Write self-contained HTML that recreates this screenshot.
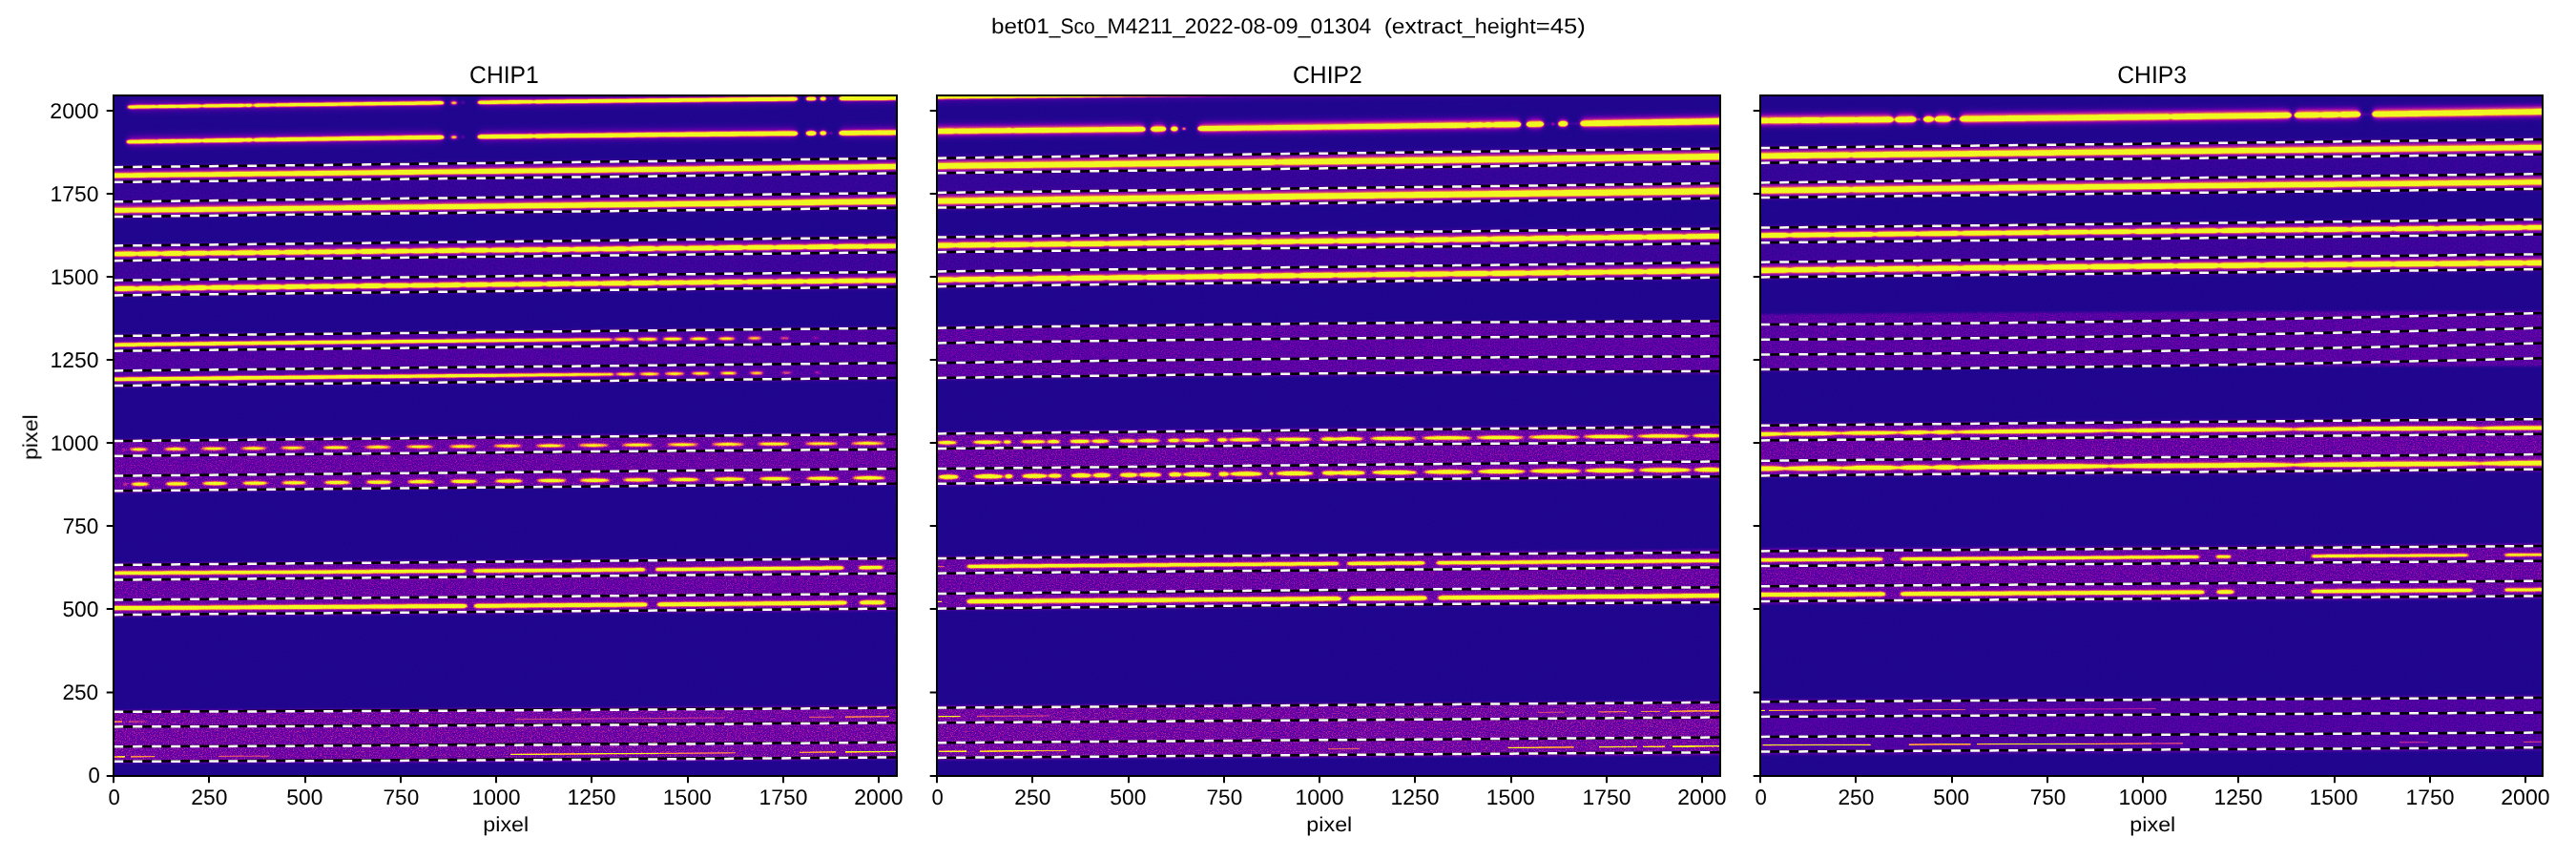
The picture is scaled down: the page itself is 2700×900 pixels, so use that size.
<!DOCTYPE html>
<html lang="en"><head><meta charset="utf-8"><title>bet01_Sco_M4211_2022-08-09_01304</title>
<style>html,body{margin:0;padding:0;background:#fff;}body{width:2700px;height:900px;overflow:hidden;}svg{display:block;}text{font-family:"Liberation Sans",sans-serif;fill:#000;text-rendering:geometricPrecision;}</style></head><body>
<svg width="2700" height="900" viewBox="0 0 2700 900">
<rect width="2700" height="900" fill="#fff"/>
<g id="panel1">
<clipPath id="cp1"><rect x="119" y="100" width="821" height="713"/></clipPath>
<filter id="bbp1" x="109" y="90" width="841" height="733" filterUnits="userSpaceOnUse" color-interpolation-filters="sRGB"><feGaussianBlur stdDeviation="0.9"/></filter>
<filter id="bhp1" x="109" y="90" width="841" height="733" filterUnits="userSpaceOnUse" color-interpolation-filters="sRGB"><feGaussianBlur stdDeviation="2.1"/></filter>
<filter id="bwp1" x="109" y="90" width="841" height="733" filterUnits="userSpaceOnUse" color-interpolation-filters="sRGB"><feGaussianBlur stdDeviation="3"/></filter>
<filter id="bfp1" x="109" y="90" width="841" height="733" filterUnits="userSpaceOnUse" color-interpolation-filters="sRGB"><feGaussianBlur stdDeviation="0.45"/></filter>
<filter id="bcp1" x="109" y="90" width="841" height="733" filterUnits="userSpaceOnUse" color-interpolation-filters="sRGB"><feGaussianBlur stdDeviation="0.8"/></filter>
<filter id="nzp1" x="109" y="90" width="841" height="733" filterUnits="userSpaceOnUse" color-interpolation-filters="sRGB"><feTurbulence type="fractalNoise" baseFrequency="0.8" numOctaves="2" seed="4" result="t"/><feColorMatrix in="t" type="matrix" values="2.2 0 0 0 -0.6  2.2 0 0 0 -0.6  2.2 0 0 0 -0.6  0 0 0 0 1" result="n"/><feComposite in="SourceGraphic" in2="n" operator="arithmetic" k1="1.0" k2="0.5" k3="-0.11" k4="0.055"/></filter>
<filter id="cmp1" x="109" y="90" width="841" height="733" filterUnits="userSpaceOnUse" color-interpolation-filters="sRGB"><feTurbulence type="fractalNoise" baseFrequency="0.9" numOctaves="1" seed="14" result="t"/><feColorMatrix in="t" type="matrix" values="1 0 0 0 0  1 0 0 0 0  1 0 0 0 0  0 0 0 0 1" result="n"/><feComposite in="SourceGraphic" in2="n" operator="arithmetic" k1="0" k2="1" k3="0.05" k4="-0.025" result="m"/><feComponentTransfer in="m"><feFuncR type="table" tableValues="0.0504 0.0504 0.0504 0.0504 0.0504 0.0504 0.0635 0.0635 0.0754 0.0754 0.0862 0.0862 0.0964 0.106 0.1151 0.1239 0.1324 0.1406 0.1486 0.1564 0.1641 0.1716 0.1862 0.1934 0.2074 0.2144 0.228 0.2347 0.248 0.2612 0.2742 0.2871 0.2999 0.3125 0.3252 0.3377 0.3502 0.3626 0.381 0.3933 0.4116 0.4237 0.4417 0.4537 0.4715 0.4891 0.5065 0.5236 0.5406 0.5572 0.5736 0.5897 0.6055 0.6209 0.641 0.6556 0.6745 0.6883 0.7062 0.7192 0.736 0.7523 0.7681 0.7834 0.7982 0.8126 0.8266 0.8402 0.8533 0.8661 0.8814 0.8932 0.9074 0.9181 0.9308 0.9403 0.9513 0.9613 0.9702 0.9779 0.9842 0.9891 0.9925 0.9943 0.9944 0.9925 0.9876 0.9812 0.9705 0.9593 0.9442 0.94 0.94 0.94 0.94 0.94 0.94 0.94 0.94 0.94 0.94 0.94 0.94 0.94 0.94 0.94 0.94 0.94 0.94 0.94 0.94 0.94 0.94 0.94 0.94 0.94 0.94 0.94 0.94 0.94 0.94 0.94 0.94 0.94 0.94 0.94 0.94 0.94 0.94"/><feFuncG type="table" tableValues="0.0298 0.0298 0.0298 0.0298 0.0298 0.0298 0.0284 0.0284 0.0272 0.0272 0.0261 0.0261 0.0252 0.0243 0.0236 0.0229 0.0223 0.0217 0.0212 0.0207 0.0202 0.0197 0.0188 0.0184 0.0174 0.017 0.016 0.0155 0.0144 0.0133 0.0121 0.0109 0.0096 0.0082 0.0069 0.0056 0.0044 0.0032 0.0018 0.0011 0.0006 0.0006 0.0015 0.0028 0.0057 0.0101 0.0163 0.0245 0.035 0.0473 0.06 0.0729 0.0859 0.0989 0.1165 0.1297 0.1474 0.1607 0.1784 0.1917 0.2094 0.2271 0.2448 0.2625 0.2802 0.2979 0.3157 0.3336 0.3516 0.3697 0.3925 0.411 0.4345 0.4536 0.4779 0.4976 0.5228 0.5486 0.575 0.6021 0.6297 0.658 0.687 0.7167 0.747 0.778 0.816 0.8483 0.8879 0.9214 0.9619 0.9752 0.9752 0.9752 0.9752 0.9752 0.9752 0.9752 0.9752 0.9752 0.9752 0.9752 0.9752 0.9752 0.9752 0.9752 0.9752 0.9752 0.9752 0.9752 0.9752 0.9752 0.9752 0.9752 0.9752 0.9752 0.9752 0.9752 0.9752 0.9752 0.9752 0.9752 0.9752 0.9752 0.9752 0.9752 0.9752 0.9752 0.9752"/><feFuncB type="table" tableValues="0.528 0.528 0.528 0.528 0.528 0.528 0.5331 0.5331 0.538 0.538 0.5427 0.5427 0.5471 0.5514 0.5555 0.5594 0.5632 0.567 0.5706 0.5741 0.5775 0.5808 0.5872 0.5903 0.5963 0.5992 0.6049 0.6076 0.6129 0.6179 0.6227 0.6273 0.6316 0.6357 0.6395 0.643 0.6463 0.6492 0.6531 0.6552 0.6577 0.659 0.6601 0.6603 0.6599 0.6585 0.6562 0.6529 0.6486 0.6434 0.6373 0.6304 0.6227 0.6143 0.6021 0.5923 0.5787 0.5681 0.5537 0.5427 0.5279 0.5131 0.4985 0.4839 0.4695 0.4553 0.4413 0.4275 0.4137 0.4001 0.3832 0.3698 0.353 0.3395 0.3227 0.3092 0.2923 0.2753 0.2583 0.2414 0.2246 0.2081 0.1922 0.1772 0.1638 0.1529 0.1444 0.1423 0.1459 0.1516 0.1469 0.1313 0.1313 0.1313 0.1313 0.1313 0.1313 0.1313 0.1313 0.1313 0.1313 0.1313 0.1313 0.1313 0.1313 0.1313 0.1313 0.1313 0.1313 0.1313 0.1313 0.1313 0.1313 0.1313 0.1313 0.1313 0.1313 0.1313 0.1313 0.1313 0.1313 0.1313 0.1313 0.1313 0.1313 0.1313 0.1313 0.1313 0.1313"/><feFuncA type="linear" slope="0" intercept="1"/></feComponentTransfer></filter>
<g clip-path="url(#cp1)">
<g filter="url(#cmp1)">
<g filter="url(#nzp1)">
<rect x="109" y="90" width="841" height="733" fill="#1f1f1f"/>
<g filter="url(#bbp1)">
<polygon points="113,173.37 217.12,172.16 321.25,170.95 425.38,169.73 529.5,168.5 633.62,167.27 737.75,166.03 841.88,164.78 946,163.53 946,219.94 841.88,221.03 737.75,222.14 633.62,223.26 529.5,224.4 425.38,225.55 321.25,226.71 217.12,227.88 113,229.07" fill="#303030"/>
<polygon points="113,255.47 217.12,254.26 321.25,253.08 425.38,251.93 529.5,250.8 633.62,249.7 737.75,248.62 841.88,247.57 946,246.54 946,302.53 841.88,303.67 737.75,304.79 633.62,305.9 529.5,307 425.38,308.08 321.25,309.16 217.12,310.21 113,311.26" fill="#363636"/>
<polygon points="113,350.06 217.12,349.03 321.25,347.99 425.38,346.95 529.5,345.9 633.62,344.84 737.75,343.78 841.88,342.71 946,341.64 946,398.66 841.88,399.42 737.75,400.25 633.62,401.14 529.5,402.1 425.38,403.12 321.25,404.21 217.12,405.36 113,406.57" fill="#414141"/>
<polygon points="113,460.37 217.12,459.2 321.25,458.09 425.38,457.06 529.5,456.1 633.62,455.21 737.75,454.39 841.88,453.64 946,452.96 946,508.37 841.88,508.98 737.75,509.73 633.62,510.6 529.5,511.6 425.38,512.73 321.25,513.99 217.12,515.38 113,516.89" fill="#4f4f4f"/>
<polygon points="113,589.95 217.12,589.1 321.25,588.24 425.38,587.37 529.5,586.5 633.62,585.62 737.75,584.74 841.88,583.85 946,582.95 946,639.96 841.88,640.67 737.75,641.42 633.62,642.19 529.5,643 425.38,643.84 321.25,644.71 217.12,645.62 113,646.55" fill="#4f4f4f"/>
<polygon points="113,744.03 217.12,743.55 321.25,743.04 425.38,742.49 529.5,741.9 633.62,741.27 737.75,740.61 841.88,739.9 946,739.16 946,795.24 841.88,796.27 737.75,797.15 633.62,797.9 529.5,798.5 425.38,798.96 321.25,799.28 217.12,799.46 113,799.5" fill="#555555"/>
</g>
</g>
<g filter="url(#bwp1)" fill="none" stroke-linecap="butt" style="mix-blend-mode:lighten">
<path d="M136 111.26Q299.5 108.99 463 107" stroke="#434343" stroke-width="12.4"/>
<path d="M503 106.51Q668.25 104.54 833.5 102.86" stroke="#434343" stroke-width="12.4"/>
<path d="M882 102.37Q912 102.07 942 101.78" stroke="#434343" stroke-width="12.4"/>
<path d="M135 147.84Q299 145.15 463 143.03" stroke="#464646" stroke-width="13.1"/>
<path d="M503 142.53Q668.25 140.47 833.5 138.99" stroke="#464646" stroke-width="13.1"/>
<path d="M882 138.57Q912 138.32 942 138.08" stroke="#464646" stroke-width="13.1"/>
<path d="M116 183.13Q529.5 178.55 943 173.77" stroke="#484848" stroke-width="13.9"/>
<path d="M116 219.68Q529.5 215.4 943 210.11" stroke="#494949" stroke-width="14.2"/>
<path d="M116 265.43Q529.5 261.2 943 256.97" stroke="#484848" stroke-width="13.7"/>
<path d="M116 301.84Q529.5 297 943 292.97" stroke="#484848" stroke-width="13.7"/>
<path d="M113 360.58Q376 357.2 639 354.89" stroke="#424242" stroke-width="11.9"/>
<path d="M113 396.67Q377 393.77 641 391.36" stroke="#424242" stroke-width="11.9"/>
<path d="M113 599.63Q299.5 598.73 486 597.41" stroke="#434343" stroke-width="12.2"/>
<path d="M498.5 597.32Q586.25 596.7 674 595.98" stroke="#434343" stroke-width="12.2"/>
<path d="M689.5 595.85Q785.75 595.06 882 594.16" stroke="#434343" stroke-width="12.2"/>
<path d="M902.5 593.96Q912.75 593.86 923 593.76" stroke="#434343" stroke-width="12.2"/>
<path d="M113 636.33Q300 635.45 487 634.11" stroke="#454545" stroke-width="12.8"/>
<path d="M499.5 634.02Q587.75 633.38 676 632.64" stroke="#454545" stroke-width="12.8"/>
<path d="M691.5 632.51Q788.25 631.69 885 630.75" stroke="#454545" stroke-width="12.8"/>
<path d="M903.5 630.56Q914.25 630.46 925 630.35" stroke="#454545" stroke-width="12.8"/>
</g>
<g filter="url(#bhp1)" fill="none" stroke-linecap="butt">
<path d="M134 111.59Q299.5 109.29 465 107.27" stroke="#5a5a5a" stroke-width="5.6"/>
<path d="M501 106.84Q668.25 104.84 835.5 103.13" stroke="#5a5a5a" stroke-width="5.6"/>
<path d="M845.4 103.03Q850.2 102.99 855 102.94" stroke="#5a5a5a" stroke-width="5.6"/>
<path d="M860 102.89Q862.7 102.86 865.4 102.83" stroke="#5a5a5a" stroke-width="5.6"/>
<path d="M880 102.69Q912 102.37 944 102.06" stroke="#5a5a5a" stroke-width="5.6"/>
<ellipse cx="475.8" cy="107.14" rx="4" ry="2.7" fill="#636363" stroke="none"/>
<path d="M133 148.17Q299 145.44 465 143.31" stroke="#666666" stroke-width="6.92"/>
<path d="M501 142.85Q668.25 140.76 835.5 139.27" stroke="#666666" stroke-width="6.92"/>
<path d="M845.4 139.19Q850.2 139.14 855 139.1" stroke="#666666" stroke-width="6.92"/>
<path d="M860 139.06Q862.7 139.03 865.4 139.01" stroke="#666666" stroke-width="6.92"/>
<path d="M880 138.89Q912 138.62 944 138.37" stroke="#666666" stroke-width="6.92"/>
<ellipse cx="475.8" cy="143.17" rx="4" ry="3.05" fill="#636363" stroke="none"/>
<path d="M114 183.46Q529.5 178.85 945 174.04" stroke="#797979" stroke-width="8.41"/>
<path d="M114 220Q529.5 215.71 945 210.39" stroke="#7e7e7e" stroke-width="8.98"/>
<path d="M114 265.75Q529.5 261.5 945 257.25" stroke="#747474" stroke-width="8.04"/>
<path d="M114 302.16Q529.5 297.3 945 293.25" stroke="#747474" stroke-width="8.04"/>
<path d="M111 360.9Q376 357.5 641 355.18" stroke="#4f4f4f" stroke-width="4.67"/>
<ellipse cx="653.7" cy="355.06" rx="11.5" ry="2.45" fill="#636363" stroke="none"/>
<ellipse cx="678.8" cy="354.85" rx="11.5" ry="2.45" fill="#636363" stroke="none"/>
<ellipse cx="705" cy="354.63" rx="11" ry="2.45" fill="#636363" stroke="none"/>
<ellipse cx="732.3" cy="354.41" rx="10.5" ry="2.45" fill="#636363" stroke="none"/>
<ellipse cx="761.6" cy="354.17" rx="9.5" ry="2.45" fill="#636363" stroke="none"/>
<ellipse cx="791" cy="353.95" rx="8" ry="2.45" fill="#636363" stroke="none"/>
<path d="M111 396.99Q377 394.06 643 391.64" stroke="#4f4f4f" stroke-width="4.67"/>
<ellipse cx="655.7" cy="391.53" rx="11.5" ry="2.45" fill="#636363" stroke="none"/>
<ellipse cx="680.8" cy="391.3" rx="11.5" ry="2.45" fill="#636363" stroke="none"/>
<ellipse cx="707" cy="391.07" rx="11" ry="2.45" fill="#636363" stroke="none"/>
<ellipse cx="734.3" cy="390.83" rx="10.5" ry="2.45" fill="#636363" stroke="none"/>
<ellipse cx="763.6" cy="390.57" rx="9.5" ry="2.45" fill="#636363" stroke="none"/>
<ellipse cx="793" cy="390.32" rx="8" ry="2.45" fill="#636363" stroke="none"/>
<ellipse cx="145.5" cy="470.33" rx="10" ry="2.1" fill="#636363" stroke="none"/>
<ellipse cx="184" cy="469.95" rx="12.5" ry="2.1" fill="#636363" stroke="none"/>
<ellipse cx="224" cy="469.56" rx="14" ry="2.1" fill="#636363" stroke="none"/>
<ellipse cx="266" cy="469.16" rx="14" ry="2.1" fill="#636363" stroke="none"/>
<ellipse cx="307" cy="468.77" rx="13.5" ry="2.1" fill="#636363" stroke="none"/>
<ellipse cx="352" cy="468.36" rx="14.5" ry="2.1" fill="#636363" stroke="none"/>
<ellipse cx="396" cy="467.96" rx="14.5" ry="2.1" fill="#636363" stroke="none"/>
<ellipse cx="440" cy="467.57" rx="15" ry="2.1" fill="#636363" stroke="none"/>
<ellipse cx="485" cy="467.18" rx="15" ry="2.1" fill="#636363" stroke="none"/>
<ellipse cx="532" cy="466.78" rx="15.5" ry="2.1" fill="#636363" stroke="none"/>
<ellipse cx="577" cy="466.41" rx="16" ry="2.1" fill="#636363" stroke="none"/>
<ellipse cx="622" cy="466.04" rx="16.5" ry="2.1" fill="#636363" stroke="none"/>
<ellipse cx="668" cy="465.68" rx="17" ry="2.1" fill="#636363" stroke="none"/>
<ellipse cx="715.5" cy="465.31" rx="17" ry="2.1" fill="#636363" stroke="none"/>
<ellipse cx="763" cy="464.95" rx="17.5" ry="2.1" fill="#636363" stroke="none"/>
<ellipse cx="811" cy="464.6" rx="17.5" ry="2.1" fill="#636363" stroke="none"/>
<ellipse cx="861" cy="464.24" rx="18" ry="2.1" fill="#636363" stroke="none"/>
<ellipse cx="909.5" cy="463.91" rx="18" ry="2.1" fill="#636363" stroke="none"/>
<ellipse cx="958" cy="463.58" rx="18" ry="2.1" fill="#636363" stroke="none"/>
<ellipse cx="146.8" cy="506.67" rx="10" ry="2.4" fill="#636363" stroke="none"/>
<ellipse cx="185.3" cy="506.36" rx="12.5" ry="2.4" fill="#636363" stroke="none"/>
<ellipse cx="225.3" cy="506.03" rx="14" ry="2.4" fill="#636363" stroke="none"/>
<ellipse cx="267.3" cy="505.68" rx="14" ry="2.4" fill="#636363" stroke="none"/>
<ellipse cx="308.3" cy="505.34" rx="13.5" ry="2.4" fill="#636363" stroke="none"/>
<ellipse cx="353.3" cy="504.97" rx="14.5" ry="2.4" fill="#636363" stroke="none"/>
<ellipse cx="397.3" cy="504.61" rx="14.5" ry="2.4" fill="#636363" stroke="none"/>
<ellipse cx="441.3" cy="504.24" rx="15" ry="2.4" fill="#636363" stroke="none"/>
<ellipse cx="486.3" cy="503.86" rx="15" ry="2.4" fill="#636363" stroke="none"/>
<ellipse cx="533.3" cy="503.47" rx="15.5" ry="2.4" fill="#636363" stroke="none"/>
<ellipse cx="578.3" cy="503.09" rx="16" ry="2.4" fill="#636363" stroke="none"/>
<ellipse cx="623.3" cy="502.71" rx="16.5" ry="2.4" fill="#636363" stroke="none"/>
<ellipse cx="669.3" cy="502.32" rx="17" ry="2.4" fill="#636363" stroke="none"/>
<ellipse cx="716.8" cy="501.92" rx="17" ry="2.4" fill="#636363" stroke="none"/>
<ellipse cx="764.3" cy="501.51" rx="17.5" ry="2.4" fill="#636363" stroke="none"/>
<ellipse cx="812.3" cy="501.1" rx="17.5" ry="2.4" fill="#636363" stroke="none"/>
<ellipse cx="862.3" cy="500.67" rx="18" ry="2.4" fill="#636363" stroke="none"/>
<ellipse cx="910.8" cy="500.25" rx="18" ry="2.4" fill="#636363" stroke="none"/>
<ellipse cx="959.3" cy="499.83" rx="18" ry="2.4" fill="#636363" stroke="none"/>
<path d="M111 599.94Q299.5 599.03 488 597.7" stroke="#545454" stroke-width="5.23"/>
<path d="M496.5 597.64Q586.25 597 676 596.27" stroke="#545454" stroke-width="5.23"/>
<path d="M687.5 596.17Q785.75 595.36 884 594.44" stroke="#545454" stroke-width="5.23"/>
<path d="M900.5 594.28Q912.75 594.16 925 594.05" stroke="#545454" stroke-width="5.23"/>
<path d="M111 636.64Q300 635.75 489 634.4" stroke="#5e5e5e" stroke-width="6.35"/>
<path d="M497.5 634.33Q587.75 633.68 678 632.92" stroke="#5e5e5e" stroke-width="6.35"/>
<path d="M689.5 632.83Q788.25 631.99 887 631.03" stroke="#5e5e5e" stroke-width="6.35"/>
<path d="M901.5 630.88Q914.25 630.76 927 630.63" stroke="#5e5e5e" stroke-width="6.35"/>
</g>
<g filter="url(#bcp1)" fill="none">
<polygon points="133,112.1 133.75,111.3 134.5,111.03 135.25,110.85 136,110.75 136.75,110.7 139,110.66 145,110.58 151,110.49 156.5,110.42 157,110.41 158,110.4 159.5,110.38 161,110.36 162.5,110.48 163,110.58 164,110.7 165.5,110.44 167,110.28 168.5,110.25 169,110.24 170,110.23 171.5,110.21 175,110.16 178.5,110.11 180,110.09 181,110.07 181.5,110.07 183,110.05 184.5,110.15 186,110.35 187,110.21 187.5,110.11 189,109.97 190.5,109.94 192,109.92 193,109.91 193.5,109.9 199,109.82 204,109.75 205,109.74 205.5,109.73 207,109.71 208.5,109.71 210,110 211,110.31 211.5,110.36 213,109.95 214.5,109.63 216,109.59 217,109.57 217.5,109.57 219,109.54 223,109.49 229,109.41 235,109.32 241,109.24 247,109.16 249.1,109.13 250.6,109.11 252.1,109.09 253,109.08 253.6,109.08 255.1,109.23 256.6,109.51 257.8,109.27 258.1,109.19 259,109.03 259.3,109.01 259.6,109 260.8,108.97 261.1,108.97 262.3,108.98 262.6,109.01 263.8,109.41 264.1,109.56 265,109.79 265.3,109.79 266.8,109.37 268.3,108.9 269.8,108.85 271,108.83 271.3,108.83 272.8,108.81 275.5,108.77 277,108.75 278.5,108.73 280,108.71 281.5,108.8 283,109.01 284.5,108.76 286,108.76 287.5,109 289,108.71 290.5,108.57 292,108.55 293.5,108.53 295,108.51 301,108.42 307,108.34 313,108.26 319,108.18 325,108.1 331,108.02 337,107.94 343,107.86 349,107.78 355,107.7 361,107.62 367,107.54 373,107.46 379,107.38 385,107.31 391,107.23 397,107.15 403,107.07 409,106.99 415,106.91 421,106.83 427,106.76 433,106.68 439,106.6 445,106.52 451,106.45 457,106.37 462.25,106.31 463,106.34 463.75,106.43 464.5,106.6 465.25,106.89 466,107.76 466,107.76 465.25,108.65 464.5,108.95 463.75,109.14 463,109.25 462.25,109.31 457,109.37 451,109.44 445,109.51 439,109.58 433,109.65 427,109.72 421,109.79 415,109.86 409,109.93 403,110.01 397,110.08 391,110.15 385,110.22 379,110.29 373,110.37 367,110.44 361,110.51 355,110.58 349,110.66 343,110.73 337,110.81 331,110.88 325,110.95 319,111.03 313,111.1 307,111.18 301,111.25 295,111.33 293.5,111.35 292,111.37 290.5,111.38 289,111.28 287.5,111.03 286,111.31 284.5,111.35 283,111.14 281.5,111.39 280,111.52 278.5,111.54 277,111.56 275.5,111.58 272.8,111.61 271.3,111.63 271,111.63 269.8,111.65 268.3,111.63 266.8,111.21 265.3,110.82 265,110.84 264.1,111.09 263.8,111.24 262.6,111.67 262.3,111.71 261.1,111.76 260.8,111.76 259.6,111.77 259.3,111.76 259,111.75 258.1,111.62 257.8,111.54 256.6,111.34 255.1,111.66 253.6,111.85 253,111.86 252.1,111.88 250.6,111.9 249.1,111.92 247,111.94 241,112.02 235,112.1 229,112.18 223,112.25 219,112.31 217.5,112.33 217,112.33 216,112.35 214.5,112.34 213,112.06 211.5,111.7 211,111.75 210,112.1 208.5,112.42 207,112.46 205.5,112.48 205,112.49 204,112.5 199,112.57 193.5,112.64 193,112.65 192,112.66 190.5,112.68 189,112.7 187.5,112.6 187,112.51 186,112.4 184.5,112.64 183,112.78 181.5,112.8 181,112.81 180,112.82 178.5,112.84 175,112.89 171.5,112.94 170,112.96 169,112.97 168.5,112.98 167,112.99 165.5,112.87 164,112.65 163,112.8 162.5,112.91 161,113.07 159.5,113.1 158,113.12 157,113.13 156.5,113.14 151,113.21 145,113.3 139,113.38 136.75,113.41 136,113.38 135.25,113.29 134.5,113.14 133.75,112.88 133,112.1" fill="#fff" stroke="none"/>
<polygon points="500,107.35 500.75,106.45 501.5,106.14 502.25,105.95 503,105.83 503.75,105.78 506,105.75 512,105.67 518,105.59 524,105.52 530,105.44 536,105.37 542,105.29 548,105.22 551.9,105.17 553.4,105.15 554,105.14 554.9,105.13 556.4,105.13 557.9,105.35 559.4,105.76 560,105.66 560.9,105.31 562.4,105.05 563.9,105.02 565.4,105 566,104.99 566.9,104.98 572,104.92 578,104.85 584,104.77 590,104.7 596,104.62 602,104.55 608,104.48 614,104.4 620,104.33 626,104.26 632,104.19 638,104.11 644,104.04 650,103.97 656,103.9 662,103.82 668,103.75 674,103.68 680,103.61 686,103.54 692,103.47 698,103.39 704,103.32 710,103.25 716,103.18 722,103.11 728,103.04 734,102.97 740,102.9 746,102.83 752,102.76 758,102.69 764,102.62 770,102.55 776,102.48 782,102.41 788,102.34 794,102.28 800,102.21 806,102.14 812,102.07 818,102 824,101.93 830,101.87 832.75,101.84 833.5,101.89 834.25,102 835,102.21 835.75,102.57 836,102.74 836.5,103.62 836.5,103.62 836,104.52 835.75,104.7 835,105.07 834.25,105.29 833.5,105.42 832.75,105.49 830,105.51 824,105.57 818,105.62 812,105.68 806,105.74 800,105.79 794,105.85 788,105.9 782,105.96 776,106.02 770,106.07 764,106.13 758,106.19 752,106.25 746,106.3 740,106.36 734,106.42 728,106.48 722,106.54 716,106.6 710,106.66 704,106.72 698,106.78 692,106.84 686,106.9 680,106.96 674,107.02 668,107.08 662,107.14 656,107.2 650,107.26 644,107.32 638,107.39 632,107.45 626,107.51 620,107.57 614,107.64 608,107.7 602,107.76 596,107.83 590,107.89 584,107.96 578,108.02 572,108.09 566.9,108.14 566,108.15 565.4,108.16 563.9,108.17 562.4,108.18 560.9,107.95 560,107.63 559.4,107.54 557.9,107.98 556.4,108.24 554.9,108.27 554,108.28 553.4,108.29 551.9,108.3 548,108.35 542,108.41 536,108.48 530,108.55 524,108.61 518,108.68 512,108.75 506,108.81 503.75,108.84 503,108.8 502.25,108.7 501.5,108.53 500.75,108.23 500,107.35" fill="#fff" stroke="none"/>
<polygon points="844.4,103.54 845.15,102.46 845.9,102.09 846.65,101.86 847.4,101.73 848.15,101.67 850.4,101.64 852.25,101.62 853,101.67 853.75,101.79 854.5,102 855.25,102.36 856,103.43 856,103.43 855.25,104.51 854.5,104.89 853.75,105.11 853,105.25 852.25,105.31 850.4,105.33 848.15,105.35 847.4,105.3 846.65,105.18 845.9,104.97 845.15,104.61 844.4,103.54" fill="#fff" stroke="none"/>
<polygon points="859,103.4 859.75,102.27 860.5,101.89 861.25,101.66 862,101.54 863.4,101.53 864.15,101.63 864.9,101.84 865,101.88 865.65,102.21 866.4,103.32 866.4,103.32 865.65,104.45 865,104.8 864.9,104.84 864.15,105.06 863.4,105.18 862,105.19 861.25,105.08 860.5,104.88 859.75,104.51 859,103.4" fill="#fff" stroke="none"/>
<polygon points="879,103.2 879.75,102.09 880.5,101.71 881.25,101.48 882,101.34 882.75,101.28 885,101.25 891,101.19 897,101.12 903,101.05 909,100.99 915,100.92 921,100.86 927,100.79 933,100.73 939,100.66 945,100.6 945,104.51 939,104.56 933,104.61 927,104.66 921,104.71 915,104.76 909,104.81 903,104.87 897,104.92 891,104.97 885,105.02 882.75,105.04 882,104.99 881.25,104.87 880.5,104.65 879.75,104.29 879,103.2" fill="#fff" stroke="none"/>
<ellipse cx="475.8" cy="107.64" rx="3.5" ry="1.01" fill="#ffffff" stroke="none"/>
<ellipse cx="485.2" cy="107.53" rx="1.75" ry="0.68" fill="#ababab" stroke="none"/>
<ellipse cx="871" cy="103.28" rx="1.75" ry="0.75" fill="#c6c6c6" stroke="none"/>
<polygon points="132,148.69 132.75,147.79 133.5,147.48 134.25,147.29 135,147.17 135.75,147.11 138,147.07 144,146.97 150,146.87 156,146.77 156.5,146.76 158,146.73 159.5,146.71 161,146.69 162,146.73 162.5,146.81 164,147.03 165.5,146.76 167,146.59 168,146.57 168.5,146.56 170,146.53 171.5,146.51 174,146.47 178.5,146.39 180,146.37 181.5,146.34 183,146.32 184.5,146.42 186,146.62 187.5,146.37 189,146.22 190.5,146.19 192,146.17 193.5,146.14 198,146.07 204,145.97 205.5,145.95 207,145.92 208.5,145.92 210,146.21 211.5,146.62 213,146.16 214.5,145.83 216,145.78 217.5,145.75 219,145.73 222,145.68 228,145.58 234,145.49 240,145.39 246,145.3 249.1,145.25 250.6,145.22 252,145.2 252.1,145.2 253.6,145.18 255.1,145.34 256.6,145.63 257.8,145.37 258,145.32 258.1,145.29 259.3,145.11 259.6,145.09 260.8,145.06 261.1,145.06 262.3,145.07 262.6,145.1 263.8,145.51 264,145.62 264.1,145.68 265.3,146.04 266.8,145.46 268.3,144.98 269.8,144.92 270,144.92 271.3,144.9 272.8,144.87 275.5,144.83 276,144.82 277,144.81 278.5,144.78 280,144.77 281.5,144.85 282,144.94 283,145.06 284.5,144.81 286,144.8 287.5,145.04 288,144.99 289,144.75 290.5,144.6 292,144.58 293.5,144.55 294,144.54 295,144.53 300,144.45 306,144.36 312,144.27 318,144.18 324,144.09 330,144 336,143.91 342,143.82 348,143.73 354,143.64 360,143.55 366,143.46 372,143.37 378,143.29 384,143.2 390,143.11 396,143.03 402,142.94 408,142.85 414,142.77 420,142.68 426,142.6 432,142.51 438,142.43 444,142.35 450,142.26 456,142.18 462,142.1 462.25,142.1 463,142.14 463.75,142.25 464.5,142.45 465.25,142.78 466,143.79 466,143.79 465.25,144.83 464.5,145.18 463.75,145.4 463,145.53 462.25,145.59 462,145.59 456,145.67 450,145.74 444,145.81 438,145.89 432,145.96 426,146.04 420,146.11 414,146.19 408,146.26 402,146.34 396,146.42 390,146.49 384,146.57 378,146.65 372,146.73 366,146.81 360,146.89 354,146.97 348,147.05 342,147.13 336,147.21 330,147.29 324,147.37 318,147.45 312,147.53 306,147.62 300,147.7 295,147.77 294,147.78 293.5,147.79 292,147.81 290.5,147.83 289,147.73 288,147.52 287.5,147.48 286,147.77 284.5,147.8 283,147.59 282,147.74 281.5,147.85 280,147.98 278.5,148 277,148.02 276,148.04 275.5,148.05 272.8,148.08 271.3,148.1 270,148.12 269.8,148.13 268.3,148.11 266.8,147.67 265.3,147.14 264.1,147.54 264,147.6 263.8,147.72 262.6,148.16 262.3,148.2 261.1,148.25 260.8,148.25 259.6,148.26 259.3,148.26 258.1,148.11 258,148.09 257.8,148.03 256.6,147.82 255.1,148.15 253.6,148.35 252.1,148.38 252,148.38 250.6,148.4 249.1,148.42 246,148.47 240,148.56 234,148.64 228,148.73 222,148.82 219,148.86 217.5,148.89 216,148.91 214.5,148.91 213,148.62 211.5,148.21 210,148.67 208.5,149 207,149.04 205.5,149.07 204,149.09 198,149.18 193.5,149.25 192,149.27 190.5,149.29 189,149.31 187.5,149.21 186,149.01 184.5,149.25 183,149.4 181.5,149.43 180,149.45 178.5,149.47 174,149.54 171.5,149.58 170,149.61 168.5,149.63 168,149.64 167,149.64 165.5,149.53 164,149.3 162.5,149.57 162,149.66 161,149.74 159.5,149.77 158,149.79 156.5,149.81 156,149.82 150,149.91 144,150.01 138,150.1 135.75,150.14 135,150.1 134.25,150.01 133.5,149.84 132.75,149.56 132,148.69" fill="#fff" stroke="none"/>
<polygon points="500,143.36 500.75,142.32 501.5,141.96 502.25,141.73 503,141.6 503.75,141.54 506,141.5 512,141.43 518,141.35 524,141.27 530,141.19 536,141.11 542,141.03 548,140.96 551.9,140.91 553.4,140.89 554,140.88 554.9,140.87 556.4,140.86 557.9,141.09 559.4,141.51 560,141.4 560.9,141.05 562.4,140.79 563.9,140.75 565.4,140.73 566,140.73 566.9,140.72 572,140.65 578,140.58 584,140.5 590,140.43 596,140.35 602,140.28 608,140.2 614,140.13 620,140.06 626,139.99 632,139.91 638,139.84 644,139.77 650,139.7 656,139.63 662,139.56 668,139.49 674,139.42 680,139.35 686,139.28 692,139.21 698,139.14 704,139.08 710,139.01 716,138.94 722,138.87 728,138.81 734,138.74 740,138.68 746,138.61 752,138.55 758,138.48 764,138.42 770,138.35 776,138.29 782,138.23 788,138.16 794,138.1 800,138.04 806,137.98 812,137.92 818,137.86 824,137.8 830,137.74 832.75,137.71 833.5,137.77 834.25,137.9 835,138.14 835.75,138.55 836,138.76 836.5,139.76 836.5,139.76 836,140.78 835.75,140.99 835,141.41 834.25,141.66 833.5,141.82 832.75,141.88 830,141.91 824,141.96 818,142.01 812,142.05 806,142.1 800,142.15 794,142.2 788,142.25 782,142.3 776,142.35 770,142.41 764,142.46 758,142.51 752,142.56 746,142.62 740,142.67 734,142.72 728,142.78 722,142.83 716,142.89 710,142.94 704,143 698,143.06 692,143.11 686,143.17 680,143.23 674,143.28 668,143.34 662,143.4 656,143.46 650,143.52 644,143.58 638,143.64 632,143.7 626,143.76 620,143.83 614,143.89 608,143.95 602,144.01 596,144.08 590,144.14 584,144.2 578,144.27 572,144.33 566.9,144.39 566,144.4 565.4,144.4 563.9,144.42 562.4,144.42 560.9,144.2 560,143.87 559.4,143.77 557.9,144.23 556.4,144.49 554.9,144.52 554,144.53 553.4,144.54 551.9,144.55 548,144.6 542,144.66 536,144.73 530,144.8 524,144.87 518,144.94 512,145 506,145.07 503.75,145.1 503,145.05 502.25,144.94 501.5,144.74 500.75,144.39 500,143.36" fill="#fff" stroke="none"/>
<polygon points="844.4,139.69 845.15,138.46 845.9,138.04 846.65,137.78 847.4,137.63 848.15,137.56 850.4,137.53 852.25,137.52 853,137.57 853.75,137.71 854.5,137.96 855.25,138.37 856,139.59 856,139.59 855.25,140.83 854.5,141.25 853.75,141.51 853,141.66 852.25,141.73 850.4,141.75 848.15,141.76 847.4,141.71 846.65,141.57 845.9,141.32 845.15,140.91 844.4,139.69" fill="#fff" stroke="none"/>
<polygon points="859,139.57 859.75,138.28 860.5,137.85 861.25,137.6 862,137.46 863.4,137.44 864.15,137.57 864.9,137.81 865,137.85 865.65,138.23 866.4,139.5 866.4,139.5 865.65,140.79 865,141.18 864.9,141.22 864.15,141.47 863.4,141.61 862,141.62 861.25,141.5 860.5,141.26 859.75,140.84 859,139.57" fill="#fff" stroke="none"/>
<polygon points="879,139.4 879.75,138.14 880.5,137.71 881.25,137.45 882,137.3 882.75,137.23 885,137.2 891,137.14 897,137.09 903,137.03 909,136.98 915,136.92 921,136.87 927,136.81 933,136.76 939,136.7 945,136.65 945,141.07 939,141.11 933,141.15 927,141.19 921,141.23 915,141.28 909,141.32 903,141.36 897,141.4 891,141.45 885,141.49 882.75,141.5 882,141.44 881.25,141.3 880.5,141.05 879.75,140.64 879,139.4" fill="#fff" stroke="none"/>
<ellipse cx="475.8" cy="143.67" rx="3.5" ry="1.01" fill="#ffffff" stroke="none"/>
<ellipse cx="485.2" cy="143.55" rx="1.75" ry="0.68" fill="#ababab" stroke="none"/>
<ellipse cx="871" cy="139.46" rx="1.75" ry="0.75" fill="#c6c6c6" stroke="none"/>
<polygon points="113,182.16 119,182.09 125,182.02 131,181.95 137,181.88 143,181.81 149,181.74 155,181.67 161,181.6 167,181.53 173,181.46 179,181.39 185,181.32 191,181.25 197,181.18 203,181.11 209,181.04 215,180.97 221,180.9 227,180.83 233,180.76 239,180.69 245,180.62 251,180.55 257,180.48 263,180.41 269,180.34 275,180.27 281,180.2 287,180.13 293,180.06 299,179.99 305,179.92 311,179.85 317,179.78 323,179.71 329,179.64 335,179.57 341,179.5 347,179.43 353,179.36 359,179.29 365,179.22 371,179.15 377,179.08 383,179.01 389,178.94 395,178.87 401,178.8 407,178.73 413,178.66 419,178.59 425,178.52 431,178.45 437,178.38 443,178.31 449,178.24 455,178.17 461,178.09 467,178.02 473,177.95 479,177.88 485,177.81 491,177.74 497,177.67 503,177.6 509,177.53 515,177.46 521,177.39 527,177.32 533,177.25 539,177.17 545,177.1 551,177.03 557,176.96 563,176.89 569,176.82 575,176.75 581,176.68 587,176.61 593,176.54 599,176.46 605,176.39 611,176.32 617,176.25 623,176.18 629,176.11 635,176.04 641,175.97 647,175.89 653,175.82 659,175.75 665,175.68 671,175.61 677,175.54 683,175.47 689,175.39 695,175.32 701,175.25 707,175.18 713,175.11 719,175.04 725,174.97 731,174.89 737,174.82 743,174.75 749,174.68 755,174.61 761,174.54 767,174.46 773,174.39 779,174.32 785,174.25 791,174.18 797,174.11 803,174.03 809,173.96 815,173.89 821,173.82 827,173.75 833,173.67 839,173.6 845,173.53 851,173.46 857,173.39 863,173.31 869,173.24 875,173.17 881,173.1 887,173.03 893,172.95 899,172.88 905,172.81 911,172.74 917,172.66 923,172.59 929,172.52 935,172.45 941,172.37 946,172.31 946,176.75 941,176.8 935,176.87 929,176.94 923,177 917,177.07 911,177.13 905,177.2 899,177.27 893,177.33 887,177.4 881,177.47 875,177.53 869,177.6 863,177.66 857,177.73 851,177.8 845,177.86 839,177.93 833,178 827,178.06 821,178.13 815,178.19 809,178.26 803,178.33 797,178.39 791,178.46 785,178.52 779,178.59 773,178.66 767,178.72 761,178.79 755,178.85 749,178.92 743,178.99 737,179.05 731,179.12 725,179.18 719,179.25 713,179.31 707,179.38 701,179.45 695,179.51 689,179.58 683,179.64 677,179.71 671,179.77 665,179.84 659,179.9 653,179.97 647,180.04 641,180.1 635,180.17 629,180.23 623,180.3 617,180.36 611,180.43 605,180.49 599,180.56 593,180.62 587,180.69 581,180.75 575,180.82 569,180.88 563,180.95 557,181.01 551,181.08 545,181.15 539,181.21 533,181.28 527,181.34 521,181.41 515,181.47 509,181.54 503,181.6 497,181.67 491,181.73 485,181.79 479,181.86 473,181.92 467,181.99 461,182.05 455,182.12 449,182.18 443,182.25 437,182.31 431,182.38 425,182.44 419,182.51 413,182.57 407,182.64 401,182.7 395,182.77 389,182.83 383,182.89 377,182.96 371,183.02 365,183.09 359,183.15 353,183.22 347,183.28 341,183.35 335,183.41 329,183.47 323,183.54 317,183.6 311,183.67 305,183.73 299,183.8 293,183.86 287,183.92 281,183.99 275,184.05 269,184.12 263,184.18 257,184.25 251,184.31 245,184.37 239,184.44 233,184.5 227,184.57 221,184.63 215,184.69 209,184.76 203,184.82 197,184.88 191,184.95 185,185.01 179,185.08 173,185.14 167,185.2 161,185.27 155,185.33 149,185.4 143,185.46 137,185.52 131,185.59 125,185.65 119,185.71 113,185.78" fill="#fff" stroke="none"/>
<polygon points="113,218.67 119,218.6 125,218.54 131,218.47 137,218.41 143,218.34 149,218.28 155,218.21 161,218.14 167,218.08 173,218.01 179,217.95 185,217.88 191,217.81 197,217.74 203,217.68 209,217.61 215,217.54 221,217.48 227,217.41 233,217.34 239,217.27 245,217.21 251,217.14 257,217.07 263,217 269,216.93 275,216.86 281,216.8 287,216.73 293,216.66 299,216.59 305,216.52 311,216.45 317,216.38 323,216.31 329,216.24 335,216.17 341,216.1 347,216.03 353,215.96 359,215.89 365,215.82 371,215.75 377,215.68 383,215.61 389,215.54 395,215.47 401,215.4 407,215.33 413,215.26 419,215.19 425,215.12 431,215.04 437,214.97 443,214.9 449,214.83 455,214.76 461,214.69 467,214.61 473,214.54 479,214.47 485,214.4 491,214.32 497,214.25 503,214.18 509,214.11 515,214.03 521,213.96 527,213.89 533,213.81 539,213.74 545,213.66 551,213.59 557,213.52 563,213.44 569,213.37 575,213.29 581,213.22 587,213.15 593,213.07 599,213 605,212.92 611,212.85 617,212.77 623,212.7 629,212.62 635,212.55 641,212.47 647,212.39 653,212.32 659,212.24 665,212.17 671,212.09 677,212.01 683,211.94 689,211.86 695,211.78 701,211.71 707,211.63 713,211.55 719,211.48 725,211.4 731,211.32 737,211.24 743,211.17 749,211.09 755,211.01 761,210.93 767,210.86 773,210.78 779,210.7 785,210.62 791,210.54 797,210.46 803,210.38 809,210.31 815,210.23 821,210.15 827,210.07 833,209.99 839,209.91 845,209.83 851,209.75 857,209.67 863,209.59 869,209.51 875,209.43 881,209.35 887,209.27 893,209.19 899,209.11 905,209.03 911,208.95 917,208.87 923,208.79 929,208.7 935,208.62 941,208.54 946,208.47 946,213.27 941,213.33 935,213.4 929,213.48 923,213.55 917,213.62 911,213.69 905,213.76 899,213.83 893,213.91 887,213.98 881,214.05 875,214.12 869,214.19 863,214.26 857,214.33 851,214.4 845,214.47 839,214.54 833,214.61 827,214.68 821,214.75 815,214.82 809,214.89 803,214.96 797,215.03 791,215.1 785,215.17 779,215.24 773,215.31 767,215.38 761,215.45 755,215.52 749,215.59 743,215.66 737,215.73 731,215.79 725,215.86 719,215.93 713,216 707,216.07 701,216.14 695,216.2 689,216.27 683,216.34 677,216.41 671,216.48 665,216.54 659,216.61 653,216.68 647,216.75 641,216.81 635,216.88 629,216.95 623,217.01 617,217.08 611,217.15 605,217.21 599,217.28 593,217.35 587,217.41 581,217.48 575,217.55 569,217.61 563,217.68 557,217.74 551,217.81 545,217.88 539,217.94 533,218.01 527,218.07 521,218.14 515,218.2 509,218.27 503,218.33 497,218.4 491,218.46 485,218.53 479,218.59 473,218.66 467,218.72 461,218.79 455,218.85 449,218.91 443,218.98 437,219.04 431,219.11 425,219.17 419,219.23 413,219.3 407,219.36 401,219.42 395,219.49 389,219.55 383,219.61 377,219.68 371,219.74 365,219.8 359,219.86 353,219.93 347,219.99 341,220.05 335,220.11 329,220.18 323,220.24 317,220.3 311,220.36 305,220.43 299,220.49 293,220.55 287,220.61 281,220.67 275,220.73 269,220.79 263,220.86 257,220.92 251,220.98 245,221.04 239,221.1 233,221.16 227,221.22 221,221.28 215,221.34 209,221.4 203,221.46 197,221.52 191,221.58 185,221.64 179,221.7 173,221.76 167,221.82 161,221.88 155,221.94 149,222 143,222.06 137,222.12 131,222.18 125,222.24 119,222.3 113,222.35" fill="#fff" stroke="none"/>
<polygon points="113,264.29 113.01,264.29 114.51,264.31 116.01,264.47 117.51,264.82 119,265.03 119.01,265.03 120.51,264.79 122.01,264.41 123.51,264.22 125,264.17 125.01,264.17 126.51,264.15 131,264.1 135.98,264.05 137,264.04 137.48,264.04 138.98,264.06 140.48,264.22 141.98,264.57 143,264.75 143.48,264.78 144.98,264.54 146.48,264.16 147.98,263.97 149,263.93 149.48,263.92 150.98,263.9 155,263.86 160.72,263.8 161,263.8 162.22,263.79 163.72,263.81 165.22,263.97 166.72,264.31 167,264.38 168.22,264.52 169.72,264.28 171.22,263.9 172.72,263.72 173,263.7 174.22,263.67 175.72,263.65 179,263.61 185,263.55 185.72,263.54 187.22,263.53 188.72,263.55 190.22,263.71 191,263.88 191.72,264.06 193.22,264.27 194.72,264.03 196.22,263.65 197,263.53 197.72,263.46 199.22,263.41 200.72,263.39 203,263.37 209,263.31 211,263.29 212.5,263.27 214,263.3 215,263.38 215.5,263.45 217,263.8 218.5,264.01 220,263.77 221,263.5 221.5,263.39 223,263.2 224.5,263.15 226,263.13 227,263.12 233,263.06 236.55,263.02 238.05,263.01 239,263.02 239.55,263.03 241.05,263.19 242.55,263.54 244.05,263.75 245,263.64 245.55,263.51 247.05,263.13 248.55,262.94 250.05,262.89 251,262.88 251.55,262.87 257,262.82 262.39,262.76 263,262.75 263.89,262.75 265.39,262.77 266.89,262.93 268.39,263.27 269,263.4 269.89,263.48 271.39,263.24 272.89,262.86 274.39,262.68 275,262.65 275.89,262.63 277.39,262.61 281,262.57 287,262.51 288.5,262.49 290,262.48 291.5,262.5 293,262.66 294.5,263.01 296,263.22 297.5,262.97 299,262.6 300.5,262.41 302,262.36 303.5,262.34 305,262.32 311,262.26 314.9,262.22 316.4,262.21 317,262.21 317.9,262.23 319.4,262.39 320.9,262.74 322.4,262.95 323,262.9 323.9,262.7 325.4,262.33 326.9,262.14 328.4,262.09 329,262.08 329.9,262.07 335,262.02 341,261.96 341.3,261.95 342.8,261.94 344.3,261.96 345.8,262.12 347,262.39 347.3,262.47 348.8,262.68 350.3,262.43 351.8,262.06 353,261.89 353.3,261.87 354.8,261.82 356.3,261.8 359,261.77 365,261.71 367.99,261.68 369.49,261.67 370.99,261.69 371,261.69 372.49,261.85 373.99,262.19 375.49,262.4 376.99,262.16 377,262.16 378.49,261.78 379.99,261.6 381.49,261.55 382.99,261.53 383,261.53 389,261.46 394.96,261.4 395,261.4 396.46,261.39 397.96,261.41 399.46,261.57 400.96,261.92 401,261.93 402.46,262.13 403.96,261.88 405.46,261.51 406.96,261.32 407,261.32 408.46,261.27 409.96,261.25 413,261.22 419,261.16 422.22,261.13 423.72,261.11 425,261.13 425.22,261.13 426.72,261.29 428.22,261.64 429.72,261.85 431,261.66 431.22,261.61 432.72,261.23 434.22,261.04 435.72,260.99 437,260.97 437.22,260.97 443,260.91 449,260.85 449.78,260.84 451.28,260.83 452.78,260.85 454.28,261.01 455,261.16 455.78,261.35 457.28,261.57 458.78,261.32 460.28,260.95 461,260.83 461.78,260.76 463.28,260.71 464.78,260.69 467,260.67 473,260.61 477.64,260.56 479,260.55 479.14,260.55 480.64,260.57 482.14,260.72 483.64,261.07 485,261.28 485.14,261.28 486.64,261.04 488.14,260.66 489.64,260.48 491,260.43 491.14,260.42 492.64,260.4 497,260.36 503,260.3 505.8,260.27 507.3,260.26 508.8,260.28 509,260.29 510.3,260.44 511.8,260.78 513.3,260.99 514.8,260.75 515,260.7 516.3,260.37 517.8,260.19 519.3,260.14 520.8,260.12 521,260.11 527,260.05 533,259.99 534.26,259.98 535.76,259.97 537.26,259.99 538.76,260.14 539,260.19 540.26,260.49 541.76,260.7 543.26,260.46 544.76,260.08 545,260.04 546.26,259.9 547.76,259.84 549.26,259.83 551,259.81 557,259.75 563,259.68 563.03,259.68 564.53,259.67 566.03,259.69 567.53,259.85 569,260.19 569.03,260.2 570.53,260.41 572.03,260.16 573.53,259.79 575,259.6 575.03,259.6 576.53,259.55 578.03,259.53 581,259.5 587,259.44 592.11,259.39 593,259.38 593.61,259.38 595.11,259.4 596.61,259.55 598.11,259.9 599,260.07 599.61,260.11 601.11,259.87 602.61,259.49 604.11,259.3 605,259.27 605.61,259.25 607.11,259.23 611,259.19 617,259.13 621.5,259.09 623,259.07 624.5,259.1 626,259.25 627.5,259.6 629,259.81 630.5,259.57 632,259.19 633.5,259 635,258.95 636.5,258.93 641,258.89 647,258.83 651.21,258.78 652.71,258.77 653,258.77 654.21,258.79 655.71,258.95 657.21,259.29 658.71,259.5 659,259.49 660.21,259.26 661.71,258.89 663.21,258.7 664.71,258.65 665,258.64 666.21,258.63 671,258.58 677,258.52 681.24,258.48 682.74,258.46 683,258.46 684.24,258.48 685.74,258.64 687.24,258.99 688.74,259.2 689,259.19 690.24,258.96 691.74,258.58 693.24,258.39 694.74,258.34 695,258.34 696.24,258.32 701,258.27 707,258.21 711.6,258.16 713,258.15 713.1,258.15 714.6,258.17 716.1,258.33 717.6,258.68 719,258.89 719.1,258.89 720.6,258.65 722.1,258.27 723.6,258.08 725,258.03 725.1,258.03 726.6,258.01 731,257.97 737,257.9 742.29,257.85 743,257.84 743.79,257.84 745.29,257.86 746.79,258.02 748.29,258.36 749,258.51 749.79,258.57 751.29,258.33 752.79,257.95 754.29,257.77 755,257.73 755.79,257.72 757.29,257.7 761,257.66 767,257.6 773,257.54 773.3,257.53 774.8,257.52 776.3,257.54 777.8,257.7 779,257.97 779.3,258.04 780.8,258.26 782.3,258.01 783.8,257.64 785,257.47 785.3,257.45 786.8,257.4 788.3,257.38 791,257.35 797,257.29 803,257.23 804.65,257.21 806.15,257.2 807.65,257.22 809,257.35 809.15,257.38 810.65,257.72 812.15,257.93 813.65,257.69 815,257.35 815.15,257.32 816.65,257.13 818.15,257.08 819.65,257.06 821,257.04 827,256.98 833,256.92 836.34,256.89 837.84,256.88 839,256.89 839.34,256.9 840.84,257.05 842.34,257.4 843.84,257.61 845,257.46 845.34,257.37 846.84,256.99 848.34,256.81 849.84,256.75 851,256.74 851.34,256.73 857,256.68 863,256.62 868.37,256.56 869,256.55 869.87,256.55 871.37,256.57 872.87,256.73 874.37,257.07 875,257.21 875.87,257.28 877.37,257.04 878.87,256.66 880.37,256.48 881,256.45 881.87,256.43 883.37,256.41 887,256.37 893,256.31 899,256.25 900.75,256.23 902.25,256.22 903.75,256.24 905,256.35 905.25,256.39 906.75,256.74 908.25,256.95 909.75,256.71 911,256.39 911.25,256.33 912.75,256.15 914.25,256.09 915.75,256.08 917,256.06 923,256 929,255.94 933.48,255.89 934.98,255.88 935,255.88 936.48,255.9 937.98,256.06 939.48,256.41 940.98,256.62 941,256.62 942.48,256.37 943.98,256 945.48,255.81 946,255.79 946,259.69 945.48,259.68 943.98,259.52 942.48,259.17 941,258.96 940.98,258.96 939.48,259.2 937.98,259.58 936.48,259.77 935,259.82 934.98,259.82 933.48,259.84 929,259.89 923,259.95 917,260.01 915.75,260.02 914.25,260.03 912.75,260.01 911.25,259.86 911,259.81 909.75,259.51 908.25,259.3 906.75,259.54 905.25,259.92 905,259.96 903.75,260.1 902.25,260.15 900.75,260.17 899,260.19 893,260.25 887,260.31 883.37,260.35 881.87,260.36 881,260.36 880.37,260.34 878.87,260.19 877.37,259.84 875.87,259.63 875,259.72 874.37,259.87 872.87,260.25 871.37,260.43 869.87,260.49 869,260.5 868.37,260.51 863,260.56 857,260.62 851.34,260.68 851,260.68 849.84,260.69 848.34,260.67 846.84,260.51 845.34,260.17 845,260.09 843.84,259.96 842.34,260.2 840.84,260.58 839.34,260.76 839,260.78 837.84,260.81 836.34,260.83 833,260.87 827,260.93 821,260.99 819.65,261 818.15,261.02 816.65,260.99 815.15,260.84 815,260.81 813.65,260.49 812.15,260.28 810.65,260.52 809.15,260.9 809,260.93 807.65,261.09 806.15,261.14 804.65,261.16 803,261.17 797,261.24 791,261.3 788.3,261.32 786.8,261.34 785.3,261.32 785,261.3 783.8,261.16 782.3,260.81 780.8,260.6 779.3,260.84 779,260.92 777.8,261.22 776.3,261.41 774.8,261.46 773.3,261.48 773,261.48 767,261.54 761,261.6 757.29,261.64 755.79,261.65 755,261.65 754.29,261.63 752.79,261.48 751.29,261.13 749.79,260.92 749,261 748.29,261.16 746.79,261.54 745.29,261.72 743.79,261.78 743,261.79 742.29,261.8 737,261.85 731,261.91 726.6,261.96 725.1,261.97 725,261.97 723.6,261.95 722.1,261.79 720.6,261.44 719.1,261.23 719,261.24 717.6,261.47 716.1,261.85 714.6,262.04 713.1,262.09 713,262.09 711.6,262.11 707,262.16 701,262.22 696.24,262.27 695,262.28 694.74,262.28 693.24,262.26 691.74,262.1 690.24,261.75 689,261.55 688.74,261.54 687.24,261.79 685.74,262.16 684.24,262.35 683,262.4 682.74,262.4 681.24,262.42 677,262.46 671,262.52 666.21,262.57 665,262.58 664.71,262.59 663.21,262.56 661.71,262.41 660.21,262.06 659,261.86 658.71,261.85 657.21,262.09 655.71,262.47 654.21,262.66 653,262.7 652.71,262.71 651.21,262.73 647,262.77 641,262.83 636.5,262.88 635,262.89 633.5,262.87 632,262.71 630.5,262.37 629,262.16 627.5,262.4 626,262.77 624.5,262.96 623,263.01 621.5,263.03 617,263.08 611,263.14 607.11,263.18 605.61,263.19 605,263.19 604.11,263.17 602.61,263.01 601.11,262.67 599.61,262.46 599,262.5 598.11,262.7 596.61,263.07 595.11,263.26 593.61,263.31 593,263.32 592.11,263.33 587,263.38 581,263.45 578.03,263.48 576.53,263.49 575.03,263.47 575,263.47 573.53,263.31 572.03,262.96 570.53,262.75 569.03,262.99 569,263 567.53,263.37 566.03,263.56 564.53,263.61 563.03,263.63 563,263.63 557,263.69 551,263.75 549.26,263.77 547.76,263.78 546.26,263.76 545,263.64 544.76,263.61 543.26,263.26 541.76,263.05 540.26,263.29 539,263.62 538.76,263.67 537.26,263.85 535.76,263.9 534.26,263.92 533,263.94 527,264 521,264.06 520.8,264.06 519.3,264.07 517.8,264.05 516.3,263.9 515,263.6 514.8,263.55 513.3,263.34 511.8,263.58 510.3,263.96 509,264.13 508.8,264.14 507.3,264.2 505.8,264.21 503,264.24 497,264.31 492.64,264.35 491.14,264.36 491,264.36 489.64,264.34 488.14,264.18 486.64,263.84 485.14,263.63 485,263.63 483.64,263.87 482.14,264.25 480.64,264.43 479.14,264.48 479,264.49 477.64,264.5 473,264.55 467,264.61 464.78,264.63 463.28,264.65 461.78,264.63 461,264.57 460.28,264.47 458.78,264.12 457.28,263.91 455.78,264.15 455,264.36 454.28,264.53 452.78,264.72 451.28,264.77 449.78,264.79 449,264.8 443,264.86 437.22,264.92 437,264.92 435.72,264.93 434.22,264.91 432.72,264.75 431.22,264.4 431,264.35 429.72,264.19 428.22,264.44 426.72,264.81 425.22,265 425,265.01 423.72,265.05 422.22,265.07 419,265.1 413,265.16 409.96,265.2 408.46,265.21 407,265.19 406.96,265.19 405.46,265.03 403.96,264.68 402.46,264.47 401,264.7 400.96,264.71 399.46,265.09 397.96,265.28 396.46,265.33 395,265.35 394.96,265.35 389,265.41 383,265.47 382.99,265.47 381.49,265.48 379.99,265.46 378.49,265.31 377,264.96 376.99,264.96 375.49,264.75 373.99,264.99 372.49,265.37 371,265.55 370.99,265.55 369.49,265.61 367.99,265.62 365,265.66 359,265.72 356.3,265.74 354.8,265.76 353.3,265.74 353,265.72 351.8,265.58 350.3,265.23 348.8,265.02 347.3,265.26 347,265.34 345.8,265.64 344.3,265.83 342.8,265.88 341.3,265.9 341,265.9 335,265.96 329.9,266.01 329,266.02 328.4,266.03 326.9,266.01 325.4,265.85 323.9,265.5 323,265.33 322.4,265.29 320.9,265.53 319.4,265.91 317.9,266.1 317,266.14 316.4,266.15 314.9,266.17 311,266.21 305,266.27 303.5,266.28 302,266.3 300.5,266.28 299,266.12 297.5,265.77 296,265.56 294.5,265.8 293,266.18 291.5,266.37 290,266.42 288.5,266.44 287,266.45 281,266.52 277.39,266.55 275.89,266.56 275,266.56 274.39,266.54 272.89,266.39 271.39,266.04 269.89,265.83 269,265.93 268.39,266.07 266.89,266.45 265.39,266.63 263.89,266.69 263,266.7 262.39,266.71 257,266.76 251.55,266.82 251,266.82 250.05,266.83 248.55,266.81 247.05,266.65 245.55,266.3 245,266.18 244.05,266.09 242.55,266.34 241.05,266.71 239.55,266.9 239,266.93 238.05,266.95 236.55,266.97 233,267.01 227,267.07 226,267.08 224.5,267.09 223,267.07 221.5,266.91 221,266.81 220,266.57 218.5,266.36 217,266.6 215.5,266.97 215,267.06 214,267.16 212.5,267.21 211,267.23 209,267.25 203,267.31 200.72,267.34 199.22,267.35 197.72,267.33 197,267.28 196.22,267.17 194.72,266.82 193.22,266.61 191.72,266.86 191,267.05 190.22,267.23 188.72,267.42 187.22,267.47 185.72,267.49 185,267.5 179,267.56 175.72,267.59 174.22,267.6 173,267.59 172.72,267.58 171.22,267.43 169.72,267.08 168.22,266.87 167,267.04 166.72,267.11 165.22,267.49 163.72,267.67 162.22,267.73 161,267.74 160.72,267.75 155,267.8 150.98,267.85 149.48,267.86 149,267.86 147.98,267.84 146.48,267.68 144.98,267.33 143.48,267.12 143,267.15 141.98,267.36 140.48,267.74 138.98,267.93 137.48,267.98 137,267.99 135.98,268 131,268.05 126.51,268.1 125.01,268.11 125,268.11 123.51,268.09 122.01,267.93 120.51,267.58 119.01,267.37 119,267.37 117.51,267.62 116.01,267.99 114.51,268.18 113.01,268.23 113,268.23" fill="#fff" stroke="none"/>
<polygon points="113,300.7 113.01,300.7 114.51,300.72 116.01,300.87 117.51,301.22 119,301.43 119.01,301.43 120.51,301.18 122.01,300.8 123.51,300.61 125,300.56 125.01,300.56 126.51,300.54 131,300.49 135.98,300.43 137,300.42 137.48,300.42 138.98,300.43 140.48,300.59 141.98,300.93 143,301.12 143.48,301.14 144.98,300.9 146.48,300.52 147.98,300.33 149,300.29 149.48,300.28 150.98,300.25 155,300.21 160.72,300.14 161,300.14 162.22,300.13 163.72,300.15 165.22,300.3 166.72,300.65 167,300.71 168.22,300.85 169.72,300.61 171.22,300.23 172.72,300.04 173,300.03 174.22,299.99 175.72,299.97 179,299.93 185,299.86 185.72,299.85 187.22,299.84 188.72,299.86 190.22,300.01 191,300.18 191.72,300.36 193.22,300.57 194.72,300.32 196.22,299.94 197,299.82 197.72,299.75 199.22,299.7 200.72,299.68 203,299.65 209,299.58 211,299.56 212.5,299.55 214,299.57 215,299.65 215.5,299.72 217,300.07 218.5,300.27 220,300.03 221,299.76 221.5,299.65 223,299.46 224.5,299.41 226,299.39 227,299.38 233,299.31 236.55,299.27 238.05,299.26 239,299.26 239.55,299.27 241.05,299.43 242.55,299.77 244.05,299.98 245,299.87 245.55,299.74 247.05,299.36 248.55,299.17 250.05,299.12 251,299.11 251.55,299.1 257,299.04 262.39,298.98 263,298.97 263.89,298.96 265.39,298.98 266.89,299.14 268.39,299.48 269,299.61 269.89,299.69 271.39,299.45 272.89,299.07 274.39,298.88 275,298.85 275.89,298.83 277.39,298.81 281,298.76 287,298.7 288.5,298.68 290,298.67 291.5,298.69 293,298.84 294.5,299.19 296,299.39 297.5,299.15 299,298.77 300.5,298.58 302,298.53 303.5,298.51 305,298.49 311,298.43 314.9,298.38 316.4,298.37 317,298.37 317.9,298.39 319.4,298.54 320.9,298.89 322.4,299.1 323,299.05 323.9,298.85 325.4,298.48 326.9,298.29 328.4,298.23 329,298.23 329.9,298.21 335,298.16 341,298.09 341.3,298.09 342.8,298.07 344.3,298.09 345.8,298.25 347,298.52 347.3,298.59 348.8,298.8 350.3,298.56 351.8,298.18 353,298.02 353.3,297.99 354.8,297.94 356.3,297.92 359,297.89 365,297.82 367.99,297.79 369.49,297.78 370.99,297.8 371,297.8 372.49,297.95 373.99,298.3 375.49,298.51 376.99,298.26 377,298.26 378.49,297.88 379.99,297.7 381.49,297.64 382.99,297.62 383,297.62 389,297.56 394.96,297.49 395,297.49 396.46,297.48 397.96,297.5 399.46,297.65 400.96,298 401,298.01 402.46,298.21 403.96,297.96 405.46,297.59 406.96,297.4 407,297.4 408.46,297.35 409.96,297.33 413,297.29 419,297.23 422.22,297.19 423.72,297.18 425,297.19 425.22,297.2 426.72,297.35 428.22,297.7 429.72,297.91 431,297.72 431.22,297.67 432.72,297.29 434.22,297.1 435.72,297.05 437,297.03 437.22,297.03 443,296.96 449,296.9 449.78,296.89 451.28,296.88 452.78,296.9 454.28,297.05 455,297.2 455.78,297.4 457.28,297.61 458.78,297.37 460.28,296.99 461,296.87 461.78,296.8 463.28,296.75 464.78,296.73 467,296.7 473,296.64 477.64,296.59 479,296.57 479.14,296.57 480.64,296.59 482.14,296.75 483.64,297.1 485,297.3 485.14,297.3 486.64,297.06 488.14,296.68 489.64,296.5 491,296.45 491.14,296.44 492.64,296.42 497,296.38 503,296.31 505.8,296.28 507.3,296.27 508.8,296.29 509,296.3 510.3,296.45 511.8,296.79 513.3,297 514.8,296.76 515,296.7 516.3,296.38 517.8,296.19 519.3,296.14 520.8,296.12 521,296.12 527,296.05 533,295.99 534.26,295.98 535.76,295.96 537.26,295.98 538.76,296.14 539,296.19 540.26,296.49 541.76,296.7 543.26,296.45 544.76,296.08 545,296.03 546.26,295.89 547.76,295.84 549.26,295.82 551,295.8 557,295.73 563,295.67 563.03,295.67 564.53,295.66 566.03,295.68 567.53,295.83 569,296.17 569.03,296.18 570.53,296.39 572.03,296.15 573.53,295.77 575,295.58 575.03,295.58 576.53,295.53 578.03,295.51 581,295.48 587,295.42 592.11,295.36 593,295.35 593.61,295.35 595.11,295.37 596.61,295.53 598.11,295.87 599,296.05 599.61,296.08 601.11,295.84 602.61,295.46 604.11,295.27 605,295.24 605.61,295.22 607.11,295.2 611,295.16 617,295.1 621.5,295.05 623,295.04 624.5,295.06 626,295.22 627.5,295.56 629,295.77 630.5,295.53 632,295.15 633.5,294.97 635,294.91 636.5,294.89 641,294.85 647,294.78 651.21,294.74 652.71,294.73 653,294.73 654.21,294.75 655.71,294.9 657.21,295.25 658.71,295.46 659,295.45 660.21,295.22 661.71,294.84 663.21,294.66 664.71,294.6 665,294.6 666.21,294.58 671,294.53 677,294.47 681.24,294.43 682.74,294.42 683,294.42 684.24,294.44 685.74,294.59 687.24,294.94 688.74,295.15 689,295.14 690.24,294.91 691.74,294.53 693.24,294.34 694.74,294.29 695,294.29 696.24,294.27 701,294.22 707,294.16 711.6,294.12 713,294.1 713.1,294.1 714.6,294.12 716.1,294.28 717.6,294.63 719,294.84 719.1,294.84 720.6,294.6 722.1,294.22 723.6,294.03 725,293.98 725.1,293.98 726.6,293.96 731,293.92 737,293.85 742.29,293.8 743,293.79 743.79,293.79 745.29,293.81 746.79,293.97 748.29,294.31 749,294.46 749.79,294.52 751.29,294.28 752.79,293.9 754.29,293.72 755,293.69 755.79,293.67 757.29,293.65 761,293.61 767,293.55 773,293.49 773.3,293.48 774.8,293.47 776.3,293.49 777.8,293.65 779,293.92 779.3,294 780.8,294.21 782.3,293.97 783.8,293.59 785,293.43 785.3,293.4 786.8,293.35 788.3,293.33 791,293.31 797,293.25 803,293.18 804.65,293.17 806.15,293.16 807.65,293.18 809,293.31 809.15,293.33 810.65,293.68 812.15,293.89 813.65,293.65 815,293.3 815.15,293.27 816.65,293.09 818.15,293.04 819.65,293.02 821,293 827,292.94 833,292.88 836.34,292.85 837.84,292.84 839,292.85 839.34,292.86 840.84,293.02 842.34,293.36 843.84,293.57 845,293.42 845.34,293.33 846.84,292.96 848.34,292.77 849.84,292.72 851,292.7 851.34,292.7 857,292.64 863,292.58 868.37,292.53 869,292.53 869.87,292.52 871.37,292.54 872.87,292.7 874.37,293.04 875,293.18 875.87,293.26 877.37,293.02 878.87,292.64 880.37,292.45 881,292.42 881.87,292.4 883.37,292.38 887,292.35 893,292.29 899,292.23 900.75,292.21 902.25,292.2 903.75,292.22 905,292.34 905.25,292.38 906.75,292.73 908.25,292.94 909.75,292.7 911,292.37 911.25,292.32 912.75,292.13 914.25,292.08 915.75,292.06 917,292.05 923,291.99 929,291.93 933.48,291.89 934.98,291.88 935,291.88 936.48,291.9 937.98,292.06 939.48,292.41 940.98,292.62 941,292.62 942.48,292.38 943.98,292 945.48,291.81 946,291.79 946,295.69 945.48,295.68 943.98,295.52 942.48,295.18 941,294.96 940.98,294.96 939.48,295.2 937.98,295.58 936.48,295.77 935,295.82 934.98,295.82 933.48,295.84 929,295.88 923,295.94 917,296 915.75,296.01 914.25,296.02 912.75,296 911.25,295.84 911,295.79 909.75,295.5 908.25,295.28 906.75,295.52 905.25,295.9 905,295.95 903.75,296.09 902.25,296.14 900.75,296.16 899,296.17 893,296.23 887,296.29 883.37,296.33 881.87,296.34 881,296.34 880.37,296.32 878.87,296.16 877.37,295.81 875.87,295.6 875,295.7 874.37,295.84 872.87,296.22 871.37,296.41 869.87,296.46 869,296.47 868.37,296.48 863,296.53 857,296.59 851.34,296.65 851,296.65 849.84,296.66 848.34,296.64 846.84,296.48 845.34,296.13 845,296.05 843.84,295.92 842.34,296.16 840.84,296.54 839.34,296.73 839,296.74 837.84,296.78 836.34,296.8 833,296.83 827,296.89 821,296.95 819.65,296.96 818.15,296.97 816.65,296.95 815.15,296.8 815,296.77 813.65,296.45 812.15,296.24 810.65,296.48 809.15,296.86 809,296.89 807.65,297.04 806.15,297.09 804.65,297.11 803,297.13 797,297.19 791,297.25 788.3,297.28 786.8,297.29 785.3,297.27 785,297.25 783.8,297.11 782.3,296.77 780.8,296.55 779.3,296.8 779,296.88 777.8,297.17 776.3,297.36 774.8,297.41 773.3,297.43 773,297.43 767,297.49 761,297.55 757.29,297.59 755.79,297.6 755,297.6 754.29,297.58 752.79,297.43 751.29,297.08 749.79,296.87 749,296.95 748.29,297.11 746.79,297.49 745.29,297.67 743.79,297.73 743,297.74 742.29,297.75 737,297.8 731,297.86 726.6,297.91 725.1,297.92 725,297.92 723.6,297.9 722.1,297.74 720.6,297.39 719.1,297.18 719,297.19 717.6,297.43 716.1,297.8 714.6,297.99 713.1,298.04 713,298.04 711.6,298.06 707,298.11 701,298.17 696.24,298.22 695,298.23 694.74,298.23 693.24,298.21 691.74,298.05 690.24,297.71 689,297.5 688.74,297.5 687.24,297.74 685.74,298.12 684.24,298.3 683,298.35 682.74,298.35 681.24,298.37 677,298.42 671,298.48 666.21,298.53 665,298.54 664.71,298.54 663.21,298.52 661.71,298.36 660.21,298.02 659,297.81 658.71,297.81 657.21,298.05 655.71,298.43 654.21,298.61 653,298.66 652.71,298.67 651.21,298.69 647,298.73 641,298.79 636.5,298.84 635,298.85 633.5,298.83 632,298.67 630.5,298.33 629,298.12 627.5,298.36 626,298.74 624.5,298.93 623,298.98 621.5,299 617,299.04 611,299.11 607.11,299.15 605.61,299.16 605,299.16 604.11,299.14 602.61,298.98 601.11,298.64 599.61,298.43 599,298.48 598.11,298.67 596.61,299.05 595.11,299.23 593.61,299.29 593,299.3 592.11,299.31 587,299.36 581,299.42 578.03,299.45 576.53,299.47 575.03,299.45 575,299.45 573.53,299.29 572.03,298.95 570.53,298.74 569.03,298.98 569,298.98 567.53,299.35 566.03,299.54 564.53,299.59 563.03,299.61 563,299.61 557,299.68 551,299.74 549.26,299.76 547.76,299.77 546.26,299.75 545,299.64 544.76,299.6 543.26,299.25 541.76,299.04 540.26,299.28 539,299.61 538.76,299.66 537.26,299.85 535.76,299.9 534.26,299.92 533,299.94 527,300 521,300.06 520.8,300.07 519.3,300.08 517.8,300.06 516.3,299.9 515,299.61 514.8,299.56 513.3,299.35 511.8,299.59 510.3,299.97 509,300.14 508.8,300.15 507.3,300.21 505.8,300.23 503,300.26 497,300.32 492.64,300.37 491.14,300.38 491,300.38 489.64,300.36 488.14,300.21 486.64,299.86 485.14,299.65 485,299.66 483.64,299.89 482.14,300.27 480.64,300.46 479.14,300.51 479,300.51 477.64,300.53 473,300.58 467,300.65 464.78,300.67 463.28,300.68 461.78,300.66 461,300.61 460.28,300.51 458.78,300.16 457.28,299.95 455.78,300.2 455,300.41 454.28,300.57 452.78,300.76 451.28,300.81 449.78,300.83 449,300.84 443,300.91 437.22,300.97 437,300.97 435.72,300.98 434.22,300.96 432.72,300.81 431.22,300.46 431,300.41 429.72,300.25 428.22,300.5 426.72,300.88 425.22,301.06 425,301.08 423.72,301.12 422.22,301.14 419,301.17 413,301.24 409.96,301.27 408.46,301.28 407,301.27 406.96,301.26 405.46,301.11 403.96,300.76 402.46,300.55 401,300.79 400.96,300.8 399.46,301.17 397.96,301.36 396.46,301.42 395,301.44 394.96,301.44 389,301.5 383,301.57 382.99,301.57 381.49,301.58 379.99,301.56 378.49,301.41 377,301.07 376.99,301.06 375.49,300.85 373.99,301.09 372.49,301.47 371,301.66 370.99,301.66 369.49,301.71 367.99,301.73 365,301.77 359,301.83 356.3,301.86 354.8,301.88 353.3,301.86 353,301.84 351.8,301.7 350.3,301.36 348.8,301.15 347.3,301.39 347,301.47 345.8,301.77 344.3,301.96 342.8,302.01 341.3,302.03 341,302.04 335,302.1 329.9,302.16 329,302.17 328.4,302.17 326.9,302.15 325.4,302 323.9,301.65 323,301.48 322.4,301.44 320.9,301.69 319.4,302.07 317.9,302.25 317,302.29 316.4,302.31 314.9,302.33 311,302.37 305,302.44 303.5,302.46 302,302.47 300.5,302.45 299,302.29 297.5,301.95 296,301.74 294.5,301.98 293,302.36 291.5,302.55 290,302.6 288.5,302.62 287,302.64 281,302.71 277.39,302.75 275.89,302.76 275,302.76 274.39,302.74 272.89,302.59 271.39,302.25 269.89,302.04 269,302.13 268.39,302.28 266.89,302.66 265.39,302.85 263.89,302.9 263,302.91 262.39,302.92 257,302.98 251.55,303.04 251,303.05 250.05,303.06 248.55,303.04 247.05,302.88 245.55,302.54 245,302.42 244.05,302.33 242.55,302.57 241.05,302.95 239.55,303.14 239,303.17 238.05,303.19 236.55,303.21 233,303.25 227,303.32 226,303.33 224.5,303.35 223,303.33 221.5,303.18 221,303.08 220,302.83 218.5,302.62 217,302.86 215.5,303.24 215,303.33 214,303.43 212.5,303.49 211,303.51 209,303.53 203,303.6 200.72,303.62 199.22,303.64 197.72,303.62 197,303.57 196.22,303.47 194.72,303.12 193.22,302.91 191.72,303.16 191,303.35 190.22,303.53 188.72,303.72 187.22,303.78 185.72,303.8 185,303.81 179,303.88 175.72,303.91 174.22,303.93 173,303.92 172.72,303.91 171.22,303.75 169.72,303.41 168.22,303.2 167,303.37 166.72,303.44 165.22,303.82 163.72,304.01 162.22,304.07 161,304.08 160.72,304.09 155,304.15 150.98,304.2 149.48,304.21 149,304.21 147.98,304.19 146.48,304.04 144.98,303.7 143.48,303.49 143,303.52 141.98,303.73 140.48,304.11 138.98,304.3 137.48,304.35 137,304.36 135.98,304.37 131,304.43 126.51,304.48 125.01,304.5 125,304.5 123.51,304.48 122.01,304.33 120.51,303.98 119.01,303.77 119,303.77 117.51,304.02 116.01,304.4 114.51,304.59 113.01,304.64 113,304.64" fill="#fff" stroke="none"/>
<polygon points="110,359.8 116,359.72 122,359.64 128,359.56 134,359.48 140,359.4 146,359.32 152,359.25 158,359.17 164,359.09 170,359.02 176,358.94 182,358.86 188,358.79 194,358.72 200,358.64 206,358.57 212,358.5 218,358.42 224,358.35 230,358.28 236,358.21 242,358.14 248,358.07 254,358 260,357.93 266,357.86 272,357.8 278,357.73 284,357.66 290,357.6 296,357.53 302,357.47 308,357.4 314,357.34 320,357.27 326,357.21 332,357.15 338,357.09 344,357.03 350,356.96 356,356.9 362,356.84 368,356.79 374,356.73 380,356.67 386,356.61 392,356.55 398,356.5 404,356.44 410,356.38 416,356.33 422,356.27 428,356.22 434,356.17 440,356.11 446,356.06 452,356.01 458,355.96 464,355.9 470,355.85 476,355.8 482,355.75 488,355.71 494,355.66 500,355.61 506,355.56 512,355.51 518,355.47 524,355.42 530,355.38 536,355.33 542,355.29 548,355.24 554,355.2 560,355.15 566,355.11 572,355.07 578,355.03 584,354.99 590,354.95 596,354.91 602,354.87 608,354.83 614,354.79 620,354.75 626,354.71 632,354.67 637.5,354.65 638,354.66 638.25,354.67 639,354.72 639.75,354.8 640.5,354.92 641.25,355.12 642,355.67 642,355.67 641.25,356.23 640.5,356.43 639.75,356.57 639,356.67 638.25,356.73 638,356.74 637.5,356.77 632,356.83 626,356.9 620,356.97 614,357.04 608,357.11 602,357.18 596,357.25 590,357.32 584,357.39 578,357.46 572,357.53 566,357.6 560,357.67 554,357.74 548,357.81 542,357.87 536,357.94 530,358.02 524,358.09 518,358.16 512,358.23 506,358.3 500,358.37 494,358.44 488,358.51 482,358.58 476,358.65 470,358.72 464,358.79 458,358.86 452,358.93 446,359 440,359.07 434,359.14 428,359.21 422,359.28 416,359.35 410,359.43 404,359.5 398,359.57 392,359.64 386,359.71 380,359.78 374,359.85 368,359.92 362,360 356,360.07 350,360.14 344,360.21 338,360.28 332,360.35 326,360.42 320,360.5 314,360.57 308,360.64 302,360.71 296,360.78 290,360.85 284,360.93 278,361 272,361.07 266,361.14 260,361.21 254,361.29 248,361.36 242,361.43 236,361.5 230,361.58 224,361.65 218,361.72 212,361.79 206,361.86 200,361.94 194,362.01 188,362.08 182,362.16 176,362.23 170,362.3 164,362.37 158,362.45 152,362.52 146,362.59 140,362.66 134,362.74 128,362.81 122,362.88 116,362.96 110,363.03" fill="#fff" stroke="none"/>
<ellipse cx="653.7" cy="355.56" rx="11" ry="1.15" fill="#ffffff" stroke="none"/>
<ellipse cx="678.8" cy="355.35" rx="11" ry="1.1" fill="#ffffff" stroke="none"/>
<ellipse cx="705" cy="355.13" rx="10.5" ry="1.1" fill="#ffffff" stroke="none"/>
<ellipse cx="732.3" cy="354.91" rx="10" ry="1.06" fill="#ffffff" stroke="none"/>
<ellipse cx="761.6" cy="354.67" rx="9" ry="1.01" fill="#ffffff" stroke="none"/>
<ellipse cx="791" cy="354.45" rx="7.5" ry="0.87" fill="#ffffff" stroke="none"/>
<ellipse cx="822.4" cy="354.21" rx="5.5" ry="0.79" fill="#cecece" stroke="none"/>
<ellipse cx="854.9" cy="353.98" rx="3" ry="0.68" fill="#979797" stroke="none"/>
<polygon points="110,395.88 116,395.81 122,395.75 128,395.68 134,395.61 140,395.54 146,395.47 152,395.4 158,395.34 164,395.27 170,395.2 176,395.14 182,395.07 188,395.01 194,394.94 200,394.88 206,394.81 212,394.75 218,394.68 224,394.62 230,394.56 236,394.5 242,394.43 248,394.37 254,394.31 260,394.25 266,394.19 272,394.13 278,394.07 284,394.01 290,393.95 296,393.89 302,393.83 308,393.77 314,393.72 320,393.66 326,393.6 332,393.54 338,393.49 344,393.43 350,393.38 356,393.32 362,393.27 368,393.21 374,393.16 380,393.1 386,393.05 392,393 398,392.94 404,392.89 410,392.84 416,392.79 422,392.74 428,392.69 434,392.64 440,392.59 446,392.54 452,392.49 458,392.44 464,392.39 470,392.34 476,392.29 482,392.24 488,392.2 494,392.15 500,392.1 506,392.06 512,392.01 518,391.97 524,391.92 530,391.88 536,391.83 542,391.79 548,391.74 554,391.7 560,391.66 566,391.61 572,391.57 578,391.53 584,391.49 590,391.45 596,391.41 602,391.36 608,391.32 614,391.28 620,391.24 626,391.2 632,391.17 638,391.13 639.5,391.12 640.25,391.15 641,391.19 641.75,391.28 642.5,391.4 643.25,391.59 644,392.14 644,392.14 643.25,392.7 642.5,392.9 641.75,393.04 641,393.13 640.25,393.19 639.5,393.23 638,393.25 632,393.32 626,393.4 620,393.47 614,393.54 608,393.61 602,393.68 596,393.75 590,393.82 584,393.89 578,393.96 572,394.03 566,394.1 560,394.17 554,394.24 548,394.31 542,394.38 536,394.45 530,394.52 524,394.58 518,394.65 512,394.72 506,394.79 500,394.86 494,394.93 488,395 482,395.07 476,395.14 470,395.2 464,395.27 458,395.34 452,395.41 446,395.48 440,395.54 434,395.61 428,395.68 422,395.75 416,395.81 410,395.88 404,395.95 398,396.02 392,396.08 386,396.15 380,396.22 374,396.28 368,396.35 362,396.42 356,396.48 350,396.55 344,396.62 338,396.68 332,396.75 326,396.81 320,396.88 314,396.94 308,397.01 302,397.08 296,397.14 290,397.21 284,397.27 278,397.34 272,397.4 266,397.47 260,397.53 254,397.6 248,397.66 242,397.72 236,397.79 230,397.85 224,397.92 218,397.98 212,398.04 206,398.11 200,398.17 194,398.24 188,398.3 182,398.36 176,398.43 170,398.49 164,398.55 158,398.61 152,398.68 146,398.74 140,398.8 134,398.86 128,398.93 122,398.99 116,399.05 110,399.11" fill="#fff" stroke="none"/>
<ellipse cx="655.7" cy="392.03" rx="11" ry="1.15" fill="#ffffff" stroke="none"/>
<ellipse cx="680.8" cy="391.8" rx="11" ry="1.1" fill="#ffffff" stroke="none"/>
<ellipse cx="707" cy="391.57" rx="10.5" ry="1.1" fill="#ffffff" stroke="none"/>
<ellipse cx="734.3" cy="391.33" rx="10" ry="1.06" fill="#ffffff" stroke="none"/>
<ellipse cx="763.6" cy="391.07" rx="9" ry="1.01" fill="#ffffff" stroke="none"/>
<ellipse cx="793" cy="390.82" rx="7.5" ry="0.87" fill="#ffffff" stroke="none"/>
<ellipse cx="824.4" cy="390.55" rx="6" ry="0.79" fill="#d5d5d5" stroke="none"/>
<ellipse cx="856.9" cy="390.28" rx="3.5" ry="0.68" fill="#a1a1a1" stroke="none"/>
<ellipse cx="130" cy="470.99" rx="2.5" ry="0.8" fill="#a1a1a1" stroke="none"/>
<ellipse cx="145.5" cy="470.83" rx="9.5" ry="1.11" fill="#ffffff" stroke="none"/>
<ellipse cx="184" cy="470.45" rx="12" ry="1.11" fill="#ffffff" stroke="none"/>
<ellipse cx="224" cy="470.06" rx="13.5" ry="1.11" fill="#ffffff" stroke="none"/>
<ellipse cx="266" cy="469.66" rx="13.5" ry="1.11" fill="#ffffff" stroke="none"/>
<ellipse cx="307" cy="469.27" rx="13" ry="1.11" fill="#ffffff" stroke="none"/>
<ellipse cx="352" cy="468.86" rx="14" ry="1.11" fill="#ffffff" stroke="none"/>
<ellipse cx="396" cy="468.46" rx="14" ry="1.11" fill="#ffffff" stroke="none"/>
<ellipse cx="440" cy="468.07" rx="14.5" ry="1.11" fill="#ffffff" stroke="none"/>
<ellipse cx="485" cy="467.68" rx="14.5" ry="1.11" fill="#ffffff" stroke="none"/>
<ellipse cx="532" cy="467.28" rx="15" ry="1.11" fill="#ffffff" stroke="none"/>
<ellipse cx="577" cy="466.91" rx="15.5" ry="1.11" fill="#ffffff" stroke="none"/>
<ellipse cx="622" cy="466.54" rx="16" ry="1.11" fill="#ffffff" stroke="none"/>
<ellipse cx="668" cy="466.18" rx="16.5" ry="1.11" fill="#ffffff" stroke="none"/>
<ellipse cx="715.5" cy="465.81" rx="16.5" ry="1.11" fill="#ffffff" stroke="none"/>
<ellipse cx="763" cy="465.45" rx="17" ry="1.11" fill="#ffffff" stroke="none"/>
<ellipse cx="811" cy="465.1" rx="17" ry="1.11" fill="#ffffff" stroke="none"/>
<ellipse cx="861" cy="464.74" rx="17.5" ry="1.11" fill="#ffffff" stroke="none"/>
<ellipse cx="909.5" cy="464.41" rx="17.5" ry="1.11" fill="#ffffff" stroke="none"/>
<ellipse cx="958" cy="464.08" rx="17.5" ry="1.11" fill="#ffffff" stroke="none"/>
<ellipse cx="131.3" cy="507.3" rx="2.5" ry="1.03" fill="#a1a1a1" stroke="none"/>
<ellipse cx="146.8" cy="507.17" rx="9.5" ry="1.44" fill="#ffffff" stroke="none"/>
<ellipse cx="185.3" cy="506.86" rx="12" ry="1.44" fill="#ffffff" stroke="none"/>
<ellipse cx="225.3" cy="506.53" rx="13.5" ry="1.44" fill="#ffffff" stroke="none"/>
<ellipse cx="267.3" cy="506.18" rx="13.5" ry="1.44" fill="#ffffff" stroke="none"/>
<ellipse cx="308.3" cy="505.84" rx="13" ry="1.44" fill="#ffffff" stroke="none"/>
<ellipse cx="353.3" cy="505.47" rx="14" ry="1.44" fill="#ffffff" stroke="none"/>
<ellipse cx="397.3" cy="505.11" rx="14" ry="1.44" fill="#ffffff" stroke="none"/>
<ellipse cx="441.3" cy="504.74" rx="14.5" ry="1.44" fill="#ffffff" stroke="none"/>
<ellipse cx="486.3" cy="504.36" rx="14.5" ry="1.44" fill="#ffffff" stroke="none"/>
<ellipse cx="533.3" cy="503.97" rx="15" ry="1.44" fill="#ffffff" stroke="none"/>
<ellipse cx="578.3" cy="503.59" rx="15.5" ry="1.44" fill="#ffffff" stroke="none"/>
<ellipse cx="623.3" cy="503.21" rx="16" ry="1.44" fill="#ffffff" stroke="none"/>
<ellipse cx="669.3" cy="502.82" rx="16.5" ry="1.44" fill="#ffffff" stroke="none"/>
<ellipse cx="716.8" cy="502.42" rx="16.5" ry="1.44" fill="#ffffff" stroke="none"/>
<ellipse cx="764.3" cy="502.01" rx="17" ry="1.44" fill="#ffffff" stroke="none"/>
<ellipse cx="812.3" cy="501.6" rx="17" ry="1.44" fill="#ffffff" stroke="none"/>
<ellipse cx="862.3" cy="501.17" rx="17.5" ry="1.44" fill="#ffffff" stroke="none"/>
<ellipse cx="910.8" cy="500.75" rx="17.5" ry="1.44" fill="#ffffff" stroke="none"/>
<ellipse cx="959.3" cy="500.33" rx="17.5" ry="1.44" fill="#ffffff" stroke="none"/>
<polygon points="110,598.95 116,598.93 122,598.9 128,598.87 134,598.84 140,598.81 146,598.78 152,598.75 158,598.72 164,598.69 170,598.65 176,598.62 182,598.59 188,598.56 194,598.53 200,598.5 206,598.46 212,598.43 218,598.4 224,598.37 230,598.33 236,598.3 242,598.27 248,598.23 254,598.2 260,598.16 266,598.13 272,598.1 278,598.06 284,598.03 290,597.99 296,597.96 302,597.92 308,597.88 314,597.85 320,597.81 326,597.78 332,597.74 338,597.7 344,597.66 350,597.63 356,597.59 362,597.55 368,597.51 374,597.48 380,597.44 386,597.4 392,597.36 398,597.32 404,597.28 410,597.24 416,597.2 422,597.16 428,597.12 434,597.08 440,597.04 446,597 452,596.96 458,596.92 464,596.88 470,596.84 476,596.79 482,596.75 484.5,596.74 485.25,596.78 486,596.85 486.75,596.96 487.5,597.14 488,597.3 488.25,597.41 489,598.19 489,598.19 488.25,598.98 488,599.09 487.5,599.27 486.75,599.45 486,599.58 485.25,599.66 484.5,599.7 482,599.73 476,599.77 470,599.81 464,599.86 458,599.9 452,599.94 446,599.98 440,600.02 434,600.06 428,600.1 422,600.14 416,600.18 410,600.22 404,600.26 398,600.3 392,600.34 386,600.38 380,600.42 374,600.45 368,600.49 362,600.53 356,600.57 350,600.61 344,600.64 338,600.68 332,600.72 326,600.75 320,600.79 314,600.83 308,600.86 302,600.9 296,600.93 290,600.97 284,601 278,601.04 272,601.07 266,601.11 260,601.14 254,601.18 248,601.21 242,601.25 236,601.28 230,601.31 224,601.35 218,601.38 212,601.41 206,601.44 200,601.48 194,601.51 188,601.54 182,601.57 176,601.6 170,601.63 164,601.66 158,601.69 152,601.73 146,601.76 140,601.79 134,601.82 128,601.85 122,601.87 116,601.9 110,601.93" fill="#fff" stroke="none"/>
<polygon points="495.5,598.15 496.25,597.36 497,597.07 497.75,596.89 498.5,596.76 499.25,596.68 500,596.63 501.5,596.61 507.5,596.57 513.5,596.53 519.5,596.48 525.5,596.44 531.5,596.4 537.5,596.35 543.5,596.31 549.5,596.26 555.5,596.22 561.5,596.17 567.5,596.13 573.5,596.08 579.5,596.04 585.5,595.99 591.5,595.95 597.5,595.9 603.5,595.85 609.5,595.81 615.5,595.76 621.5,595.71 627.5,595.67 633.5,595.62 639.5,595.57 645.5,595.52 651.5,595.47 657.5,595.43 663.5,595.38 669.5,595.33 672.5,595.31 673.25,595.35 674,595.42 674.75,595.53 675.5,595.71 676.25,595.98 677,596.76 677,596.76 676.25,597.55 675.5,597.83 674.75,598.02 674,598.15 673.25,598.23 672.5,598.28 669.5,598.31 663.5,598.36 657.5,598.41 651.5,598.45 645.5,598.5 639.5,598.55 633.5,598.6 627.5,598.64 621.5,598.69 615.5,598.74 609.5,598.79 603.5,598.83 597.5,598.88 591.5,598.92 585.5,598.97 579.5,599.02 573.5,599.06 567.5,599.11 561.5,599.15 555.5,599.2 549.5,599.24 543.5,599.29 537.5,599.33 531.5,599.37 525.5,599.42 519.5,599.46 513.5,599.51 507.5,599.55 501.5,599.59 500,599.59 499.25,599.56 498.5,599.49 497.75,599.37 497,599.2 496.25,598.92 495.5,598.15" fill="#fff" stroke="none"/>
<polygon points="686.5,596.68 687.25,595.89 688,595.6 688.75,595.42 689.5,595.29 690.25,595.21 691,595.16 692.5,595.14 698.5,595.09 704.5,595.04 710.5,594.99 716.5,594.94 722.5,594.89 728.5,594.84 734.5,594.79 740.5,594.74 746.5,594.69 752.5,594.63 758.5,594.58 764.5,594.53 770.5,594.48 776.5,594.42 782.5,594.37 788.5,594.32 794.5,594.27 800.5,594.21 806.5,594.16 812.5,594.1 818.5,594.05 824.5,594 830.5,593.94 836.5,593.89 842.5,593.83 848.5,593.78 854.5,593.72 860.5,593.67 866.5,593.61 872.5,593.55 878.5,593.5 880.5,593.49 881.25,593.52 882,593.59 882.75,593.7 883.5,593.88 884.25,594.15 884.5,594.28 885,594.93 885,594.93 884.5,595.58 884.25,595.72 883.5,596 882.75,596.19 882,596.32 881.25,596.4 880.5,596.45 878.5,596.48 872.5,596.53 866.5,596.59 860.5,596.65 854.5,596.7 848.5,596.76 842.5,596.81 836.5,596.87 830.5,596.92 824.5,596.98 818.5,597.03 812.5,597.08 806.5,597.14 800.5,597.19 794.5,597.24 788.5,597.3 782.5,597.35 776.5,597.4 770.5,597.46 764.5,597.51 758.5,597.56 752.5,597.61 746.5,597.66 740.5,597.72 734.5,597.77 728.5,597.82 722.5,597.87 716.5,597.92 710.5,597.97 704.5,598.02 698.5,598.07 692.5,598.12 691,598.12 690.25,598.09 689.5,598.02 688.75,597.9 688,597.73 687.25,597.46 686.5,596.68" fill="#fff" stroke="none"/>
<polygon points="899.5,594.79 900.25,594 901,593.71 901.75,593.52 902.5,593.4 903.25,593.31 904,593.27 905.5,593.24 911.5,593.19 917.5,593.13 921.5,593.1 922.25,593.13 923,593.2 923.5,593.27 923.75,593.31 924.5,593.49 925.25,593.76 926,594.54 926,594.54 925.25,595.33 924.5,595.61 923.75,595.8 923.5,595.85 923,595.93 922.25,596.01 921.5,596.06 917.5,596.11 911.5,596.16 905.5,596.22 904,596.23 903.25,596.2 902.5,596.13 901.75,596.01 901,595.84 900.25,595.57 899.5,594.79" fill="#fff" stroke="none"/>
<polygon points="110,635.42 116,635.4 122,635.37 128,635.34 134,635.31 140,635.28 146,635.25 152,635.22 158,635.19 164,635.16 170,635.13 176,635.1 182,635.07 188,635.04 194,635.01 200,634.98 206,634.94 212,634.91 218,634.88 224,634.85 230,634.81 236,634.78 242,634.75 248,634.71 254,634.68 260,634.65 266,634.61 272,634.58 278,634.54 284,634.51 290,634.47 296,634.44 302,634.4 308,634.37 314,634.33 320,634.3 326,634.26 332,634.22 338,634.19 344,634.15 350,634.11 356,634.07 362,634.03 368,634 374,633.96 380,633.92 386,633.88 392,633.84 398,633.8 404,633.76 410,633.72 416,633.68 422,633.64 428,633.6 434,633.56 440,633.52 446,633.48 452,633.44 458,633.4 464,633.35 470,633.31 476,633.27 482,633.23 485.5,633.21 486.25,633.25 487,633.34 487.75,633.47 488,633.53 488.5,633.67 489.25,633.99 490,634.89 490,634.89 489.25,635.8 488.5,636.13 488,636.28 487.75,636.34 487,636.48 486.25,636.58 485.5,636.63 482,636.66 476,636.71 470,636.75 464,636.79 458,636.83 452,636.87 446,636.92 440,636.96 434,637 428,637.04 422,637.08 416,637.12 410,637.16 404,637.2 398,637.24 392,637.28 386,637.32 380,637.36 374,637.39 368,637.43 362,637.47 356,637.51 350,637.55 344,637.58 338,637.62 332,637.66 326,637.69 320,637.73 314,637.77 308,637.8 302,637.84 296,637.87 290,637.91 284,637.95 278,637.98 272,638.01 266,638.05 260,638.08 254,638.12 248,638.15 242,638.18 236,638.22 230,638.25 224,638.28 218,638.32 212,638.35 206,638.38 200,638.41 194,638.44 188,638.47 182,638.51 176,638.54 170,638.57 164,638.6 158,638.63 152,638.66 146,638.69 140,638.72 134,638.75 128,638.77 122,638.8 116,638.83 110,638.86" fill="#fff" stroke="none"/>
<polygon points="496.5,634.84 497.25,633.93 498,633.6 498.75,633.39 499.5,633.25 500.25,633.15 501,633.1 502.5,633.08 508.5,633.04 514.5,632.99 520.5,632.95 526.5,632.9 532.5,632.86 538.5,632.81 544.5,632.77 550.5,632.72 556.5,632.68 562.5,632.63 568.5,632.59 574.5,632.54 580.5,632.49 586.5,632.45 592.5,632.4 598.5,632.35 604.5,632.31 610.5,632.26 616.5,632.21 622.5,632.16 628.5,632.11 634.5,632.07 640.5,632.02 646.5,631.97 652.5,631.92 658.5,631.87 664.5,631.82 670.5,631.77 674.5,631.74 675.25,631.78 676,631.87 676.5,631.95 676.75,632 677.5,632.2 678.25,632.52 679,633.42 679,633.42 678.25,634.33 677.5,634.66 676.75,634.87 676.5,634.93 676,635.02 675.25,635.11 674.5,635.16 670.5,635.21 664.5,635.26 658.5,635.31 652.5,635.35 646.5,635.4 640.5,635.45 634.5,635.5 628.5,635.55 622.5,635.6 616.5,635.65 610.5,635.69 604.5,635.74 598.5,635.79 592.5,635.84 586.5,635.88 580.5,635.93 574.5,635.98 568.5,636.02 562.5,636.07 556.5,636.12 550.5,636.16 544.5,636.21 538.5,636.25 532.5,636.3 526.5,636.34 520.5,636.38 514.5,636.43 508.5,636.47 502.5,636.52 501,636.52 500.25,636.48 499.5,636.39 498.75,636.26 498,636.06 497.25,635.74 496.5,634.84" fill="#fff" stroke="none"/>
<polygon points="688.5,633.34 689.25,632.42 690,632.1 690.75,631.88 691.5,631.74 692.25,631.64 693,631.59 694.5,631.57 700.5,631.52 706.5,631.46 712.5,631.41 718.5,631.36 724.5,631.31 730.5,631.26 736.5,631.2 742.5,631.15 748.5,631.1 754.5,631.05 760.5,630.99 766.5,630.94 772.5,630.88 778.5,630.83 784.5,630.78 790.5,630.72 796.5,630.67 802.5,630.61 808.5,630.55 814.5,630.5 820.5,630.44 826.5,630.39 832.5,630.33 838.5,630.27 844.5,630.22 850.5,630.16 856.5,630.1 862.5,630.05 868.5,629.99 874.5,629.93 880.5,629.87 883.5,629.85 884.25,629.89 885,629.97 885.75,630.1 886.5,630.3 887.25,630.62 888,631.52 888,631.52 887.25,632.43 886.5,632.76 885.75,632.97 885,633.12 884.25,633.22 883.5,633.27 880.5,633.31 874.5,633.37 868.5,633.42 862.5,633.48 856.5,633.54 850.5,633.6 844.5,633.65 838.5,633.71 832.5,633.77 826.5,633.82 820.5,633.88 814.5,633.94 808.5,633.99 802.5,634.05 796.5,634.1 790.5,634.16 784.5,634.21 778.5,634.27 772.5,634.32 766.5,634.37 760.5,634.43 754.5,634.48 748.5,634.53 742.5,634.59 736.5,634.64 730.5,634.69 724.5,634.75 718.5,634.8 712.5,634.85 706.5,634.9 700.5,634.95 694.5,635 693,635.01 692.25,634.97 691.5,634.89 690.75,634.75 690,634.55 689.25,634.23 688.5,633.34" fill="#fff" stroke="none"/>
<polygon points="900.5,631.39 901.25,630.48 902,630.15 902.75,629.94 903.5,629.79 904.25,629.69 905,629.64 906.5,629.62 912.5,629.56 918.5,629.5 923.5,629.46 924.25,629.49 924.5,629.52 925,629.58 925.75,629.71 926.5,629.91 927.25,630.22 928,631.12 928,631.12 927.25,632.03 926.5,632.36 925.75,632.58 925,632.73 924.5,632.79 924.25,632.82 923.5,632.88 918.5,632.93 912.5,632.99 906.5,633.05 905,633.06 904.25,633.02 903.5,632.94 902.75,632.81 902,632.61 901.25,632.29 900.5,631.39" fill="#fff" stroke="none"/>
</g>
<g filter="url(#bfp1)" fill="none">
<path d="M119 756.2Q123.5 756.17 128 756.15" stroke="#b4b4b4" stroke-width="1.2" stroke-linecap="butt"/>
<path d="M135 756.1Q143.5 756.05 152 756" stroke="#8b8b8b" stroke-width="1.2" stroke-linecap="butt"/>
<path d="M540 753.53Q650 752.79 760 752.01" stroke="#7e7e7e" stroke-width="1.2" stroke-linecap="butt"/>
<path d="M848 751.38Q861 751.28 874 751.19" stroke="#8b8b8b" stroke-width="1.2" stroke-linecap="butt"/>
<path d="M886 751.1Q909 750.93 932 750.76" stroke="#b4b4b4" stroke-width="1.2" stroke-linecap="butt"/>
<path d="M119 793Q125 792.97 131 792.94" stroke="#e0e0e0" stroke-width="1.2" stroke-linecap="butt"/>
<path d="M137 792.9Q149.5 792.84 162 792.77" stroke="#b4b4b4" stroke-width="1.2" stroke-linecap="butt"/>
<path d="M229 792.39Q255.5 792.24 282 792.08" stroke="#8b8b8b" stroke-width="1.2" stroke-linecap="butt"/>
<path d="M535 790.46Q612.5 789.93 690 789.36" stroke="#cbcbcb" stroke-width="1.2" stroke-linecap="butt"/>
<path d="M690 789.36Q730.5 789.06 771 788.75" stroke="#a7a7a7" stroke-width="1.2" stroke-linecap="butt"/>
<path d="M838 788.23Q857 788.08 876 787.92" stroke="#c0c0c0" stroke-width="1.2" stroke-linecap="butt"/>
<path d="M886 787.84Q913 787.62 940 787.4" stroke="#eaeaea" stroke-width="1.2" stroke-linecap="butt"/>
</g>
</g>
<path d="M119.2 175.17Q529.5 171.07 939.8 165.77M119.2 190.83Q529.5 186.73 939.8 181.43M119.2 211.37Q529.5 206.67 939.8 202.17M119.2 227.03Q529.5 222.33 939.8 217.83M119.2 257.47Q529.5 253.07 939.8 248.67M119.2 273.13Q529.5 268.73 939.8 264.33M119.2 293.72Q529.5 289.32 939.8 284.92M119.2 309.38Q529.5 304.98 939.8 300.58M119.2 352.02Q529.5 347.85 939.8 343.77M119.2 367.68Q529.5 363.51 939.8 359.43M119.2 388.42Q529.5 384.27 939.8 380.32M119.2 404.08Q529.5 399.93 939.8 395.98M119.2 462.12Q529.5 457.77 939.8 455.02M119.2 477.78Q529.5 473.43 939.8 470.68M119.2 498.62Q529.5 494.8 939.8 491.07M119.2 514.28Q529.5 510.46 939.8 506.73M119.2 591.92Q529.5 588.57 939.8 585.02M119.2 607.58Q529.5 604.23 939.8 600.68M119.2 628.47Q529.5 625.24 939.8 621.92M119.2 644.13Q529.5 640.9 939.8 637.58M119.2 745.72Q529.5 745.22 939.8 741.52M119.2 761.38Q529.5 760.88 939.8 757.18M119.2 782.17Q529.5 781.47 939.8 777.77M119.2 797.83Q529.5 797.13 939.8 793.43" fill="none" stroke="#000" stroke-width="2.5"/>
<path d="M119.2 175.17Q529.5 171.07 939.8 165.77M119.2 190.83Q529.5 186.73 939.8 181.43M119.2 211.37Q529.5 206.67 939.8 202.17M119.2 227.03Q529.5 222.33 939.8 217.83M119.2 257.47Q529.5 253.07 939.8 248.67M119.2 273.13Q529.5 268.73 939.8 264.33M119.2 293.72Q529.5 289.32 939.8 284.92M119.2 309.38Q529.5 304.98 939.8 300.58M119.2 352.02Q529.5 347.85 939.8 343.77M119.2 367.68Q529.5 363.51 939.8 359.43M119.2 388.42Q529.5 384.27 939.8 380.32M119.2 404.08Q529.5 399.93 939.8 395.98M119.2 462.12Q529.5 457.77 939.8 455.02M119.2 477.78Q529.5 473.43 939.8 470.68M119.2 498.62Q529.5 494.8 939.8 491.07M119.2 514.28Q529.5 510.46 939.8 506.73M119.2 591.92Q529.5 588.57 939.8 585.02M119.2 607.58Q529.5 604.23 939.8 600.68M119.2 628.47Q529.5 625.24 939.8 621.92M119.2 644.13Q529.5 640.9 939.8 637.58M119.2 745.72Q529.5 745.22 939.8 741.52M119.2 761.38Q529.5 760.88 939.8 757.18M119.2 782.17Q529.5 781.47 939.8 777.77M119.2 797.83Q529.5 797.13 939.8 793.43" fill="none" stroke="#fff" stroke-width="2.5" stroke-dasharray="10 10"/>
</g>
<rect x="119" y="100" width="821" height="713" fill="none" stroke="#000" stroke-width="2"/>
<path d="M119 813v7.3M219 813v7.3M320 813v7.3M420 813v7.3M520 813v7.3M620 813v7.3M721 813v7.3M821 813v7.3M921 813v7.3M119 813h-7.3M119 725.5h-7.3M119 638h-7.3M119 551h-7.3M119 464h-7.3M119 377h-7.3M119 290h-7.3M119 203h-7.3M119 116h-7.3" stroke="#000" stroke-width="2" fill="none"/>
</g>
<g id="panel2">
<clipPath id="cp2"><rect x="982" y="100" width="821" height="713"/></clipPath>
<filter id="bbp2" x="972" y="90" width="841" height="733" filterUnits="userSpaceOnUse" color-interpolation-filters="sRGB"><feGaussianBlur stdDeviation="0.9"/></filter>
<filter id="bhp2" x="972" y="90" width="841" height="733" filterUnits="userSpaceOnUse" color-interpolation-filters="sRGB"><feGaussianBlur stdDeviation="2.1"/></filter>
<filter id="bwp2" x="972" y="90" width="841" height="733" filterUnits="userSpaceOnUse" color-interpolation-filters="sRGB"><feGaussianBlur stdDeviation="3"/></filter>
<filter id="bfp2" x="972" y="90" width="841" height="733" filterUnits="userSpaceOnUse" color-interpolation-filters="sRGB"><feGaussianBlur stdDeviation="0.45"/></filter>
<filter id="bcp2" x="972" y="90" width="841" height="733" filterUnits="userSpaceOnUse" color-interpolation-filters="sRGB"><feGaussianBlur stdDeviation="0.8"/></filter>
<filter id="nzp2" x="972" y="90" width="841" height="733" filterUnits="userSpaceOnUse" color-interpolation-filters="sRGB"><feTurbulence type="fractalNoise" baseFrequency="0.8" numOctaves="2" seed="5" result="t"/><feColorMatrix in="t" type="matrix" values="2.2 0 0 0 -0.6  2.2 0 0 0 -0.6  2.2 0 0 0 -0.6  0 0 0 0 1" result="n"/><feComposite in="SourceGraphic" in2="n" operator="arithmetic" k1="1.0" k2="0.5" k3="-0.11" k4="0.055"/></filter>
<filter id="cmp2" x="972" y="90" width="841" height="733" filterUnits="userSpaceOnUse" color-interpolation-filters="sRGB"><feTurbulence type="fractalNoise" baseFrequency="0.9" numOctaves="1" seed="15" result="t"/><feColorMatrix in="t" type="matrix" values="1 0 0 0 0  1 0 0 0 0  1 0 0 0 0  0 0 0 0 1" result="n"/><feComposite in="SourceGraphic" in2="n" operator="arithmetic" k1="0" k2="1" k3="0.05" k4="-0.025" result="m"/><feComponentTransfer in="m"><feFuncR type="table" tableValues="0.0504 0.0504 0.0504 0.0504 0.0504 0.0504 0.0635 0.0635 0.0754 0.0754 0.0862 0.0862 0.0964 0.106 0.1151 0.1239 0.1324 0.1406 0.1486 0.1564 0.1641 0.1716 0.1862 0.1934 0.2074 0.2144 0.228 0.2347 0.248 0.2612 0.2742 0.2871 0.2999 0.3125 0.3252 0.3377 0.3502 0.3626 0.381 0.3933 0.4116 0.4237 0.4417 0.4537 0.4715 0.4891 0.5065 0.5236 0.5406 0.5572 0.5736 0.5897 0.6055 0.6209 0.641 0.6556 0.6745 0.6883 0.7062 0.7192 0.736 0.7523 0.7681 0.7834 0.7982 0.8126 0.8266 0.8402 0.8533 0.8661 0.8814 0.8932 0.9074 0.9181 0.9308 0.9403 0.9513 0.9613 0.9702 0.9779 0.9842 0.9891 0.9925 0.9943 0.9944 0.9925 0.9876 0.9812 0.9705 0.9593 0.9442 0.94 0.94 0.94 0.94 0.94 0.94 0.94 0.94 0.94 0.94 0.94 0.94 0.94 0.94 0.94 0.94 0.94 0.94 0.94 0.94 0.94 0.94 0.94 0.94 0.94 0.94 0.94 0.94 0.94 0.94 0.94 0.94 0.94 0.94 0.94 0.94 0.94 0.94"/><feFuncG type="table" tableValues="0.0298 0.0298 0.0298 0.0298 0.0298 0.0298 0.0284 0.0284 0.0272 0.0272 0.0261 0.0261 0.0252 0.0243 0.0236 0.0229 0.0223 0.0217 0.0212 0.0207 0.0202 0.0197 0.0188 0.0184 0.0174 0.017 0.016 0.0155 0.0144 0.0133 0.0121 0.0109 0.0096 0.0082 0.0069 0.0056 0.0044 0.0032 0.0018 0.0011 0.0006 0.0006 0.0015 0.0028 0.0057 0.0101 0.0163 0.0245 0.035 0.0473 0.06 0.0729 0.0859 0.0989 0.1165 0.1297 0.1474 0.1607 0.1784 0.1917 0.2094 0.2271 0.2448 0.2625 0.2802 0.2979 0.3157 0.3336 0.3516 0.3697 0.3925 0.411 0.4345 0.4536 0.4779 0.4976 0.5228 0.5486 0.575 0.6021 0.6297 0.658 0.687 0.7167 0.747 0.778 0.816 0.8483 0.8879 0.9214 0.9619 0.9752 0.9752 0.9752 0.9752 0.9752 0.9752 0.9752 0.9752 0.9752 0.9752 0.9752 0.9752 0.9752 0.9752 0.9752 0.9752 0.9752 0.9752 0.9752 0.9752 0.9752 0.9752 0.9752 0.9752 0.9752 0.9752 0.9752 0.9752 0.9752 0.9752 0.9752 0.9752 0.9752 0.9752 0.9752 0.9752 0.9752 0.9752"/><feFuncB type="table" tableValues="0.528 0.528 0.528 0.528 0.528 0.528 0.5331 0.5331 0.538 0.538 0.5427 0.5427 0.5471 0.5514 0.5555 0.5594 0.5632 0.567 0.5706 0.5741 0.5775 0.5808 0.5872 0.5903 0.5963 0.5992 0.6049 0.6076 0.6129 0.6179 0.6227 0.6273 0.6316 0.6357 0.6395 0.643 0.6463 0.6492 0.6531 0.6552 0.6577 0.659 0.6601 0.6603 0.6599 0.6585 0.6562 0.6529 0.6486 0.6434 0.6373 0.6304 0.6227 0.6143 0.6021 0.5923 0.5787 0.5681 0.5537 0.5427 0.5279 0.5131 0.4985 0.4839 0.4695 0.4553 0.4413 0.4275 0.4137 0.4001 0.3832 0.3698 0.353 0.3395 0.3227 0.3092 0.2923 0.2753 0.2583 0.2414 0.2246 0.2081 0.1922 0.1772 0.1638 0.1529 0.1444 0.1423 0.1459 0.1516 0.1469 0.1313 0.1313 0.1313 0.1313 0.1313 0.1313 0.1313 0.1313 0.1313 0.1313 0.1313 0.1313 0.1313 0.1313 0.1313 0.1313 0.1313 0.1313 0.1313 0.1313 0.1313 0.1313 0.1313 0.1313 0.1313 0.1313 0.1313 0.1313 0.1313 0.1313 0.1313 0.1313 0.1313 0.1313 0.1313 0.1313 0.1313 0.1313"/><feFuncA type="linear" slope="0" intercept="1"/></feComponentTransfer></filter>
<g clip-path="url(#cp2)">
<g filter="url(#cmp2)">
<g filter="url(#nzp2)">
<rect x="972" y="90" width="841" height="733" fill="#1f1f1f"/>
<g filter="url(#bbp2)">
<polygon points="976,163.67 1080.12,162.42 1184.25,161.16 1288.38,159.89 1392.5,158.6 1496.62,157.3 1600.75,155.99 1704.88,154.66 1809,153.32 1809,209.73 1704.88,211.01 1600.75,212.29 1496.62,213.55 1392.5,214.8 1288.38,216.04 1184.25,217.26 1080.12,218.47 976,219.67" fill="#303030"/>
<polygon points="976,246.47 1080.12,245.3 1184.25,244.13 1288.38,242.97 1392.5,241.8 1496.62,240.63 1600.75,239.47 1704.88,238.3 1809,237.13 1809,292.63 1704.88,293.77 1600.75,294.93 1496.62,296.1 1392.5,297.3 1288.38,298.51 1184.25,299.75 1080.12,301 976,302.27" fill="#363636"/>
<polygon points="976,341.78 1080.12,340.48 1184.25,339.29 1288.38,338.24 1392.5,337.3 1496.62,336.49 1600.75,335.79 1704.88,335.22 1809,334.78 1809,391.48 1704.88,391.94 1600.75,392.52 1496.62,393.2 1392.5,394 1288.38,394.9 1184.25,395.92 1080.12,397.04 976,398.27" fill="#494949"/>
<polygon points="976,452.46 1080.12,451.45 1184.25,450.47 1288.38,449.52 1392.5,448.6 1496.62,447.72 1600.75,446.86 1704.88,446.04 1809,445.26 1809,501.44 1704.88,502.41 1600.75,503.37 1496.62,504.34 1392.5,505.3 1288.38,506.26 1184.25,507.23 1080.12,508.19 976,509.16" fill="#505050"/>
<polygon points="976,583.06 1080.12,582.08 1184.25,581.12 1288.38,580.15 1392.5,579.2 1496.62,578.25 1600.75,577.31 1704.88,576.38 1809,575.45 1809,632.55 1704.88,633.4 1600.75,634.26 1496.62,635.13 1392.5,636 1288.38,636.88 1184.25,637.76 1080.12,638.65 976,639.55" fill="#505050"/>
<polygon points="976,739.23 1080.12,738.63 1184.25,738.01 1288.38,737.36 1392.5,736.7 1496.62,736.02 1600.75,735.32 1704.88,734.6 1809,733.86 1809,791.16 1704.88,791.78 1600.75,792.41 1496.62,793.05 1392.5,793.7 1288.38,794.37 1184.25,795.04 1080.12,795.74 976,796.44" fill="#555555"/>
</g>
</g>
<g filter="url(#bwp2)" fill="none" stroke-linecap="butt" style="mix-blend-mode:lighten">
<path d="M979 101.53Q1392.5 97.26 1806 91.16" stroke="#404040" stroke-width="11.5"/>
<path d="M978 136.74Q1088 135.77 1198 134.58" stroke="#4a4a4a" stroke-width="14.3"/>
<path d="M1208.7 134.47Q1214.1 134.41 1219.5 134.35" stroke="#4a4a4a" stroke-width="14.3"/>
<path d="M1258 133.92Q1424.75 132.02 1591.5 129.59" stroke="#4a4a4a" stroke-width="14.3"/>
<path d="M1602.5 129.43Q1608.95 129.34 1615.4 129.24" stroke="#4a4a4a" stroke-width="14.3"/>
<path d="M1659 128.59Q1733 127.46 1807 126.23" stroke="#4a4a4a" stroke-width="14.3"/>
<path d="M979 173.23Q1392.5 168.55 1806 163.26" stroke="#4c4c4c" stroke-width="15"/>
<path d="M979 209.94Q1392.5 204.55 1806 199.36" stroke="#4c4c4c" stroke-width="15"/>
<path d="M979 256.43Q1392.5 252.1 1806 246.56" stroke="#494949" stroke-width="14.1"/>
<path d="M979 292.44Q1392.5 287.5 1806 282.97" stroke="#494949" stroke-width="14.1"/>
<path d="M1016 592.65Q1208.5 591.21 1401 589.73" stroke="#434343" stroke-width="12.2"/>
<path d="M1414.5 589.63Q1452.75 589.34 1491 589.04" stroke="#434343" stroke-width="12.2"/>
<path d="M1508 588.91Q1657.5 587.75 1807 586.57" stroke="#434343" stroke-width="12.2"/>
<path d="M1016 629.35Q1209.5 627.91 1403 626.42" stroke="#454545" stroke-width="13"/>
<path d="M1416.5 626.32Q1454.75 626.02 1493 625.73" stroke="#454545" stroke-width="13"/>
<path d="M1510 625.59Q1658.5 624.44 1807 623.27" stroke="#454545" stroke-width="13"/>
</g>
<g filter="url(#bhp2)" fill="none" stroke-linecap="butt">
<path d="M977 101.85Q1392.5 97.56 1808 91.43" stroke="#4a4a4a" stroke-width="3.92"/>
<path d="M976 137.05Q1088 136.08 1200 134.86" stroke="#858585" stroke-width="9.16"/>
<path d="M1206.7 134.79Q1214.1 134.71 1221.5 134.63" stroke="#858585" stroke-width="9.16"/>
<path d="M1227.7 134.56Q1230.85 134.52 1234 134.49" stroke="#858585" stroke-width="9.16"/>
<path d="M1256 134.24Q1424.75 132.32 1593.5 129.86" stroke="#858585" stroke-width="9.16"/>
<path d="M1600.5 129.76Q1608.95 129.64 1617.4 129.51" stroke="#858585" stroke-width="9.16"/>
<path d="M1634 129.26Q1638.25 129.2 1642.5 129.14" stroke="#858585" stroke-width="9.16"/>
<path d="M1657 128.92Q1733 127.76 1809 126.5" stroke="#858585" stroke-width="9.16"/>
<path d="M977 173.56Q1392.5 168.85 1808 163.54" stroke="#898989" stroke-width="10.3"/>
<path d="M977 210.27Q1392.5 204.85 1808 199.64" stroke="#898989" stroke-width="10.3"/>
<path d="M977 256.75Q1392.5 252.41 1808 246.83" stroke="#7c7c7c" stroke-width="8.79"/>
<path d="M977 292.76Q1392.5 287.8 1808 283.25" stroke="#7c7c7c" stroke-width="8.79"/>
<ellipse cx="992.75" cy="463.2" rx="11.19" ry="2.4" fill="#636363" stroke="none"/>
<ellipse cx="1034.88" cy="462.8" rx="16.22" ry="2.4" fill="#636363" stroke="none"/>
<ellipse cx="1055.84" cy="462.6" rx="4.69" ry="2.4" fill="#636363" stroke="none"/>
<ellipse cx="1083.09" cy="462.35" rx="14.12" ry="2.4" fill="#636363" stroke="none"/>
<ellipse cx="1104.26" cy="462.15" rx="7.63" ry="2.4" fill="#636363" stroke="none"/>
<ellipse cx="1131.82" cy="461.89" rx="11.5" ry="2.4" fill="#636363" stroke="none"/>
<ellipse cx="1153.3" cy="461.69" rx="10.35" ry="2.4" fill="#636363" stroke="none"/>
<ellipse cx="1181.6" cy="461.43" rx="9.93" ry="2.4" fill="#636363" stroke="none"/>
<ellipse cx="1203.92" cy="461.22" rx="12.76" ry="2.4" fill="#636363" stroke="none"/>
<ellipse cx="1230.33" cy="460.98" rx="7.31" ry="2.4" fill="#636363" stroke="none"/>
<ellipse cx="1253.18" cy="460.77" rx="15.91" ry="2.4" fill="#636363" stroke="none"/>
<ellipse cx="1281.16" cy="460.51" rx="5.74" ry="2.4" fill="#636363" stroke="none"/>
<ellipse cx="1304.53" cy="460.3" rx="18" ry="2.4" fill="#636363" stroke="none"/>
<ellipse cx="1355.57" cy="459.83" rx="20.41" ry="2.4" fill="#636363" stroke="none"/>
<ellipse cx="1392.77" cy="459.5" rx="9.41" ry="2.4" fill="#636363" stroke="none"/>
<ellipse cx="1414.01" cy="459.31" rx="16.22" ry="2.4" fill="#636363" stroke="none"/>
<ellipse cx="1460.12" cy="458.89" rx="24.6" ry="2.4" fill="#636363" stroke="none"/>
<ellipse cx="1516.71" cy="458.39" rx="26.7" ry="2.4" fill="#636363" stroke="none"/>
<ellipse cx="1572.26" cy="457.9" rx="25.65" ry="2.4" fill="#636363" stroke="none"/>
<ellipse cx="1628.85" cy="457.4" rx="27.75" ry="2.4" fill="#636363" stroke="none"/>
<ellipse cx="1685.96" cy="456.91" rx="27.22" ry="2.4" fill="#636363" stroke="none"/>
<ellipse cx="1743.6" cy="456.41" rx="28.27" ry="2.4" fill="#636363" stroke="none"/>
<ellipse cx="1789.72" cy="456.01" rx="16.74" ry="2.4" fill="#636363" stroke="none"/>
<ellipse cx="994.25" cy="499.16" rx="11.19" ry="2.75" fill="#636363" stroke="none"/>
<ellipse cx="1036.38" cy="498.7" rx="16.22" ry="2.75" fill="#636363" stroke="none"/>
<ellipse cx="1057.34" cy="498.48" rx="4.69" ry="2.75" fill="#636363" stroke="none"/>
<ellipse cx="1084.59" cy="498.18" rx="14.12" ry="2.75" fill="#636363" stroke="none"/>
<ellipse cx="1105.76" cy="497.96" rx="7.63" ry="2.75" fill="#636363" stroke="none"/>
<ellipse cx="1133.32" cy="497.67" rx="11.5" ry="2.75" fill="#636363" stroke="none"/>
<ellipse cx="1154.8" cy="497.45" rx="10.35" ry="2.75" fill="#636363" stroke="none"/>
<ellipse cx="1183.1" cy="497.15" rx="9.93" ry="2.75" fill="#636363" stroke="none"/>
<ellipse cx="1205.42" cy="496.93" rx="12.76" ry="2.75" fill="#636363" stroke="none"/>
<ellipse cx="1231.83" cy="496.66" rx="7.31" ry="2.75" fill="#636363" stroke="none"/>
<ellipse cx="1254.68" cy="496.43" rx="15.91" ry="2.75" fill="#636363" stroke="none"/>
<ellipse cx="1282.66" cy="496.16" rx="5.74" ry="2.75" fill="#636363" stroke="none"/>
<ellipse cx="1306.03" cy="495.93" rx="18" ry="2.75" fill="#636363" stroke="none"/>
<ellipse cx="1357.07" cy="495.43" rx="20.41" ry="2.75" fill="#636363" stroke="none"/>
<ellipse cx="1394.27" cy="495.08" rx="9.41" ry="2.75" fill="#636363" stroke="none"/>
<ellipse cx="1415.51" cy="494.89" rx="16.22" ry="2.75" fill="#636363" stroke="none"/>
<ellipse cx="1461.62" cy="494.46" rx="24.6" ry="2.75" fill="#636363" stroke="none"/>
<ellipse cx="1518.21" cy="493.95" rx="26.7" ry="2.75" fill="#636363" stroke="none"/>
<ellipse cx="1573.76" cy="493.47" rx="25.65" ry="2.75" fill="#636363" stroke="none"/>
<ellipse cx="1630.35" cy="492.99" rx="27.75" ry="2.75" fill="#636363" stroke="none"/>
<ellipse cx="1687.46" cy="492.51" rx="27.22" ry="2.75" fill="#636363" stroke="none"/>
<ellipse cx="1745.1" cy="492.05" rx="28.27" ry="2.75" fill="#636363" stroke="none"/>
<ellipse cx="1791.22" cy="491.69" rx="16.74" ry="2.75" fill="#636363" stroke="none"/>
<path d="M1014 592.96Q1208.5 591.51 1403 590.02" stroke="#545454" stroke-width="5.23"/>
<path d="M1412.5 589.95Q1452.75 589.64 1493 589.33" stroke="#545454" stroke-width="5.23"/>
<path d="M1506 589.23Q1657.5 588.05 1809 586.85" stroke="#545454" stroke-width="5.23"/>
<path d="M1014 629.66Q1209.5 628.21 1405 626.7" stroke="#616161" stroke-width="6.73"/>
<path d="M1414.5 626.63Q1454.75 626.32 1495 626.01" stroke="#616161" stroke-width="6.73"/>
<path d="M1508 625.91Q1658.5 624.74 1809 623.55" stroke="#616161" stroke-width="6.73"/>
</g>
<g filter="url(#bcp2)" fill="none">
<polygon points="976,101.16 982,101.1 988,101.04 994,100.98 1000,100.91 1006,100.85 1012,100.79 1018,100.72 1024,100.66 1030,100.6 1036,100.53 1042,100.47 1048,100.41 1054,100.34 1060,100.28 1066,100.21 1072,100.15 1078,100.08 1084,100.02 1090,99.95 1096,99.89 1102,99.82 1108,99.75 1114,99.69 1120,99.62 1126,99.55 1132,99.49 1138,99.42 1144,99.35 1150,99.29 1156,99.22 1162,99.15 1168,99.08 1174,99.01 1180,98.95 1186,98.88 1192,98.81 1198,98.74 1204,98.67 1210,98.6 1216,98.53 1222,98.46 1228,98.39 1234,98.32 1240,98.25 1246,98.18 1252,98.11 1258,98.04 1264,97.97 1270,97.9 1276,97.83 1282,97.75 1288,97.68 1294,97.61 1300,97.54 1306,97.47 1312,97.39 1318,97.32 1324,97.25 1330,97.17 1336,97.1 1342,97.03 1348,96.95 1354,96.88 1360,96.81 1366,96.73 1372,96.66 1378,96.58 1384,96.51 1390,96.43 1396,96.36 1402,96.28 1408,96.21 1414,96.13 1420,96.05 1426,95.98 1432,95.9 1438,95.82 1444,95.75 1450,95.67 1456,95.59 1462,95.52 1468,95.44 1474,95.36 1480,95.28 1486,95.2 1492,95.13 1498,95.05 1504,94.97 1510,94.89 1516,94.81 1522,94.73 1528,94.65 1534,94.57 1540,94.49 1546,94.41 1552,94.33 1558,94.25 1564,94.17 1570,94.09 1576,94.01 1582,93.93 1588,93.85 1594,93.76 1600,93.68 1606,93.6 1612,93.52 1618,93.44 1624,93.35 1630,93.27 1636,93.19 1642,93.1 1648,93.02 1654,92.94 1660,92.85 1666,92.77 1672,92.69 1678,92.6 1684,92.52 1690,92.43 1696,92.35 1702,92.26 1708,92.18 1714,92.09 1720,92.01 1726,91.92 1732,91.83 1738,91.75 1744,91.66 1750,91.57 1756,91.49 1762,91.4 1768,91.31 1774,91.23 1780,91.14 1786,91.05 1792,90.96 1798,90.87 1804,90.79 1809,90.71 1809,93.11 1804,93.18 1798,93.27 1792,93.36 1786,93.45 1780,93.54 1774,93.62 1768,93.71 1762,93.8 1756,93.89 1750,93.97 1744,94.06 1738,94.15 1732,94.23 1726,94.32 1720,94.4 1714,94.49 1708,94.58 1702,94.66 1696,94.75 1690,94.83 1684,94.92 1678,95 1672,95.08 1666,95.17 1660,95.25 1654,95.34 1648,95.42 1642,95.5 1636,95.59 1630,95.67 1624,95.75 1618,95.83 1612,95.92 1606,96 1600,96.08 1594,96.16 1588,96.24 1582,96.33 1576,96.41 1570,96.49 1564,96.57 1558,96.65 1552,96.73 1546,96.81 1540,96.89 1534,96.97 1528,97.05 1522,97.13 1516,97.21 1510,97.29 1504,97.37 1498,97.45 1492,97.52 1486,97.6 1480,97.68 1474,97.76 1468,97.84 1462,97.91 1456,97.99 1450,98.07 1444,98.15 1438,98.22 1432,98.3 1426,98.38 1420,98.45 1414,98.53 1408,98.6 1402,98.68 1396,98.76 1390,98.83 1384,98.91 1378,98.98 1372,99.06 1366,99.13 1360,99.2 1354,99.28 1348,99.35 1342,99.43 1336,99.5 1330,99.57 1324,99.65 1318,99.72 1312,99.79 1306,99.86 1300,99.94 1294,100.01 1288,100.08 1282,100.15 1276,100.22 1270,100.3 1264,100.37 1258,100.44 1252,100.51 1246,100.58 1240,100.65 1234,100.72 1228,100.79 1222,100.86 1216,100.93 1210,101 1204,101.07 1198,101.14 1192,101.21 1186,101.28 1180,101.34 1174,101.41 1168,101.48 1162,101.55 1156,101.62 1150,101.68 1144,101.75 1138,101.82 1132,101.89 1126,101.95 1120,102.02 1114,102.09 1108,102.15 1102,102.22 1096,102.28 1090,102.35 1084,102.42 1078,102.48 1072,102.55 1066,102.61 1060,102.68 1054,102.74 1048,102.8 1042,102.87 1036,102.93 1030,103 1024,103.06 1018,103.12 1012,103.19 1006,103.25 1000,103.31 994,103.37 988,103.44 982,103.5 976,103.56" fill="#fff" stroke="none"/>
<polygon points="975,135.51 981,135.47 987,135.42 993,135.37 994.5,135.36 996,135.35 997.5,135.34 999,135.34 1000.5,135.5 1002,135.8 1003.5,135.48 1005,135.29 1006.5,135.27 1008,135.26 1009.5,135.24 1011,135.23 1017,135.18 1023,135.14 1029,135.09 1035,135.04 1041,134.99 1047,134.93 1053,134.88 1054,134.88 1055.5,134.86 1057,134.85 1058.5,134.85 1059,134.87 1060,135.04 1061.5,135.41 1063,135.02 1064.5,134.79 1065,134.78 1066,134.77 1067.5,134.76 1069,134.74 1071,134.73 1077,134.67 1083,134.62 1089,134.56 1095,134.51 1101,134.45 1107,134.4 1113,134.34 1119,134.29 1125,134.23 1131,134.17 1137,134.11 1143,134.05 1149,133.99 1155,133.93 1161,133.87 1167,133.81 1173,133.75 1179,133.69 1185,133.63 1191,133.56 1197,133.5 1198,133.51 1198.75,133.61 1199.5,133.81 1200.25,134.19 1201,135.35 1201,135.35 1200.25,136.53 1199.5,136.92 1198.75,137.15 1198,137.26 1197,137.29 1191,137.36 1185,137.42 1179,137.49 1173,137.55 1167,137.62 1161,137.68 1155,137.75 1149,137.81 1143,137.88 1137,137.94 1131,138.01 1125,138.07 1119,138.13 1113,138.2 1107,138.26 1101,138.32 1095,138.39 1089,138.45 1083,138.51 1077,138.57 1071,138.64 1069,138.66 1067.5,138.67 1066,138.69 1065,138.7 1064.5,138.69 1063,138.5 1061.5,138.14 1060,138.53 1059,138.72 1058.5,138.76 1057,138.78 1055.5,138.8 1054,138.81 1053,138.82 1047,138.88 1041,138.95 1035,139.01 1029,139.07 1023,139.13 1017,139.19 1011,139.25 1009.5,139.27 1008,139.28 1006.5,139.3 1005,139.3 1003.5,139.14 1002,138.84 1000.5,139.17 999,139.36 997.5,139.39 996,139.4 994.5,139.42 993,139.43 987,139.49 981,139.55 975,139.61" fill="#fff" stroke="none"/>
<polygon points="1205.7,135.3 1206.45,134.12 1207.2,133.73 1207.95,133.51 1208.7,133.39 1211.7,133.34 1217.7,133.28 1219.5,133.28 1220.25,133.37 1221,133.58 1221.75,133.95 1222.5,135.12 1222.5,135.12 1221.75,136.29 1221,136.68 1220.25,136.91 1219.5,137.02 1217.7,137.06 1211.7,137.13 1208.7,137.14 1207.95,137.04 1207.2,136.84 1206.45,136.46 1205.7,135.3" fill="#fff" stroke="none"/>
<polygon points="1226.7,135.07 1227.45,133.89 1228.2,133.5 1228.95,133.28 1229.7,133.17 1232,133.14 1232.7,133.23 1232.75,133.24 1233.5,133.44 1234.25,133.82 1235,134.98 1235,134.98 1234.25,136.16 1233.5,136.55 1232.75,136.77 1232.7,136.78 1232,136.88 1229.7,136.91 1228.95,136.81 1228.2,136.6 1227.45,136.23 1226.7,135.07" fill="#fff" stroke="none"/>
<polygon points="1255,134.75 1255.75,133.57 1256.5,133.18 1257.25,132.96 1258,132.85 1261,132.79 1267,132.72 1273,132.65 1279,132.58 1285,132.51 1291,132.44 1297,132.37 1303,132.3 1309,132.22 1315,132.15 1321,132.08 1327,132 1333,131.93 1339,131.85 1345,131.78 1351,131.7 1357,131.62 1363,131.55 1369,131.47 1375,131.39 1381,131.31 1387,131.23 1393,131.15 1399,131.07 1405,130.99 1411,130.91 1417,130.83 1423,130.75 1429,130.66 1435,130.58 1441,130.5 1447,130.41 1453,130.33 1459,130.24 1465,130.16 1471,130.07 1477,129.98 1483,129.9 1489,129.81 1495,129.72 1501,129.63 1507,129.54 1513,129.45 1519,129.36 1525,129.27 1531,129.18 1531.2,129.18 1532.7,129.15 1534.2,129.13 1535.7,129.15 1537,129.51 1537.2,129.62 1538.7,130.35 1540.2,129.58 1541.7,129.05 1543,129 1543.2,128.99 1544.7,128.97 1546.2,128.94 1548,128.92 1549,128.9 1549.5,128.89 1551,128.87 1552.5,128.86 1554,129.14 1555,129.69 1555.5,129.8 1557,129.09 1558.5,128.76 1560,128.73 1561,128.72 1561.5,128.72 1563,129 1564.5,129.66 1566,128.95 1567,128.66 1567.5,128.62 1569,128.59 1570.5,128.56 1572,128.54 1573,128.52 1579,128.43 1585,128.33 1591,128.24 1591.5,128.25 1592.25,128.36 1593,128.59 1593.75,129.02 1594.5,130.35 1594.5,130.35 1593.75,131.7 1593,132.15 1592.25,132.4 1591.5,132.53 1591,132.56 1585,132.64 1579,132.72 1573,132.79 1572,132.81 1570.5,132.83 1569,132.84 1567.5,132.85 1567,132.83 1566,132.57 1564.5,131.9 1563,132.6 1561.5,132.93 1561,132.95 1560,132.96 1558.5,132.97 1557,132.68 1555.5,132.02 1555,132.14 1554,132.72 1552.5,133.05 1551,133.08 1549.5,133.09 1549,133.1 1548,133.11 1546.2,133.14 1544.7,133.16 1543.2,133.17 1543,133.18 1541.7,133.16 1540.2,132.67 1538.7,131.94 1537.2,132.71 1537,132.83 1535.7,133.23 1534.2,133.29 1532.7,133.31 1531.2,133.33 1531,133.33 1525,133.41 1519,133.48 1513,133.56 1507,133.63 1501,133.71 1495,133.78 1489,133.86 1483,133.93 1477,134.01 1471,134.08 1465,134.16 1459,134.23 1453,134.31 1447,134.38 1441,134.45 1435,134.53 1429,134.6 1423,134.67 1417,134.75 1411,134.82 1405,134.89 1399,134.96 1393,135.03 1387,135.11 1381,135.18 1375,135.25 1369,135.32 1363,135.39 1357,135.46 1351,135.53 1345,135.6 1339,135.68 1333,135.75 1327,135.82 1321,135.89 1315,135.96 1309,136.02 1303,136.09 1297,136.16 1291,136.23 1285,136.3 1279,136.37 1273,136.44 1267,136.51 1261,136.57 1258,136.59 1257.25,136.49 1256.5,136.29 1255.75,135.91 1255,134.75" fill="#fff" stroke="none"/>
<polygon points="1599.5,130.27 1600.25,128.92 1601,128.47 1601.75,128.21 1602.5,128.07 1605.5,128 1611.5,127.9 1615.4,127.86 1616.15,127.97 1616.9,128.21 1617.5,128.53 1617.65,128.64 1618.4,130 1618.4,130 1617.65,131.37 1617.5,131.49 1616.9,131.83 1616.15,132.09 1615.4,132.22 1611.5,132.29 1605.5,132.37 1602.5,132.39 1601.75,132.28 1601,132.04 1600.25,131.61 1599.5,130.27" fill="#fff" stroke="none"/>
<polygon points="1633,129.78 1633.75,128.39 1634.5,127.92 1635.25,127.66 1636,127.52 1639,127.45 1640.5,127.45 1641.25,127.56 1642,127.8 1642.75,128.24 1643.5,129.62 1643.5,129.62 1642.75,131.02 1642,131.49 1641.25,131.75 1640.5,131.89 1639,131.93 1636,131.95 1635.25,131.83 1634.5,131.59 1633.75,131.15 1633,129.78" fill="#fff" stroke="none"/>
<polygon points="1656,129.43 1656.75,128.01 1657.5,127.54 1658.25,127.27 1659,127.13 1662,127.06 1668,126.96 1674,126.85 1680,126.75 1686,126.64 1692,126.54 1698,126.43 1704,126.33 1710,126.22 1716,126.11 1722,126.01 1728,125.9 1734,125.79 1740,125.68 1746,125.57 1752,125.46 1758,125.35 1764,125.24 1770,125.13 1776,125.02 1782,124.91 1788,124.79 1794,124.68 1800,124.57 1806,124.45 1810,124.38 1810,129.59 1806,129.65 1800,129.73 1794,129.82 1788,129.9 1782,129.99 1776,130.07 1770,130.15 1764,130.24 1758,130.32 1752,130.4 1746,130.48 1740,130.57 1734,130.65 1728,130.73 1722,130.81 1716,130.9 1710,130.98 1704,131.06 1698,131.14 1692,131.22 1686,131.3 1680,131.38 1674,131.46 1668,131.54 1662,131.62 1659,131.64 1658.25,131.52 1657.5,131.28 1656.75,130.83 1656,129.43" fill="#fff" stroke="none"/>
<ellipse cx="1241" cy="134.91" rx="2.25" ry="1.06" fill="#ffffff" stroke="none"/>
<ellipse cx="1622.6" cy="129.93" rx="1.25" ry="0.68" fill="#b4b4b4" stroke="none"/>
<ellipse cx="1627.8" cy="129.86" rx="2" ry="0.92" fill="#d5d5d5" stroke="none"/>
<ellipse cx="1647.7" cy="129.56" rx="1.25" ry="0.68" fill="#ababab" stroke="none"/>
<ellipse cx="1652" cy="129.49" rx="1.25" ry="0.68" fill="#ababab" stroke="none"/>
<polygon points="976,171.85 982,171.79 988,171.72 994,171.65 1000,171.58 1006,171.51 1012,171.44 1018,171.37 1024,171.3 1030,171.23 1036,171.16 1042,171.09 1048,171.02 1054,170.96 1060,170.89 1066,170.82 1072,170.75 1078,170.68 1084,170.61 1090,170.54 1096,170.47 1102,170.39 1108,170.32 1114,170.25 1120,170.18 1126,170.11 1132,170.04 1138,169.97 1144,169.9 1150,169.83 1156,169.76 1162,169.69 1168,169.62 1174,169.54 1180,169.47 1186,169.4 1192,169.33 1198,169.26 1204,169.19 1210,169.11 1216,169.04 1222,168.97 1228,168.9 1234,168.83 1240,168.75 1246,168.68 1252,168.61 1258,168.54 1264,168.46 1270,168.39 1276,168.32 1282,168.24 1288,168.17 1294,168.1 1300,168.02 1306,167.95 1312,167.88 1318,167.8 1324,167.73 1330,167.66 1331,167.65 1332.5,167.63 1334,167.62 1335.5,167.73 1336,167.83 1337,168.14 1337.5,168.3 1338.5,168.45 1339,168.4 1340,168.1 1340.5,167.94 1341.5,167.77 1342,167.84 1343,168.14 1343.5,168.2 1344.5,167.93 1345,167.73 1346,167.5 1346.5,167.47 1348,167.44 1349.5,167.42 1351,167.4 1354,167.36 1360,167.29 1366,167.21 1372,167.14 1378,167.07 1384,166.99 1390,166.92 1396,166.84 1402,166.77 1408,166.69 1414,166.62 1420,166.54 1426,166.47 1432,166.39 1438,166.32 1444,166.24 1450,166.17 1456,166.09 1462,166.02 1468,165.94 1474,165.87 1480,165.79 1486,165.71 1492,165.64 1498,165.56 1504,165.49 1510,165.41 1516,165.33 1522,165.26 1528,165.18 1534,165.1 1540,165.03 1546,164.95 1552,164.87 1558,164.8 1564,164.72 1570,164.64 1576,164.57 1582,164.49 1588,164.41 1594,164.33 1600,164.26 1606,164.18 1612,164.1 1618,164.02 1624,163.95 1630,163.87 1636,163.79 1642,163.71 1648,163.63 1654,163.56 1660,163.48 1666,163.4 1672,163.32 1678,163.24 1684,163.16 1690,163.08 1696,163.01 1702,162.93 1708,162.85 1714,162.77 1720,162.69 1726,162.61 1732,162.53 1738,162.45 1744,162.37 1750,162.29 1756,162.21 1762,162.13 1768,162.05 1774,161.97 1780,161.89 1786,161.81 1792,161.73 1798,161.65 1804,161.57 1809,161.51 1809,166.54 1804,166.6 1798,166.68 1792,166.75 1786,166.82 1780,166.89 1774,166.97 1768,167.04 1762,167.11 1756,167.19 1750,167.26 1744,167.33 1738,167.4 1732,167.48 1726,167.55 1720,167.62 1714,167.69 1708,167.77 1702,167.84 1696,167.91 1690,167.98 1684,168.06 1678,168.13 1672,168.2 1666,168.27 1660,168.34 1654,168.42 1648,168.49 1642,168.56 1636,168.63 1630,168.7 1624,168.78 1618,168.85 1612,168.92 1606,168.99 1600,169.06 1594,169.13 1588,169.21 1582,169.28 1576,169.35 1570,169.42 1564,169.49 1558,169.56 1552,169.63 1546,169.71 1540,169.78 1534,169.85 1528,169.92 1522,169.99 1516,170.06 1510,170.13 1504,170.2 1498,170.27 1492,170.34 1486,170.42 1480,170.49 1474,170.56 1468,170.63 1462,170.7 1456,170.77 1450,170.84 1444,170.91 1438,170.98 1432,171.05 1426,171.12 1420,171.19 1414,171.26 1408,171.33 1402,171.4 1396,171.47 1390,171.54 1384,171.61 1378,171.68 1372,171.75 1366,171.82 1360,171.89 1354,171.96 1351,172 1349.5,172.02 1348,172.03 1346.5,172.04 1346,172.01 1345,171.81 1344.5,171.62 1343.5,171.38 1343,171.45 1342,171.77 1341.5,171.85 1340.5,171.71 1340,171.56 1339,171.28 1338.5,171.24 1337.5,171.42 1337,171.6 1336,171.93 1335.5,172.04 1334,172.18 1332.5,172.21 1331,172.23 1330,172.24 1324,172.31 1318,172.38 1312,172.45 1306,172.52 1300,172.59 1294,172.66 1288,172.73 1282,172.8 1276,172.87 1270,172.94 1264,173.01 1258,173.08 1252,173.15 1246,173.21 1240,173.28 1234,173.35 1228,173.42 1222,173.49 1216,173.56 1210,173.63 1204,173.7 1198,173.77 1192,173.83 1186,173.9 1180,173.97 1174,174.04 1168,174.11 1162,174.18 1156,174.25 1150,174.31 1144,174.38 1138,174.45 1132,174.52 1126,174.59 1120,174.66 1114,174.72 1108,174.79 1102,174.86 1096,174.93 1090,175 1084,175.07 1078,175.13 1072,175.2 1066,175.27 1060,175.34 1054,175.4 1048,175.47 1042,175.54 1036,175.61 1030,175.68 1024,175.74 1018,175.81 1012,175.88 1006,175.94 1000,176.01 994,176.08 988,176.15 982,176.21 976,176.28" fill="#fff" stroke="none"/>
<polygon points="976,208.56 982,208.49 988,208.41 994,208.33 1000,208.25 1006,208.17 1012,208.09 1018,208.01 1024,207.93 1030,207.85 1036,207.78 1042,207.7 1048,207.62 1054,207.54 1060,207.46 1066,207.38 1072,207.3 1078,207.22 1084,207.14 1090,207.07 1096,206.99 1102,206.91 1108,206.83 1114,206.75 1120,206.67 1126,206.59 1132,206.51 1138,206.43 1144,206.35 1150,206.28 1156,206.2 1162,206.12 1168,206.04 1174,205.96 1180,205.88 1186,205.8 1192,205.72 1198,205.64 1204,205.57 1210,205.49 1216,205.41 1222,205.33 1228,205.25 1234,205.17 1240,205.09 1246,205.01 1252,204.93 1258,204.86 1264,204.78 1270,204.7 1276,204.62 1282,204.54 1288,204.46 1294,204.38 1300,204.3 1306,204.22 1312,204.14 1318,204.07 1324,203.99 1330,203.91 1336,203.83 1342,203.75 1348,203.67 1354,203.59 1360,203.51 1366,203.43 1372,203.36 1378,203.28 1384,203.2 1390,203.12 1396,203.04 1402,202.96 1408,202.88 1414,202.8 1420,202.72 1426,202.65 1432,202.57 1438,202.49 1444,202.41 1450,202.33 1456,202.25 1462,202.17 1468,202.09 1474,202.01 1480,201.93 1486,201.86 1492,201.78 1498,201.7 1504,201.62 1510,201.54 1516,201.46 1522,201.38 1528,201.3 1534,201.22 1540,201.15 1546,201.07 1552,200.99 1558,200.91 1564,200.83 1570,200.75 1576,200.67 1582,200.59 1588,200.51 1594,200.44 1600,200.36 1606,200.28 1612,200.2 1618,200.12 1624,200.04 1630,199.96 1636,199.88 1642,199.8 1648,199.72 1654,199.65 1660,199.57 1666,199.49 1672,199.41 1678,199.33 1684,199.25 1690,199.17 1696,199.09 1702,199.01 1708,198.94 1714,198.86 1720,198.78 1726,198.7 1732,198.62 1738,198.54 1744,198.46 1750,198.38 1756,198.3 1762,198.23 1768,198.15 1774,198.07 1780,197.99 1786,197.91 1792,197.83 1798,197.75 1804,197.67 1809,197.61 1809,202.64 1804,202.7 1798,202.77 1792,202.85 1786,202.92 1780,202.99 1774,203.06 1768,203.13 1762,203.2 1756,203.28 1750,203.35 1744,203.42 1738,203.49 1732,203.56 1726,203.64 1720,203.71 1714,203.78 1708,203.85 1702,203.93 1696,204 1690,204.07 1684,204.14 1678,204.22 1672,204.29 1666,204.36 1660,204.43 1654,204.51 1648,204.58 1642,204.65 1636,204.72 1630,204.8 1624,204.87 1618,204.94 1612,205.02 1606,205.09 1600,205.16 1594,205.23 1588,205.31 1582,205.38 1576,205.45 1570,205.53 1564,205.6 1558,205.67 1552,205.75 1546,205.82 1540,205.89 1534,205.97 1528,206.04 1522,206.12 1516,206.19 1510,206.26 1504,206.34 1498,206.41 1492,206.48 1486,206.56 1480,206.63 1474,206.71 1468,206.78 1462,206.85 1456,206.93 1450,207 1444,207.08 1438,207.15 1432,207.22 1426,207.3 1420,207.37 1414,207.45 1408,207.52 1402,207.6 1396,207.67 1390,207.75 1384,207.82 1378,207.89 1372,207.97 1366,208.04 1360,208.12 1354,208.19 1348,208.27 1342,208.34 1336,208.42 1330,208.49 1324,208.57 1318,208.64 1312,208.72 1306,208.79 1300,208.87 1294,208.94 1288,209.02 1282,209.09 1276,209.17 1270,209.25 1264,209.32 1258,209.4 1252,209.47 1246,209.55 1240,209.62 1234,209.7 1228,209.77 1222,209.85 1216,209.93 1210,210 1204,210.08 1198,210.15 1192,210.23 1186,210.31 1180,210.38 1174,210.46 1168,210.53 1162,210.61 1156,210.69 1150,210.76 1144,210.84 1138,210.91 1132,210.99 1126,211.07 1120,211.14 1114,211.22 1108,211.3 1102,211.37 1096,211.45 1090,211.53 1084,211.6 1078,211.68 1072,211.76 1066,211.83 1060,211.91 1054,211.99 1048,212.06 1042,212.14 1036,212.22 1030,212.3 1024,212.37 1018,212.45 1012,212.53 1006,212.6 1000,212.68 994,212.76 988,212.84 982,212.91 976,212.99" fill="#fff" stroke="none"/>
<polygon points="976,255.19 982,255.13 988,255.07 993.81,255.01 994,255.01 995.31,255 996.81,255.02 998.31,255.17 999.81,255.52 1000,255.56 1001.31,255.73 1002.81,255.49 1004.31,255.11 1005.81,254.92 1006,254.91 1007.31,254.87 1008.81,254.85 1012,254.82 1018,254.75 1024,254.69 1030,254.62 1033.31,254.59 1034.81,254.58 1036,254.59 1036.31,254.6 1037.81,254.75 1039.31,255.1 1040.81,255.31 1042,255.14 1042.31,255.07 1043.81,254.69 1045.31,254.5 1046.81,254.45 1048,254.43 1048.31,254.43 1054,254.37 1060,254.3 1066,254.24 1072,254.17 1072.89,254.16 1074.39,254.15 1075.89,254.17 1077.39,254.33 1078,254.45 1078.89,254.67 1080.39,254.88 1081.89,254.64 1083.39,254.26 1084,254.16 1084.89,254.07 1086.39,254.02 1087.89,254 1090,253.98 1096,253.91 1102,253.85 1108,253.78 1112.55,253.73 1114,253.72 1114.05,253.72 1115.55,253.74 1117.05,253.9 1118.55,254.24 1120,254.45 1120.05,254.45 1121.55,254.21 1123.05,253.83 1124.55,253.64 1126,253.59 1126.05,253.59 1127.55,253.57 1132,253.52 1138,253.45 1144,253.39 1150,253.32 1152.29,253.3 1153.79,253.28 1155.29,253.3 1156,253.35 1156.79,253.46 1158.29,253.8 1159.79,254.01 1161.29,253.77 1162,253.58 1162.79,253.39 1164.29,253.2 1165.79,253.15 1167.29,253.13 1168,253.12 1174,253.05 1180,252.99 1186,252.92 1192,252.85 1192.11,252.85 1193.61,252.84 1195.11,252.86 1196.61,253.01 1198,253.33 1198.11,253.36 1199.61,253.57 1201.11,253.32 1202.61,252.94 1204,252.76 1204.11,252.76 1205.61,252.7 1207.11,252.68 1210,252.65 1216,252.58 1222,252.51 1228,252.45 1232,252.4 1233.5,252.39 1234,252.39 1235,252.41 1236.5,252.56 1238,252.91 1239.5,253.12 1240,253.08 1241,252.87 1242.5,252.49 1244,252.31 1245.5,252.25 1246,252.24 1247,252.23 1252,252.17 1258,252.1 1264,252.04 1270,251.97 1271.98,251.94 1273.48,251.93 1274.98,251.95 1276,252.03 1276.48,252.1 1277.98,252.45 1279.48,252.66 1280.98,252.41 1282,252.14 1282.48,252.04 1283.98,251.85 1285.48,251.79 1286.98,251.77 1288,251.76 1294,251.69 1300,251.62 1306,251.55 1312,251.48 1312.04,251.48 1313.54,251.47 1315.04,251.49 1316.54,251.64 1318,251.97 1318.04,251.98 1319.54,252.19 1321.04,251.95 1322.54,251.57 1324,251.38 1324.04,251.38 1325.54,251.33 1327.04,251.31 1330,251.27 1336,251.2 1342,251.13 1348,251.06 1352.18,251.01 1353.68,251 1354,251 1355.18,251.01 1356.68,251.17 1358.18,251.51 1359.68,251.72 1360,251.71 1361.18,251.48 1362.68,251.1 1364.18,250.91 1365.68,250.85 1366,250.85 1367.18,250.83 1372,250.78 1378,250.7 1384,250.63 1390,250.56 1392.4,250.53 1393.9,250.52 1395.4,250.54 1396,250.57 1396.9,250.69 1398.4,251.03 1399.9,251.24 1401.4,251 1402,250.83 1402.9,250.62 1404.4,250.43 1405.9,250.38 1407.4,250.35 1408,250.35 1414,250.27 1420,250.2 1426,250.13 1432,250.06 1432.7,250.05 1434.2,250.03 1435.7,250.05 1437.2,250.21 1438,250.38 1438.7,250.55 1440.2,250.76 1441.7,250.51 1443.2,250.13 1444,250.01 1444.7,249.94 1446.2,249.89 1447.7,249.87 1450,249.84 1456,249.77 1462,249.69 1468,249.62 1473,249.56 1474,249.55 1474.5,249.54 1476,249.56 1477.5,249.72 1479,250.06 1480,250.24 1480.5,250.27 1482,250.02 1483.5,249.64 1485,249.45 1486,249.41 1486.5,249.4 1488,249.38 1492,249.33 1498,249.25 1504,249.18 1510,249.1 1513.38,249.06 1514.88,249.05 1516,249.05 1516.38,249.07 1517.88,249.22 1519.38,249.56 1520.88,249.77 1522,249.62 1522.38,249.52 1523.88,249.14 1525.38,248.95 1526.88,248.9 1528,248.88 1528.38,248.88 1534,248.81 1540,248.73 1546,248.66 1552,248.58 1553.84,248.56 1555.34,248.54 1556.84,248.56 1558,248.66 1558.34,248.71 1559.84,249.06 1561.34,249.27 1562.84,249.02 1564,248.71 1564.34,248.64 1565.84,248.45 1567.34,248.39 1568.84,248.37 1570,248.36 1576,248.28 1582,248.21 1588,248.13 1594,248.05 1594.38,248.05 1595.88,248.03 1597.38,248.05 1598.88,248.2 1600,248.45 1600.38,248.55 1601.88,248.75 1603.38,248.51 1604.88,248.13 1606,247.97 1606.38,247.94 1607.88,247.88 1609.38,247.86 1612,247.83 1618,247.75 1624,247.67 1630,247.6 1635.01,247.53 1636,247.52 1636.51,247.52 1638.01,247.53 1639.51,247.69 1641.01,248.03 1642,248.21 1642.51,248.24 1644.01,247.99 1645.51,247.61 1647.01,247.42 1648,247.37 1648.51,247.36 1650.01,247.34 1654,247.29 1660,247.21 1666,247.13 1672,247.06 1675.71,247.01 1677.21,246.99 1678,246.99 1678.71,247.01 1680.21,247.16 1681.71,247.5 1683.21,247.71 1684,247.63 1684.71,247.47 1686.21,247.08 1687.71,246.89 1689.21,246.84 1690,246.82 1690.71,246.81 1696,246.74 1702,246.67 1708,246.59 1714,246.51 1716.5,246.48 1718,246.46 1719.5,246.48 1720,246.51 1721,246.63 1722.5,246.97 1724,247.18 1725.5,246.93 1726,246.79 1727,246.55 1728.5,246.36 1730,246.3 1731.5,246.28 1732,246.27 1738,246.19 1744,246.12 1750,246.04 1756,245.96 1757.37,245.94 1758.87,245.92 1760.37,245.94 1761.87,246.09 1762,246.12 1763.37,246.43 1764.87,246.64 1766.37,246.39 1767.87,246.01 1768,245.99 1769.37,245.82 1770.87,245.76 1772.37,245.74 1774,245.72 1780,245.64 1786,245.56 1792,245.48 1798,245.4 1798.32,245.39 1799.82,245.38 1801.32,245.39 1802.82,245.55 1804,245.81 1804.32,245.89 1805.82,246.09 1807.32,245.85 1808.82,245.46 1809,245.43 1809,249.21 1808.82,249.18 1807.32,248.84 1805.82,248.63 1804.32,248.88 1804,248.96 1802.82,249.26 1801.32,249.45 1799.82,249.51 1798.32,249.53 1798,249.54 1792,249.62 1786,249.7 1780,249.78 1774,249.86 1772.37,249.88 1770.87,249.89 1769.37,249.88 1768,249.75 1767.87,249.73 1766.37,249.38 1764.87,249.18 1763.37,249.42 1762,249.78 1761.87,249.8 1760.37,250 1758.87,250.05 1757.37,250.08 1756,250.09 1750,250.17 1744,250.25 1738,250.33 1732,250.41 1731.5,250.42 1730,250.43 1728.5,250.42 1727,250.27 1726,250.05 1725.5,249.92 1724,249.72 1722.5,249.96 1721,250.34 1720,250.49 1719.5,250.53 1718,250.59 1716.5,250.61 1714,250.65 1708,250.73 1702,250.8 1696,250.88 1690.71,250.95 1690,250.96 1689.21,250.97 1687.71,250.95 1686.21,250.8 1684.71,250.45 1684,250.31 1683.21,250.25 1681.71,250.49 1680.21,250.88 1678.71,251.07 1678,251.1 1677.21,251.12 1675.71,251.14 1672,251.19 1666,251.27 1660,251.35 1654,251.43 1650.01,251.48 1648.51,251.49 1648,251.49 1647.01,251.48 1645.51,251.32 1644.01,250.98 1642.51,250.77 1642,250.81 1641.01,251.02 1639.51,251.4 1638.01,251.59 1636.51,251.65 1636,251.65 1635.01,251.67 1630,251.73 1624,251.81 1618,251.89 1612,251.96 1609.38,252 1607.88,252.01 1606.38,251.99 1606,251.97 1604.88,251.84 1603.38,251.5 1601.88,251.29 1600.38,251.54 1600,251.64 1598.88,251.92 1597.38,252.11 1595.88,252.16 1594.38,252.19 1594,252.19 1588,252.27 1582,252.34 1576,252.42 1570,252.49 1568.84,252.51 1567.34,252.52 1565.84,252.51 1564.34,252.35 1564,252.29 1562.84,252.01 1561.34,251.8 1559.84,252.05 1558.34,252.43 1558,252.49 1556.84,252.62 1555.34,252.67 1553.84,252.7 1552,252.72 1546,252.79 1540,252.87 1534,252.94 1528.38,253.01 1528,253.02 1526.88,253.03 1525.38,253.01 1523.88,252.86 1522.38,252.51 1522,252.43 1520.88,252.31 1519.38,252.55 1517.88,252.93 1516.38,253.12 1516,253.14 1514.88,253.18 1513.38,253.2 1510,253.24 1504,253.32 1498,253.39 1492,253.46 1488,253.51 1486.5,253.53 1486,253.53 1485,253.51 1483.5,253.36 1482,253.01 1480.5,252.8 1480,252.84 1479,253.05 1477.5,253.43 1476,253.62 1474.5,253.67 1474,253.68 1473,253.7 1468,253.76 1462,253.83 1456,253.9 1450,253.98 1447.7,254 1446.2,254.02 1444.7,254 1444,253.95 1443.2,253.85 1441.7,253.5 1440.2,253.3 1438.7,253.54 1438,253.73 1437.2,253.92 1435.7,254.11 1434.2,254.16 1432.7,254.19 1432,254.19 1426,254.27 1420,254.34 1414,254.41 1408,254.48 1407.4,254.49 1405.9,254.5 1404.4,254.49 1402.9,254.33 1402,254.14 1401.4,253.99 1399.9,253.78 1398.4,254.02 1396.9,254.4 1396,254.54 1395.4,254.59 1393.9,254.65 1392.4,254.67 1390,254.7 1384,254.77 1378,254.84 1372,254.91 1367.18,254.97 1366,254.98 1365.68,254.98 1364.18,254.97 1362.68,254.81 1361.18,254.47 1360,254.27 1359.68,254.26 1358.18,254.5 1356.68,254.88 1355.18,255.07 1354,255.12 1353.68,255.13 1352.18,255.15 1348,255.2 1342,255.27 1336,255.34 1330,255.41 1327.04,255.44 1325.54,255.46 1324.04,255.44 1324,255.44 1322.54,255.28 1321.04,254.94 1319.54,254.73 1318.04,254.97 1318,254.99 1316.54,255.35 1315.04,255.54 1313.54,255.6 1312.04,255.62 1312,255.62 1306,255.69 1300,255.76 1294,255.83 1288,255.9 1286.98,255.91 1285.48,255.92 1283.98,255.9 1282.48,255.75 1282,255.65 1280.98,255.4 1279.48,255.2 1277.98,255.44 1276.48,255.82 1276,255.9 1274.98,256.01 1273.48,256.06 1271.98,256.08 1270,256.1 1264,256.17 1258,256.24 1252,256.31 1247,256.37 1246,256.38 1245.5,256.38 1244,256.36 1242.5,256.21 1241,255.86 1240,255.68 1239.5,255.65 1238,255.9 1236.5,256.28 1235,256.46 1234,256.51 1233.5,256.52 1232,256.54 1228,256.58 1222,256.65 1216,256.72 1210,256.79 1207.11,256.82 1205.61,256.83 1204.11,256.81 1204,256.81 1202.61,256.66 1201.11,256.32 1199.61,256.1 1198.11,256.35 1198,256.38 1196.61,256.73 1195.11,256.92 1193.61,256.97 1192.11,256.99 1192,256.99 1186,257.06 1180,257.12 1174,257.19 1168,257.26 1167.29,257.27 1165.79,257.28 1164.29,257.26 1162.79,257.11 1162,256.94 1161.29,256.76 1159.79,256.55 1158.29,256.79 1156.79,257.17 1156,257.3 1155.29,257.36 1153.79,257.41 1152.29,257.43 1150,257.46 1144,257.52 1138,257.59 1132,257.66 1127.55,257.71 1126.05,257.72 1126,257.72 1124.55,257.7 1123.05,257.54 1121.55,257.2 1120.05,256.99 1120,256.99 1118.55,257.23 1117.05,257.61 1115.55,257.8 1114.05,257.85 1114,257.85 1112.55,257.87 1108,257.92 1102,257.99 1096,258.05 1090,258.12 1087.89,258.14 1086.39,258.15 1084.89,258.13 1084,258.07 1083.39,257.98 1081.89,257.63 1080.39,257.42 1078.89,257.66 1078,257.9 1077.39,258.04 1075.89,258.23 1074.39,258.28 1072.89,258.3 1072,258.31 1066,258.38 1060,258.44 1054,258.51 1048.31,258.57 1048,258.57 1046.81,258.58 1045.31,258.56 1043.81,258.4 1042.31,258.06 1042,257.99 1040.81,257.85 1039.31,258.09 1037.81,258.47 1036.31,258.65 1036,258.67 1034.81,258.71 1033.31,258.73 1030,258.76 1024,258.83 1018,258.89 1012,258.95 1008.81,258.99 1007.31,259 1006,258.99 1005.81,258.98 1004.31,258.82 1002.81,258.48 1001.31,258.27 1000,258.46 999.81,258.51 998.31,258.89 996.81,259.07 995.31,259.12 994,259.14 993.81,259.14 988,259.21 982,259.27 976,259.33" fill="#fff" stroke="none"/>
<polygon points="976,291.2 982,291.13 988,291.06 993.81,290.99 994,290.99 995.31,290.98 996.81,291 998.31,291.15 999.81,291.49 1000,291.54 1001.31,291.7 1002.81,291.46 1004.31,291.08 1005.81,290.89 1006,290.88 1007.31,290.83 1008.81,290.81 1012,290.77 1018,290.7 1024,290.63 1030,290.56 1033.31,290.52 1034.81,290.51 1036,290.51 1036.31,290.53 1037.81,290.68 1039.31,291.02 1040.81,291.23 1042,291.07 1042.31,290.99 1043.81,290.61 1045.31,290.42 1046.81,290.36 1048,290.35 1048.31,290.34 1054,290.28 1060,290.2 1066,290.13 1072,290.06 1072.89,290.05 1074.39,290.04 1075.89,290.06 1077.39,290.21 1078,290.34 1078.89,290.55 1080.39,290.76 1081.89,290.52 1083.39,290.14 1084,290.04 1084.89,289.95 1086.39,289.9 1087.89,289.87 1090,289.85 1096,289.78 1102,289.71 1108,289.64 1112.55,289.58 1114,289.57 1114.05,289.57 1115.55,289.59 1117.05,289.74 1118.55,290.09 1120,290.3 1120.05,290.29 1121.55,290.05 1123.05,289.67 1124.55,289.48 1126,289.43 1126.05,289.43 1127.55,289.41 1132,289.35 1138,289.28 1144,289.21 1150,289.14 1152.29,289.12 1153.79,289.1 1155.29,289.12 1156,289.17 1156.79,289.28 1158.29,289.62 1159.79,289.83 1161.29,289.58 1162,289.39 1162.79,289.2 1164.29,289.02 1165.79,288.96 1167.29,288.94 1168,288.93 1174,288.86 1180,288.79 1186,288.72 1192,288.65 1192.11,288.65 1193.61,288.64 1195.11,288.65 1196.61,288.81 1198,289.13 1198.11,289.15 1199.61,289.36 1201.11,289.12 1202.61,288.74 1204,288.56 1204.11,288.55 1205.61,288.5 1207.11,288.47 1210,288.44 1216,288.37 1222,288.3 1228,288.23 1232,288.18 1233.5,288.17 1234,288.17 1235,288.19 1236.5,288.34 1238,288.69 1239.5,288.9 1240,288.86 1241,288.65 1242.5,288.27 1244,288.09 1245.5,288.03 1246,288.02 1247,288.01 1252,287.95 1258,287.88 1264,287.81 1270,287.74 1271.98,287.72 1273.48,287.71 1274.98,287.73 1276,287.81 1276.48,287.88 1277.98,288.22 1279.48,288.43 1280.98,288.19 1282,287.92 1282.48,287.81 1283.98,287.62 1285.48,287.57 1286.98,287.55 1288,287.53 1294,287.47 1300,287.4 1306,287.33 1312,287.26 1312.04,287.26 1313.54,287.24 1315.04,287.26 1316.54,287.42 1318,287.75 1318.04,287.76 1319.54,287.97 1321.04,287.73 1322.54,287.35 1324,287.16 1324.04,287.16 1325.54,287.1 1327.04,287.08 1330,287.05 1336,286.98 1342,286.91 1348,286.84 1352.18,286.79 1353.68,286.78 1354,286.78 1355.18,286.8 1356.68,286.95 1358.18,287.3 1359.68,287.51 1360,287.49 1361.18,287.26 1362.68,286.88 1364.18,286.7 1365.68,286.64 1366,286.64 1367.18,286.62 1372,286.57 1378,286.5 1384,286.43 1390,286.36 1392.4,286.33 1393.9,286.32 1395.4,286.34 1396,286.38 1396.9,286.49 1398.4,286.84 1399.9,287.05 1401.4,286.8 1402,286.64 1402.9,286.42 1404.4,286.24 1405.9,286.18 1407.4,286.16 1408,286.15 1414,286.09 1420,286.02 1426,285.95 1432,285.88 1432.7,285.87 1434.2,285.86 1435.7,285.88 1437.2,286.03 1438,286.2 1438.7,286.38 1440.2,286.59 1441.7,286.34 1443.2,285.96 1444,285.84 1444.7,285.78 1446.2,285.72 1447.7,285.7 1450,285.68 1456,285.61 1462,285.54 1468,285.47 1473,285.41 1474,285.4 1474.5,285.4 1476,285.42 1477.5,285.57 1479,285.92 1480,286.1 1480.5,286.13 1482,285.89 1483.5,285.51 1485,285.32 1486,285.28 1486.5,285.26 1488,285.24 1492,285.2 1498,285.13 1504,285.06 1510,284.99 1513.38,284.96 1514.88,284.94 1516,284.95 1516.38,284.96 1517.88,285.12 1519.38,285.46 1520.88,285.67 1522,285.52 1522.38,285.43 1523.88,285.05 1525.38,284.86 1526.88,284.81 1528,284.79 1528.38,284.79 1534,284.72 1540,284.66 1546,284.59 1552,284.52 1553.84,284.5 1555.34,284.49 1556.84,284.51 1558,284.61 1558.34,284.66 1559.84,285.01 1561.34,285.22 1562.84,284.97 1564,284.67 1564.34,284.59 1565.84,284.4 1567.34,284.35 1568.84,284.33 1570,284.32 1576,284.25 1582,284.18 1588,284.12 1594,284.05 1594.38,284.04 1595.88,284.03 1597.38,284.05 1598.88,284.2 1600,284.45 1600.38,284.55 1601.88,284.76 1603.38,284.52 1604.88,284.14 1606,283.98 1606.38,283.95 1607.88,283.9 1609.38,283.88 1612,283.85 1618,283.78 1624,283.71 1630,283.65 1635.01,283.59 1636,283.58 1636.51,283.58 1638.01,283.6 1639.51,283.75 1641.01,284.1 1642,284.28 1642.51,284.31 1644.01,284.06 1645.51,283.68 1647.01,283.5 1648,283.45 1648.51,283.44 1650.01,283.42 1654,283.38 1660,283.31 1666,283.24 1672,283.18 1675.71,283.14 1677.21,283.12 1678,283.13 1678.71,283.14 1680.21,283.3 1681.71,283.64 1683.21,283.85 1684,283.77 1684.71,283.61 1686.21,283.23 1687.71,283.04 1689.21,282.99 1690,282.98 1690.71,282.97 1696,282.91 1702,282.84 1708,282.78 1714,282.71 1716.5,282.68 1718,282.67 1719.5,282.69 1720,282.72 1721,282.85 1722.5,283.19 1724,283.4 1725.5,283.16 1726,283.02 1727,282.78 1728.5,282.59 1730,282.54 1731.5,282.52 1732,282.51 1738,282.45 1744,282.38 1750,282.31 1756,282.25 1757.37,282.23 1758.87,282.22 1760.37,282.24 1761.87,282.4 1762,282.42 1763.37,282.74 1764.87,282.95 1766.37,282.71 1767.87,282.33 1768,282.3 1769.37,282.14 1770.87,282.09 1772.37,282.07 1774,282.05 1780,281.98 1786,281.92 1792,281.85 1798,281.79 1798.32,281.78 1799.82,281.77 1801.32,281.79 1802.82,281.95 1804,282.21 1804.32,282.29 1805.82,282.5 1807.32,282.26 1808.82,281.88 1809,281.84 1809,285.62 1808.82,285.59 1807.32,285.25 1805.82,285.04 1804.32,285.28 1804,285.37 1802.82,285.66 1801.32,285.85 1799.82,285.9 1798.32,285.92 1798,285.92 1792,285.99 1786,286.06 1780,286.12 1774,286.19 1772.37,286.2 1770.87,286.22 1769.37,286.2 1768,286.07 1767.87,286.04 1766.37,285.7 1764.87,285.49 1763.37,285.73 1762,286.08 1761.87,286.11 1760.37,286.3 1758.87,286.35 1757.37,286.37 1756,286.39 1750,286.45 1744,286.52 1738,286.58 1732,286.65 1731.5,286.66 1730,286.67 1728.5,286.65 1727,286.49 1726,286.27 1725.5,286.15 1724,285.94 1722.5,286.18 1721,286.56 1720,286.71 1719.5,286.75 1718,286.8 1716.5,286.82 1714,286.85 1708,286.92 1702,286.98 1696,287.05 1690.71,287.11 1690,287.11 1689.21,287.12 1687.71,287.1 1686.21,286.95 1684.71,286.6 1684,286.45 1683.21,286.39 1681.71,286.63 1680.21,287.01 1678.71,287.2 1678,287.23 1677.21,287.25 1675.71,287.27 1672,287.31 1666,287.38 1660,287.45 1654,287.52 1650.01,287.56 1648.51,287.57 1648,287.57 1647.01,287.55 1645.51,287.4 1644.01,287.05 1642.51,286.84 1642,286.88 1641.01,287.09 1639.51,287.46 1638.01,287.65 1636.51,287.71 1636,287.71 1635.01,287.73 1630,287.78 1624,287.85 1618,287.92 1612,287.98 1609.38,288.01 1607.88,288.03 1606.38,288.01 1606,287.99 1604.88,287.85 1603.38,287.51 1601.88,287.3 1600.38,287.54 1600,287.65 1598.88,287.92 1597.38,288.11 1595.88,288.16 1594.38,288.18 1594,288.19 1588,288.25 1582,288.32 1576,288.39 1570,288.45 1568.84,288.47 1567.34,288.48 1565.84,288.46 1564.34,288.31 1564,288.24 1562.84,287.96 1561.34,287.75 1559.84,288 1558.34,288.38 1558,288.44 1556.84,288.56 1555.34,288.62 1553.84,288.64 1552,288.66 1546,288.72 1540,288.79 1534,288.86 1528.38,288.92 1528,288.93 1526.88,288.94 1525.38,288.92 1523.88,288.76 1522.38,288.42 1522,288.33 1520.88,288.21 1519.38,288.45 1517.88,288.83 1516.38,289.02 1516,289.04 1514.88,289.07 1513.38,289.09 1510,289.13 1504,289.2 1498,289.27 1492,289.34 1488,289.38 1486.5,289.39 1486,289.39 1485,289.37 1483.5,289.22 1482,288.88 1480.5,288.67 1480,288.7 1479,288.91 1477.5,289.29 1476,289.48 1474.5,289.53 1474,289.54 1473,289.55 1468,289.61 1462,289.68 1456,289.74 1450,289.81 1447.7,289.84 1446.2,289.85 1444.7,289.83 1444,289.79 1443.2,289.68 1441.7,289.33 1440.2,289.12 1438.7,289.37 1438,289.56 1437.2,289.75 1435.7,289.93 1434.2,289.99 1432.7,290.01 1432,290.02 1426,290.09 1420,290.15 1414,290.22 1408,290.29 1407.4,290.3 1405.9,290.31 1404.4,290.29 1402.9,290.14 1402,289.94 1401.4,289.79 1399.9,289.58 1398.4,289.83 1396.9,290.21 1396,290.34 1395.4,290.4 1393.9,290.45 1392.4,290.47 1390,290.5 1384,290.57 1378,290.63 1372,290.7 1367.18,290.76 1366,290.77 1365.68,290.77 1364.18,290.75 1362.68,290.6 1361.18,290.25 1360,290.05 1359.68,290.05 1358.18,290.29 1356.68,290.67 1355.18,290.86 1354,290.9 1353.68,290.91 1352.18,290.93 1348,290.98 1342,291.05 1336,291.12 1330,291.19 1327.04,291.22 1325.54,291.23 1324.04,291.22 1324,291.21 1322.54,291.06 1321.04,290.72 1319.54,290.51 1318.04,290.75 1318,290.76 1316.54,291.13 1315.04,291.32 1313.54,291.37 1312.04,291.39 1312,291.39 1306,291.46 1300,291.53 1294,291.6 1288,291.67 1286.98,291.68 1285.48,291.7 1283.98,291.68 1282.48,291.52 1282,291.43 1280.98,291.18 1279.48,290.97 1277.98,291.21 1276.48,291.59 1276,291.68 1274.98,291.78 1273.48,291.84 1271.98,291.86 1270,291.88 1264,291.95 1258,292.02 1252,292.09 1247,292.15 1246,292.16 1245.5,292.16 1244,292.14 1242.5,291.99 1241,291.64 1240,291.46 1239.5,291.43 1238,291.68 1236.5,292.06 1235,292.25 1234,292.29 1233.5,292.3 1232,292.32 1228,292.37 1222,292.44 1216,292.51 1210,292.58 1207.11,292.61 1205.61,292.63 1204.11,292.61 1204,292.6 1202.61,292.45 1201.11,292.11 1199.61,291.9 1198.11,292.14 1198,292.17 1196.61,292.52 1195.11,292.71 1193.61,292.77 1192.11,292.79 1192,292.79 1186,292.86 1180,292.93 1174,293 1168,293.07 1167.29,293.08 1165.79,293.09 1164.29,293.07 1162.79,292.92 1162,292.75 1161.29,292.57 1159.79,292.37 1158.29,292.61 1156.79,292.99 1156,293.11 1155.29,293.18 1153.79,293.23 1152.29,293.25 1150,293.28 1144,293.35 1138,293.42 1132,293.49 1127.55,293.54 1126.05,293.56 1126,293.56 1124.55,293.54 1123.05,293.39 1121.55,293.04 1120.05,292.83 1120,292.83 1118.55,293.08 1117.05,293.46 1115.55,293.64 1114.05,293.7 1114,293.7 1112.55,293.72 1108,293.77 1102,293.84 1096,293.92 1090,293.99 1087.89,294.01 1086.39,294.03 1084.89,294.01 1084,293.94 1083.39,293.85 1081.89,293.51 1080.39,293.3 1078.89,293.54 1078,293.78 1077.39,293.92 1075.89,294.11 1074.39,294.17 1072.89,294.19 1072,294.2 1066,294.27 1060,294.34 1054,294.41 1048.31,294.48 1048,294.48 1046.81,294.49 1045.31,294.48 1043.81,294.32 1042.31,293.98 1042,293.91 1040.81,293.77 1039.31,294.01 1037.81,294.39 1036.31,294.58 1036,294.6 1034.81,294.64 1033.31,294.66 1030,294.7 1024,294.77 1018,294.84 1012,294.91 1008.81,294.95 1007.31,294.96 1006,294.95 1005.81,294.94 1004.31,294.79 1002.81,294.45 1001.31,294.24 1000,294.43 999.81,294.48 998.31,294.86 996.81,295.05 995.31,295.11 994,295.13 993.81,295.13 988,295.2 982,295.27 976,295.34" fill="#fff" stroke="none"/>
<ellipse cx="992.75" cy="463.7" rx="10.69" ry="1.44" fill="#ffffff" stroke="none"/>
<ellipse cx="1034.88" cy="463.3" rx="15.72" ry="1.44" fill="#ffffff" stroke="none"/>
<ellipse cx="1055.84" cy="463.1" rx="4.19" ry="1.44" fill="#ffffff" stroke="none"/>
<ellipse cx="1083.09" cy="462.85" rx="13.62" ry="1.44" fill="#ffffff" stroke="none"/>
<ellipse cx="1104.26" cy="462.65" rx="7.13" ry="1.44" fill="#ffffff" stroke="none"/>
<ellipse cx="1131.82" cy="462.39" rx="11" ry="1.44" fill="#ffffff" stroke="none"/>
<ellipse cx="1153.3" cy="462.19" rx="9.85" ry="1.44" fill="#ffffff" stroke="none"/>
<ellipse cx="1181.6" cy="461.93" rx="9.43" ry="1.44" fill="#ffffff" stroke="none"/>
<ellipse cx="1203.92" cy="461.72" rx="12.26" ry="1.44" fill="#ffffff" stroke="none"/>
<ellipse cx="1230.33" cy="461.48" rx="6.81" ry="1.44" fill="#ffffff" stroke="none"/>
<ellipse cx="1253.18" cy="461.27" rx="15.41" ry="1.44" fill="#ffffff" stroke="none"/>
<ellipse cx="1281.16" cy="461.01" rx="5.24" ry="1.44" fill="#ffffff" stroke="none"/>
<ellipse cx="1304.53" cy="460.8" rx="17.5" ry="1.44" fill="#ffffff" stroke="none"/>
<ellipse cx="1331.15" cy="460.56" rx="1.78" ry="1.15" fill="#ffffff" stroke="none"/>
<ellipse cx="1355.57" cy="460.33" rx="19.91" ry="1.44" fill="#ffffff" stroke="none"/>
<ellipse cx="1392.77" cy="460" rx="8.91" ry="1.44" fill="#ffffff" stroke="none"/>
<ellipse cx="1414.01" cy="459.81" rx="15.72" ry="1.44" fill="#ffffff" stroke="none"/>
<ellipse cx="1460.12" cy="459.39" rx="24.1" ry="1.44" fill="#ffffff" stroke="none"/>
<ellipse cx="1516.71" cy="458.89" rx="26.2" ry="1.44" fill="#ffffff" stroke="none"/>
<ellipse cx="1572.26" cy="458.4" rx="25.15" ry="1.44" fill="#ffffff" stroke="none"/>
<ellipse cx="1628.85" cy="457.9" rx="27.25" ry="1.44" fill="#ffffff" stroke="none"/>
<ellipse cx="1685.96" cy="457.41" rx="26.72" ry="1.44" fill="#ffffff" stroke="none"/>
<ellipse cx="1743.6" cy="456.91" rx="27.77" ry="1.44" fill="#ffffff" stroke="none"/>
<ellipse cx="1789.72" cy="456.51" rx="16.24" ry="1.44" fill="#ffffff" stroke="none"/>
<ellipse cx="994.25" cy="499.66" rx="10.69" ry="1.83" fill="#ffffff" stroke="none"/>
<ellipse cx="1036.38" cy="499.2" rx="15.72" ry="1.83" fill="#ffffff" stroke="none"/>
<ellipse cx="1057.34" cy="498.98" rx="4.19" ry="1.83" fill="#ffffff" stroke="none"/>
<ellipse cx="1084.59" cy="498.68" rx="13.62" ry="1.83" fill="#ffffff" stroke="none"/>
<ellipse cx="1105.76" cy="498.46" rx="7.13" ry="1.83" fill="#ffffff" stroke="none"/>
<ellipse cx="1133.32" cy="498.17" rx="11" ry="1.83" fill="#ffffff" stroke="none"/>
<ellipse cx="1154.8" cy="497.95" rx="9.85" ry="1.83" fill="#ffffff" stroke="none"/>
<ellipse cx="1183.1" cy="497.65" rx="9.43" ry="1.83" fill="#ffffff" stroke="none"/>
<ellipse cx="1205.42" cy="497.43" rx="12.26" ry="1.83" fill="#ffffff" stroke="none"/>
<ellipse cx="1231.83" cy="497.16" rx="6.81" ry="1.83" fill="#ffffff" stroke="none"/>
<ellipse cx="1254.68" cy="496.93" rx="15.41" ry="1.83" fill="#ffffff" stroke="none"/>
<ellipse cx="1282.66" cy="496.66" rx="5.24" ry="1.83" fill="#ffffff" stroke="none"/>
<ellipse cx="1306.03" cy="496.43" rx="17.5" ry="1.83" fill="#ffffff" stroke="none"/>
<ellipse cx="1332.65" cy="496.17" rx="1.78" ry="1.46" fill="#ffffff" stroke="none"/>
<ellipse cx="1357.07" cy="495.93" rx="19.91" ry="1.83" fill="#ffffff" stroke="none"/>
<ellipse cx="1394.27" cy="495.58" rx="8.91" ry="1.83" fill="#ffffff" stroke="none"/>
<ellipse cx="1415.51" cy="495.39" rx="15.72" ry="1.83" fill="#ffffff" stroke="none"/>
<ellipse cx="1461.62" cy="494.96" rx="24.1" ry="1.83" fill="#ffffff" stroke="none"/>
<ellipse cx="1518.21" cy="494.45" rx="26.2" ry="1.83" fill="#ffffff" stroke="none"/>
<ellipse cx="1573.76" cy="493.97" rx="25.15" ry="1.83" fill="#ffffff" stroke="none"/>
<ellipse cx="1630.35" cy="493.49" rx="27.25" ry="1.83" fill="#ffffff" stroke="none"/>
<ellipse cx="1687.46" cy="493.01" rx="26.72" ry="1.83" fill="#ffffff" stroke="none"/>
<ellipse cx="1745.1" cy="492.55" rx="27.77" ry="1.83" fill="#ffffff" stroke="none"/>
<ellipse cx="1791.22" cy="492.19" rx="16.24" ry="1.83" fill="#ffffff" stroke="none"/>
<polygon points="1013,593.47 1013.75,592.68 1014.5,592.39 1015.25,592.21 1016,592.08 1016.75,592 1017.5,591.95 1019,591.94 1025,591.89 1031,591.85 1037,591.8 1043,591.76 1049,591.71 1055,591.67 1061,591.62 1067,591.58 1073,591.53 1079,591.49 1085,591.44 1091,591.4 1097,591.35 1103,591.31 1109,591.26 1115,591.22 1121,591.17 1127,591.13 1133,591.08 1139,591.04 1145,590.99 1151,590.95 1157,590.9 1163,590.86 1169,590.81 1175,590.77 1181,590.72 1187,590.68 1193,590.63 1199,590.58 1205,590.54 1211,590.49 1217,590.45 1223,590.4 1229,590.36 1235,590.31 1241,590.27 1247,590.22 1253,590.18 1259,590.13 1265,590.08 1271,590.04 1277,589.99 1283,589.95 1289,589.9 1295,589.86 1301,589.81 1307,589.76 1313,589.72 1319,589.67 1325,589.63 1331,589.58 1337,589.54 1343,589.49 1349,589.44 1355,589.4 1361,589.35 1367,589.31 1373,589.26 1379,589.21 1385,589.17 1391,589.12 1397,589.08 1399.5,589.06 1400.25,589.1 1401,589.17 1401.75,589.29 1402.5,589.46 1403,589.63 1403.25,589.73 1404,590.51 1404,590.51 1403.25,591.3 1403,591.41 1402.5,591.59 1401.75,591.77 1401,591.9 1400.25,591.98 1399.5,592.03 1397,592.05 1391,592.1 1385,592.15 1379,592.19 1373,592.24 1367,592.28 1361,592.33 1355,592.38 1349,592.42 1343,592.47 1337,592.51 1331,592.56 1325,592.61 1319,592.65 1313,592.7 1307,592.74 1301,592.79 1295,592.83 1289,592.88 1283,592.93 1277,592.97 1271,593.02 1265,593.06 1259,593.11 1253,593.15 1247,593.2 1241,593.25 1235,593.29 1229,593.34 1223,593.38 1217,593.43 1211,593.47 1205,593.52 1199,593.56 1193,593.61 1187,593.65 1181,593.7 1175,593.74 1169,593.79 1163,593.83 1157,593.88 1151,593.93 1145,593.97 1139,594.02 1133,594.06 1127,594.11 1121,594.15 1115,594.2 1109,594.24 1103,594.29 1097,594.33 1091,594.38 1085,594.42 1079,594.47 1073,594.51 1067,594.56 1061,594.6 1055,594.65 1049,594.69 1043,594.73 1037,594.78 1031,594.82 1025,594.87 1019,594.91 1017.5,594.92 1016.75,594.88 1016,594.81 1015.25,594.7 1014.5,594.52 1013.75,594.25 1013,593.47" fill="#fff" stroke="none"/>
<polygon points="1411.5,590.45 1412.25,589.66 1413,589.38 1413.75,589.19 1414.5,589.07 1415.25,588.98 1416,588.94 1417.5,588.92 1423.5,588.87 1429.5,588.83 1435.5,588.78 1441.5,588.73 1447.5,588.69 1453.5,588.64 1459.5,588.6 1465.5,588.55 1471.5,588.5 1477.5,588.46 1483.5,588.41 1489.5,588.37 1490.25,588.41 1491,588.48 1491.75,588.59 1492.5,588.77 1493.25,589.04 1494,589.82 1494,589.82 1493.25,590.61 1492.5,590.89 1491.75,591.08 1491,591.21 1490.25,591.29 1489.5,591.33 1483.5,591.39 1477.5,591.43 1471.5,591.48 1465.5,591.53 1459.5,591.57 1453.5,591.62 1447.5,591.67 1441.5,591.71 1435.5,591.76 1429.5,591.8 1423.5,591.85 1417.5,591.9 1416,591.9 1415.25,591.87 1414.5,591.8 1413.75,591.68 1413,591.51 1412.25,591.23 1411.5,590.45" fill="#fff" stroke="none"/>
<polygon points="1505,589.73 1505.75,588.94 1506.5,588.66 1507.25,588.47 1508,588.34 1508.75,588.26 1509.5,588.22 1511,588.2 1517,588.15 1523,588.1 1529,588.06 1535,588.01 1541,587.96 1547,587.92 1553,587.87 1559,587.82 1565,587.78 1571,587.73 1577,587.68 1583,587.64 1589,587.59 1595,587.54 1601,587.5 1607,587.45 1613,587.4 1619,587.36 1625,587.31 1631,587.26 1637,587.22 1643,587.17 1649,587.12 1655,587.08 1661,587.03 1667,586.98 1673,586.93 1679,586.89 1685,586.84 1691,586.79 1697,586.75 1703,586.7 1709,586.65 1715,586.61 1721,586.56 1727,586.51 1733,586.46 1739,586.42 1745,586.37 1751,586.32 1757,586.27 1763,586.23 1769,586.18 1775,586.13 1781,586.08 1787,586.04 1793,585.99 1799,585.94 1805,585.89 1810,585.86 1810,588.83 1805,588.87 1799,588.92 1793,588.97 1787,589.02 1781,589.06 1775,589.11 1769,589.16 1763,589.21 1757,589.25 1751,589.3 1745,589.35 1739,589.39 1733,589.44 1727,589.49 1721,589.54 1715,589.58 1709,589.63 1703,589.68 1697,589.73 1691,589.77 1685,589.82 1679,589.87 1673,589.91 1667,589.96 1661,590.01 1655,590.05 1649,590.1 1643,590.15 1637,590.2 1631,590.24 1625,590.29 1619,590.34 1613,590.38 1607,590.43 1601,590.48 1595,590.52 1589,590.57 1583,590.62 1577,590.66 1571,590.71 1565,590.76 1559,590.8 1553,590.85 1547,590.9 1541,590.94 1535,590.99 1529,591.04 1523,591.08 1517,591.13 1511,591.18 1509.5,591.18 1508.75,591.15 1508,591.07 1507.25,590.96 1506.5,590.78 1505.75,590.51 1505,589.73" fill="#fff" stroke="none"/>
<polygon points="1013,630.17 1013.75,629.22 1014.5,628.88 1015.25,628.66 1016,628.5 1016.75,628.41 1017.5,628.35 1019,628.33 1025,628.29 1031,628.24 1037,628.2 1043,628.15 1049,628.11 1055,628.06 1061,628.02 1067,627.97 1073,627.93 1079,627.88 1085,627.84 1091,627.79 1097,627.75 1103,627.7 1109,627.66 1115,627.61 1121,627.57 1127,627.52 1133,627.48 1139,627.43 1145,627.39 1151,627.34 1157,627.3 1163,627.25 1169,627.21 1175,627.16 1181,627.12 1187,627.07 1193,627.03 1199,626.98 1205,626.94 1211,626.89 1217,626.85 1223,626.8 1229,626.76 1235,626.71 1241,626.66 1247,626.62 1253,626.57 1259,626.53 1265,626.48 1271,626.44 1277,626.39 1283,626.35 1289,626.3 1295,626.25 1301,626.21 1307,626.16 1313,626.12 1319,626.07 1325,626.02 1331,625.98 1337,625.93 1343,625.89 1349,625.84 1355,625.8 1361,625.75 1367,625.7 1373,625.66 1379,625.61 1385,625.57 1391,625.52 1397,625.47 1401.5,625.45 1402.25,625.49 1403,625.58 1403.75,625.72 1404.5,625.93 1405.25,626.26 1406,627.2 1406,627.2 1405.25,628.15 1404.5,628.49 1403.75,628.71 1403,628.86 1402.25,628.96 1401.5,629.01 1397,629.06 1391,629.1 1385,629.15 1379,629.2 1373,629.24 1367,629.29 1361,629.33 1355,629.38 1349,629.42 1343,629.47 1337,629.52 1331,629.56 1325,629.61 1319,629.65 1313,629.7 1307,629.75 1301,629.79 1295,629.84 1289,629.88 1283,629.93 1277,629.97 1271,630.02 1265,630.07 1259,630.11 1253,630.16 1247,630.2 1241,630.25 1235,630.29 1229,630.34 1223,630.38 1217,630.43 1211,630.47 1205,630.52 1199,630.57 1193,630.61 1187,630.66 1181,630.7 1175,630.75 1169,630.79 1163,630.84 1157,630.88 1151,630.93 1145,630.97 1139,631.02 1133,631.06 1127,631.11 1121,631.15 1115,631.2 1109,631.24 1103,631.29 1097,631.33 1091,631.38 1085,631.42 1079,631.47 1073,631.51 1067,631.56 1061,631.6 1055,631.65 1049,631.69 1043,631.74 1037,631.78 1031,631.83 1025,631.87 1019,631.92 1017.5,631.92 1016.75,631.88 1016,631.79 1015.25,631.65 1014.5,631.44 1013.75,631.11 1013,630.17" fill="#fff" stroke="none"/>
<polygon points="1413.5,627.14 1414.25,626.19 1415,625.85 1415.75,625.63 1416.5,625.47 1417.25,625.38 1418,625.32 1419.5,625.3 1425.5,625.25 1431.5,625.21 1437.5,625.16 1443.5,625.12 1449.5,625.07 1455.5,625.02 1461.5,624.98 1467.5,624.93 1473.5,624.88 1479.5,624.84 1485.5,624.79 1491.5,624.75 1492.25,624.8 1493,624.88 1493.75,625.02 1494.5,625.23 1495.25,625.56 1496,626.5 1496,626.5 1495.25,627.45 1494.5,627.79 1493.75,628.02 1493,628.17 1492.25,628.27 1491.5,628.32 1485.5,628.38 1479.5,628.42 1473.5,628.47 1467.5,628.51 1461.5,628.56 1455.5,628.61 1449.5,628.65 1443.5,628.7 1437.5,628.75 1431.5,628.79 1425.5,628.84 1419.5,628.88 1418,628.89 1417.25,628.84 1416.5,628.76 1415.75,628.62 1415,628.41 1414.25,628.08 1413.5,627.14" fill="#fff" stroke="none"/>
<polygon points="1507,626.42 1507.75,625.47 1508.5,625.13 1509.25,624.9 1510,624.75 1510.75,624.65 1511.5,624.6 1513,624.58 1519,624.53 1525,624.49 1531,624.44 1537,624.39 1543,624.35 1549,624.3 1555,624.25 1561,624.21 1567,624.16 1573,624.11 1579,624.07 1585,624.02 1591,623.97 1597,623.93 1603,623.88 1609,623.83 1615,623.79 1621,623.74 1627,623.69 1633,623.65 1639,623.6 1645,623.55 1651,623.5 1657,623.46 1663,623.41 1669,623.36 1675,623.32 1681,623.27 1687,623.22 1693,623.18 1699,623.13 1705,623.08 1711,623.03 1717,622.99 1723,622.94 1729,622.89 1735,622.85 1741,622.8 1747,622.75 1753,622.7 1759,622.66 1765,622.61 1771,622.56 1777,622.51 1783,622.47 1789,622.42 1795,622.37 1801,622.32 1807,622.28 1810,622.25 1810,625.84 1807,625.86 1801,625.91 1795,625.95 1789,626 1783,626.05 1777,626.1 1771,626.14 1765,626.19 1759,626.24 1753,626.29 1747,626.33 1741,626.38 1735,626.43 1729,626.48 1723,626.52 1717,626.57 1711,626.62 1705,626.66 1699,626.71 1693,626.76 1687,626.81 1681,626.85 1675,626.9 1669,626.95 1663,626.99 1657,627.04 1651,627.09 1645,627.14 1639,627.18 1633,627.23 1627,627.28 1621,627.32 1615,627.37 1609,627.42 1603,627.46 1597,627.51 1591,627.56 1585,627.6 1579,627.65 1573,627.7 1567,627.74 1561,627.79 1555,627.84 1549,627.88 1543,627.93 1537,627.98 1531,628.02 1525,628.07 1519,628.12 1513,628.16 1511.5,628.17 1510.75,628.12 1510,628.04 1509.25,627.9 1508.5,627.69 1507.75,627.36 1507,626.42" fill="#fff" stroke="none"/>
</g>
<g filter="url(#bfp2)" fill="none">
<path d="M982 593.7Q986 593.67 990 593.64" stroke="#8b8b8b" stroke-width="1.2" stroke-linecap="butt"/>
<path d="M982 630.4Q984.5 630.38 987 630.36" stroke="#cbcbcb" stroke-width="1.2" stroke-linecap="butt"/>
<path d="M983.5 750.69Q995.05 750.62 1006.6 750.55" stroke="#cbcbcb" stroke-width="1.2" stroke-linecap="butt"/>
<path d="M1024 750.45Q1062 750.22 1100 749.98" stroke="#8b8b8b" stroke-width="1.2" stroke-linecap="butt"/>
<path d="M1612 746.35Q1626 746.24 1640 746.13" stroke="#838383" stroke-width="1.2" stroke-linecap="butt"/>
<path d="M1675 745.85Q1690 745.73 1705 745.61" stroke="#9a9a9a" stroke-width="1.2" stroke-linecap="butt"/>
<path d="M1720 745.49Q1730 745.41 1740 745.32" stroke="#9a9a9a" stroke-width="1.2" stroke-linecap="butt"/>
<path d="M1750 745.24Q1776.5 745.02 1803 744.8" stroke="#cbcbcb" stroke-width="1.2" stroke-linecap="butt"/>
<path d="M984 787.39Q998.5 787.29 1013 787.19" stroke="#eaeaea" stroke-width="1.2" stroke-linecap="butt"/>
<path d="M1027 787.1Q1056 786.9 1085 786.71" stroke="#d6d6d6" stroke-width="1.2" stroke-linecap="butt"/>
<path d="M1085 786.71Q1101.5 786.6 1118 786.48" stroke="#a7a7a7" stroke-width="1.2" stroke-linecap="butt"/>
<path d="M1392 784.6Q1408.5 784.49 1425 784.37" stroke="#8b8b8b" stroke-width="1.2" stroke-linecap="butt"/>
<path d="M1580.6 783.28Q1615.2 783.04 1649.8 782.79" stroke="#c0c0c0" stroke-width="1.2" stroke-linecap="butt"/>
<path d="M1676 782.61Q1696 782.47 1716 782.32" stroke="#cbcbcb" stroke-width="1.2" stroke-linecap="butt"/>
<path d="M1722 782.28Q1733.5 782.2 1745 782.12" stroke="#cbcbcb" stroke-width="1.2" stroke-linecap="butt"/>
<path d="M1753 782.06Q1778 781.88 1803 781.7" stroke="#eaeaea" stroke-width="1.2" stroke-linecap="butt"/>
</g>
</g>
<path d="M982.2 165.67Q1392.5 160.6 1802.8 155.62M982.2 181.33Q1392.5 176.26 1802.8 171.28M982.2 201.92Q1392.5 197.29 1802.8 191.97M982.2 217.58Q1392.5 212.95 1802.8 207.63M982.2 248.57Q1392.5 243.65 1802.8 239.42M982.2 264.23Q1392.5 259.31 1802.8 255.08M982.2 284.47Q1392.5 279.5 1802.8 275.02M982.2 300.13Q1392.5 295.16 1802.8 290.68M982.2 343.77Q1392.5 337.75 1802.8 336.42M982.2 359.43Q1392.5 353.41 1802.8 352.08M982.2 380.32Q1392.5 374.42 1802.8 373.32M982.2 395.98Q1392.5 390.08 1802.8 388.98M982.2 454.42Q1392.5 450.17 1802.8 447.32M982.2 470.08Q1392.5 465.83 1802.8 462.98M982.2 491.07Q1392.5 486.95 1802.8 483.52M982.2 506.73Q1392.5 502.61 1802.8 499.18M982.2 585.02Q1392.5 581.37 1802.8 578.72M982.2 600.68Q1392.5 597.03 1802.8 594.38M982.2 622.02Q1392.5 617.57 1802.8 615.32M982.2 637.68Q1392.5 633.23 1802.8 630.98M982.2 741.52Q1392.5 738.97 1802.8 735.82M982.2 757.18Q1392.5 754.63 1802.8 751.48M982.2 778.22Q1392.5 775.17 1802.8 772.52M982.2 793.88Q1392.5 790.83 1802.8 788.18" fill="none" stroke="#000" stroke-width="2.5"/>
<path d="M982.2 165.67Q1392.5 160.6 1802.8 155.62M982.2 181.33Q1392.5 176.26 1802.8 171.28M982.2 201.92Q1392.5 197.29 1802.8 191.97M982.2 217.58Q1392.5 212.95 1802.8 207.63M982.2 248.57Q1392.5 243.65 1802.8 239.42M982.2 264.23Q1392.5 259.31 1802.8 255.08M982.2 284.47Q1392.5 279.5 1802.8 275.02M982.2 300.13Q1392.5 295.16 1802.8 290.68M982.2 343.77Q1392.5 337.75 1802.8 336.42M982.2 359.43Q1392.5 353.41 1802.8 352.08M982.2 380.32Q1392.5 374.42 1802.8 373.32M982.2 395.98Q1392.5 390.08 1802.8 388.98M982.2 454.42Q1392.5 450.17 1802.8 447.32M982.2 470.08Q1392.5 465.83 1802.8 462.98M982.2 491.07Q1392.5 486.95 1802.8 483.52M982.2 506.73Q1392.5 502.61 1802.8 499.18M982.2 585.02Q1392.5 581.37 1802.8 578.72M982.2 600.68Q1392.5 597.03 1802.8 594.38M982.2 622.02Q1392.5 617.57 1802.8 615.32M982.2 637.68Q1392.5 633.23 1802.8 630.98M982.2 741.52Q1392.5 738.97 1802.8 735.82M982.2 757.18Q1392.5 754.63 1802.8 751.48M982.2 778.22Q1392.5 775.17 1802.8 772.52M982.2 793.88Q1392.5 790.83 1802.8 788.18" fill="none" stroke="#fff" stroke-width="2.5" stroke-dasharray="10 10"/>
</g>
<rect x="982" y="100" width="821" height="713" fill="none" stroke="#000" stroke-width="2"/>
<path d="M982 813v7.3M1082 813v7.3M1183 813v7.3M1283 813v7.3M1383 813v7.3M1483 813v7.3M1584 813v7.3M1684 813v7.3M1784 813v7.3M982 813h-7.3M982 725.5h-7.3M982 638h-7.3M982 551h-7.3M982 464h-7.3M982 377h-7.3M982 290h-7.3M982 203h-7.3M982 116h-7.3" stroke="#000" stroke-width="2" fill="none"/>
</g>
<g id="panel3">
<clipPath id="cp3"><rect x="1845" y="100" width="821" height="713"/></clipPath>
<filter id="bbp3" x="1835" y="90" width="841" height="733" filterUnits="userSpaceOnUse" color-interpolation-filters="sRGB"><feGaussianBlur stdDeviation="0.9"/></filter>
<filter id="bhp3" x="1835" y="90" width="841" height="733" filterUnits="userSpaceOnUse" color-interpolation-filters="sRGB"><feGaussianBlur stdDeviation="2.1"/></filter>
<filter id="bwp3" x="1835" y="90" width="841" height="733" filterUnits="userSpaceOnUse" color-interpolation-filters="sRGB"><feGaussianBlur stdDeviation="3"/></filter>
<filter id="bfp3" x="1835" y="90" width="841" height="733" filterUnits="userSpaceOnUse" color-interpolation-filters="sRGB"><feGaussianBlur stdDeviation="0.45"/></filter>
<filter id="bcp3" x="1835" y="90" width="841" height="733" filterUnits="userSpaceOnUse" color-interpolation-filters="sRGB"><feGaussianBlur stdDeviation="0.8"/></filter>
<filter id="nzp3" x="1835" y="90" width="841" height="733" filterUnits="userSpaceOnUse" color-interpolation-filters="sRGB"><feTurbulence type="fractalNoise" baseFrequency="0.8" numOctaves="2" seed="6" result="t"/><feColorMatrix in="t" type="matrix" values="2.2 0 0 0 -0.6  2.2 0 0 0 -0.6  2.2 0 0 0 -0.6  0 0 0 0 1" result="n"/><feComposite in="SourceGraphic" in2="n" operator="arithmetic" k1="1.0" k2="0.5" k3="-0.11" k4="0.055"/></filter>
<filter id="cmp3" x="1835" y="90" width="841" height="733" filterUnits="userSpaceOnUse" color-interpolation-filters="sRGB"><feTurbulence type="fractalNoise" baseFrequency="0.9" numOctaves="1" seed="16" result="t"/><feColorMatrix in="t" type="matrix" values="1 0 0 0 0  1 0 0 0 0  1 0 0 0 0  0 0 0 0 1" result="n"/><feComposite in="SourceGraphic" in2="n" operator="arithmetic" k1="0" k2="1" k3="0.05" k4="-0.025" result="m"/><feComponentTransfer in="m"><feFuncR type="table" tableValues="0.0504 0.0504 0.0504 0.0504 0.0504 0.0504 0.0635 0.0635 0.0754 0.0754 0.0862 0.0862 0.0964 0.106 0.1151 0.1239 0.1324 0.1406 0.1486 0.1564 0.1641 0.1716 0.1862 0.1934 0.2074 0.2144 0.228 0.2347 0.248 0.2612 0.2742 0.2871 0.2999 0.3125 0.3252 0.3377 0.3502 0.3626 0.381 0.3933 0.4116 0.4237 0.4417 0.4537 0.4715 0.4891 0.5065 0.5236 0.5406 0.5572 0.5736 0.5897 0.6055 0.6209 0.641 0.6556 0.6745 0.6883 0.7062 0.7192 0.736 0.7523 0.7681 0.7834 0.7982 0.8126 0.8266 0.8402 0.8533 0.8661 0.8814 0.8932 0.9074 0.9181 0.9308 0.9403 0.9513 0.9613 0.9702 0.9779 0.9842 0.9891 0.9925 0.9943 0.9944 0.9925 0.9876 0.9812 0.9705 0.9593 0.9442 0.94 0.94 0.94 0.94 0.94 0.94 0.94 0.94 0.94 0.94 0.94 0.94 0.94 0.94 0.94 0.94 0.94 0.94 0.94 0.94 0.94 0.94 0.94 0.94 0.94 0.94 0.94 0.94 0.94 0.94 0.94 0.94 0.94 0.94 0.94 0.94 0.94 0.94"/><feFuncG type="table" tableValues="0.0298 0.0298 0.0298 0.0298 0.0298 0.0298 0.0284 0.0284 0.0272 0.0272 0.0261 0.0261 0.0252 0.0243 0.0236 0.0229 0.0223 0.0217 0.0212 0.0207 0.0202 0.0197 0.0188 0.0184 0.0174 0.017 0.016 0.0155 0.0144 0.0133 0.0121 0.0109 0.0096 0.0082 0.0069 0.0056 0.0044 0.0032 0.0018 0.0011 0.0006 0.0006 0.0015 0.0028 0.0057 0.0101 0.0163 0.0245 0.035 0.0473 0.06 0.0729 0.0859 0.0989 0.1165 0.1297 0.1474 0.1607 0.1784 0.1917 0.2094 0.2271 0.2448 0.2625 0.2802 0.2979 0.3157 0.3336 0.3516 0.3697 0.3925 0.411 0.4345 0.4536 0.4779 0.4976 0.5228 0.5486 0.575 0.6021 0.6297 0.658 0.687 0.7167 0.747 0.778 0.816 0.8483 0.8879 0.9214 0.9619 0.9752 0.9752 0.9752 0.9752 0.9752 0.9752 0.9752 0.9752 0.9752 0.9752 0.9752 0.9752 0.9752 0.9752 0.9752 0.9752 0.9752 0.9752 0.9752 0.9752 0.9752 0.9752 0.9752 0.9752 0.9752 0.9752 0.9752 0.9752 0.9752 0.9752 0.9752 0.9752 0.9752 0.9752 0.9752 0.9752 0.9752 0.9752"/><feFuncB type="table" tableValues="0.528 0.528 0.528 0.528 0.528 0.528 0.5331 0.5331 0.538 0.538 0.5427 0.5427 0.5471 0.5514 0.5555 0.5594 0.5632 0.567 0.5706 0.5741 0.5775 0.5808 0.5872 0.5903 0.5963 0.5992 0.6049 0.6076 0.6129 0.6179 0.6227 0.6273 0.6316 0.6357 0.6395 0.643 0.6463 0.6492 0.6531 0.6552 0.6577 0.659 0.6601 0.6603 0.6599 0.6585 0.6562 0.6529 0.6486 0.6434 0.6373 0.6304 0.6227 0.6143 0.6021 0.5923 0.5787 0.5681 0.5537 0.5427 0.5279 0.5131 0.4985 0.4839 0.4695 0.4553 0.4413 0.4275 0.4137 0.4001 0.3832 0.3698 0.353 0.3395 0.3227 0.3092 0.2923 0.2753 0.2583 0.2414 0.2246 0.2081 0.1922 0.1772 0.1638 0.1529 0.1444 0.1423 0.1459 0.1516 0.1469 0.1313 0.1313 0.1313 0.1313 0.1313 0.1313 0.1313 0.1313 0.1313 0.1313 0.1313 0.1313 0.1313 0.1313 0.1313 0.1313 0.1313 0.1313 0.1313 0.1313 0.1313 0.1313 0.1313 0.1313 0.1313 0.1313 0.1313 0.1313 0.1313 0.1313 0.1313 0.1313 0.1313 0.1313 0.1313 0.1313 0.1313 0.1313"/><feFuncA type="linear" slope="0" intercept="1"/></feComponentTransfer></filter>
<g clip-path="url(#cp3)">
<g filter="url(#cmp3)">
<g filter="url(#nzp3)">
<rect x="1835" y="90" width="841" height="733" fill="#1f1f1f"/>
<g filter="url(#bbp3)">
<polygon points="1839,153.27 1943.12,152.07 2047.25,150.87 2151.38,149.68 2255.5,148.5 2359.62,147.32 2463.75,146.15 2567.88,144.99 2672,143.83 2672,200.04 2567.88,201.09 2463.75,202.17 2359.62,203.27 2255.5,204.4 2151.38,205.55 2047.25,206.73 1943.12,207.94 1839,209.17" fill="#303030"/>
<polygon points="1839,236.66 1943.12,235.59 2047.25,234.51 2151.38,233.41 2255.5,232.3 2359.62,231.18 2463.75,230.04 2567.88,228.89 2672,227.73 2672,283.83 2567.88,284.99 2463.75,286.12 2359.62,287.22 2255.5,288.3 2151.38,289.35 2047.25,290.38 1943.12,291.38 1839,292.36" fill="#363636"/>
<polygon points="1839,329.05 1943.12,328.24 2047.25,327.53 2151.38,326.92 2255.5,326.4 2359.62,325.98 2463.75,325.65 2567.88,325.43 2672,325.3 2672,384.01 2567.88,383.95 2463.75,384.09 2359.62,384.44 2255.5,385 2151.38,385.76 2047.25,386.73 1943.12,387.91 1839,389.29" fill="#474747"/>
<polygon points="1839,443.84 1943.12,443.07 2047.25,442.29 2151.38,441.5 2255.5,440.7 2359.62,439.9 2463.75,439.09 2567.88,438.27 2672,437.45 2672,493.75 2567.88,494.58 2463.75,495.4 2359.62,496.21 2255.5,497 2151.38,497.78 2047.25,498.55 1943.12,499.3 1839,500.04" fill="#4f4f4f"/>
<polygon points="1839,574.52 1943.12,574.1 2047.25,573.6 2151.38,573.04 2255.5,572.4 2359.62,571.69 2463.75,570.91 2567.88,570.06 2672,569.15 2672,626.85 2567.88,627.65 2463.75,628.44 2359.62,629.22 2255.5,630 2151.38,630.77 2047.25,631.53 1943.12,632.29 1839,633.04" fill="#4f4f4f"/>
<polygon points="1839,732.53 1943.12,732 2047.25,731.47 2151.38,730.93 2255.5,730.4 2359.62,729.87 2463.75,729.33 2567.88,728.8 2672,728.27 2672,786.26 2567.88,786.99 2463.75,787.69 2359.62,788.36 2255.5,789 2151.38,789.61 2047.25,790.18 1943.12,790.72 1839,791.23" fill="#414141"/>
</g>
</g>
<g filter="url(#bwp3)" fill="none" stroke-linecap="butt" style="mix-blend-mode:lighten">
<path d="M1843 125.62Q1912.5 125.09 1982 124.48" stroke="#4b4b4b" stroke-width="14.8"/>
<path d="M1988.9 124.41Q1997.35 124.34 2005.8 124.26" stroke="#4b4b4b" stroke-width="14.8"/>
<path d="M2030.8 124.03Q2036.6 123.98 2042.4 123.92" stroke="#4b4b4b" stroke-width="14.8"/>
<path d="M2056.8 123.79Q2227.9 122.15 2399 119.96" stroke="#4b4b4b" stroke-width="14.8"/>
<path d="M2407.6 119.85Q2439.55 119.44 2471.5 119.01" stroke="#4b4b4b" stroke-width="14.8"/>
<path d="M2489 118.77Q2580.5 117.52 2672 116.11" stroke="#4b4b4b" stroke-width="14.8"/>
<path d="M1842 162.73Q2255.5 158 2669 153.67" stroke="#4a4a4a" stroke-width="14.5"/>
<path d="M1842 199.03Q2255.5 194.3 2669 189.97" stroke="#4a4a4a" stroke-width="14.5"/>
<path d="M1842 245.93Q2255.5 241.5 2669 237.47" stroke="#484848" stroke-width="13.7"/>
<path d="M1842 282.64Q2255.5 277.59 2669 274.58" stroke="#4a4a4a" stroke-width="14.3"/>
<path d="M1833 454.24Q1850 454.04 1867 453.84" stroke="#444444" stroke-width="12.7"/>
<path d="M1873 453.77Q1899.8 453.46 1926.6 453.16" stroke="#444444" stroke-width="12.7"/>
<path d="M1932.6 453.09Q1959.75 452.79 1986.9 452.5" stroke="#444444" stroke-width="12.7"/>
<path d="M1992.9 452.44Q2007 452.29 2021.1 452.15" stroke="#444444" stroke-width="12.7"/>
<path d="M2027.1 452.08Q2037.15 451.98 2047.2 451.88" stroke="#444444" stroke-width="12.7"/>
<path d="M2053.2 451.82Q2130.1 451.05 2207 450.4" stroke="#444444" stroke-width="12.7"/>
<path d="M2213 450.35Q2306.9 449.56 2400.8 448.93" stroke="#444444" stroke-width="12.7"/>
<path d="M2406.8 448.89Q2501.8 448.27 2596.8 447.81" stroke="#444444" stroke-width="12.7"/>
<path d="M2602.8 447.78Q2669.9 447.46 2737 447.23" stroke="#444444" stroke-width="12.7"/>
<path d="M1835 490.27Q1851.5 490.15 1868 490.04" stroke="#474747" stroke-width="13.5"/>
<path d="M1874 490Q1900.8 489.81 1927.6 489.62" stroke="#474747" stroke-width="13.5"/>
<path d="M1933.6 489.57Q1960.75 489.38 1987.9 489.19" stroke="#474747" stroke-width="13.5"/>
<path d="M1993.9 489.15Q2008 489.05 2022.1 488.95" stroke="#474747" stroke-width="13.5"/>
<path d="M2028.1 488.91Q2038.15 488.84 2048.2 488.76" stroke="#474747" stroke-width="13.5"/>
<path d="M2054.2 488.72Q2131.1 488.18 2208 487.64" stroke="#474747" stroke-width="13.5"/>
<path d="M2214 487.59Q2307.9 486.93 2401.8 486.27" stroke="#474747" stroke-width="13.5"/>
<path d="M2407.8 486.22Q2502.8 485.55 2597.8 484.88" stroke="#474747" stroke-width="13.5"/>
<path d="M2603.8 484.84Q2670.4 484.37 2737 483.9" stroke="#474747" stroke-width="13.5"/>
<path d="M1843 586.02Q1907 585.52 1971 585.04" stroke="#414141" stroke-width="11.8"/>
<path d="M1994.5 584.86Q2148.75 583.71 2303 582.68" stroke="#414141" stroke-width="11.8"/>
<path d="M2325 582.53Q2330.5 582.5 2336 582.46" stroke="#414141" stroke-width="11.8"/>
<path d="M2425 581.88Q2505 581.36 2585 580.88" stroke="#414141" stroke-width="11.8"/>
<path d="M2627.5 580.63Q2649.75 580.49 2672 580.36" stroke="#414141" stroke-width="11.8"/>
<path d="M1843 622.31Q1908.25 621.97 1973.5 621.6" stroke="#444444" stroke-width="12.6"/>
<path d="M1994.5 621.48Q2151.25 620.59 2308 619.56" stroke="#444444" stroke-width="12.6"/>
<path d="M2326 619.44Q2332.5 619.39 2339 619.35" stroke="#444444" stroke-width="12.6"/>
<path d="M2425 618.76Q2507.25 618.19 2589.5 617.58" stroke="#444444" stroke-width="12.6"/>
<path d="M2627.5 617.29Q2649.75 617.13 2672 616.95" stroke="#444444" stroke-width="12.6"/>
</g>
<g filter="url(#bhp3)" fill="none" stroke-linecap="butt">
<path d="M1841 125.93Q1912.5 125.39 1984 124.76" stroke="#898989" stroke-width="10.1"/>
<path d="M1986.9 124.73Q1997.35 124.64 2007.8 124.54" stroke="#898989" stroke-width="10.1"/>
<path d="M2016.6 124.46Q2021.3 124.42 2026 124.38" stroke="#898989" stroke-width="10.1"/>
<path d="M2028.8 124.35Q2036.6 124.28 2044.4 124.21" stroke="#898989" stroke-width="10.1"/>
<path d="M2054.8 124.11Q2227.9 122.45 2401 120.23" stroke="#898989" stroke-width="10.1"/>
<path d="M2405.6 120.17Q2439.55 119.74 2473.5 119.28" stroke="#898989" stroke-width="10.1"/>
<path d="M2487 119.1Q2580.5 117.82 2674 116.38" stroke="#898989" stroke-width="10.1"/>
<path d="M1840 163.06Q2255.5 158.3 2671 153.95" stroke="#898989" stroke-width="9.54"/>
<path d="M1840 199.36Q2255.5 194.6 2671 190.25" stroke="#898989" stroke-width="9.54"/>
<path d="M1840 246.25Q2255.5 241.8 2671 237.75" stroke="#767676" stroke-width="8.04"/>
<path d="M1840 282.96Q2255.5 277.89 2671 274.86" stroke="#808080" stroke-width="9.16"/>
<path d="M1831 454.57Q1850 454.34 1869 454.12" stroke="#606060" stroke-width="6.17"/>
<path d="M1871 454.09Q1899.8 453.76 1928.6 453.44" stroke="#606060" stroke-width="6.17"/>
<path d="M1930.6 453.41Q1959.75 453.09 1988.9 452.78" stroke="#606060" stroke-width="6.17"/>
<path d="M1990.9 452.76Q2007 452.59 2023.1 452.42" stroke="#606060" stroke-width="6.17"/>
<path d="M2025.1 452.4Q2037.15 452.28 2049.2 452.16" stroke="#606060" stroke-width="6.17"/>
<path d="M2051.2 452.14Q2130.1 451.35 2209 450.68" stroke="#606060" stroke-width="6.17"/>
<path d="M2211 450.67Q2306.9 449.86 2402.8 449.22" stroke="#606060" stroke-width="6.17"/>
<path d="M2404.8 449.21Q2501.8 448.56 2598.8 448.1" stroke="#606060" stroke-width="6.17"/>
<path d="M2600.8 448.09Q2669.9 447.76 2739 447.52" stroke="#606060" stroke-width="6.17"/>
<path d="M1833 490.58Q1851.5 490.45 1870 490.32" stroke="#6d6d6d" stroke-width="7.67"/>
<path d="M1872 490.31Q1900.8 490.11 1929.6 489.9" stroke="#6d6d6d" stroke-width="7.67"/>
<path d="M1931.6 489.89Q1960.75 489.68 1989.9 489.48" stroke="#6d6d6d" stroke-width="7.67"/>
<path d="M1991.9 489.46Q2008 489.35 2024.1 489.23" stroke="#6d6d6d" stroke-width="7.67"/>
<path d="M2026.1 489.22Q2038.15 489.14 2050.2 489.05" stroke="#6d6d6d" stroke-width="7.67"/>
<path d="M2052.2 489.04Q2131.1 488.48 2210 487.92" stroke="#6d6d6d" stroke-width="7.67"/>
<path d="M2212 487.91Q2307.9 487.23 2403.8 486.55" stroke="#6d6d6d" stroke-width="7.67"/>
<path d="M2405.8 486.54Q2502.8 485.85 2599.8 485.17" stroke="#6d6d6d" stroke-width="7.67"/>
<path d="M2601.8 485.15Q2670.4 484.67 2739 484.18" stroke="#6d6d6d" stroke-width="7.67"/>
<path d="M1841 586.33Q1907 585.82 1973 585.32" stroke="#4d4d4d" stroke-width="4.48"/>
<path d="M1992.5 585.18Q2148.75 584.01 2305 582.97" stroke="#4d4d4d" stroke-width="4.48"/>
<path d="M2323 582.84Q2330.5 582.8 2338 582.75" stroke="#4d4d4d" stroke-width="4.48"/>
<path d="M2423 582.19Q2505 581.66 2587 581.17" stroke="#4d4d4d" stroke-width="4.48"/>
<path d="M2625.5 580.94Q2649.75 580.79 2674 580.65" stroke="#4d4d4d" stroke-width="4.48"/>
<path d="M1841 622.62Q1908.25 622.27 1975.5 621.89" stroke="#5b5b5b" stroke-width="5.98"/>
<path d="M1992.5 621.8Q2151.25 620.89 2310 619.84" stroke="#5b5b5b" stroke-width="5.98"/>
<path d="M2324 619.75Q2332.5 619.69 2341 619.64" stroke="#5b5b5b" stroke-width="5.98"/>
<path d="M2423 619.08Q2507.25 618.49 2591.5 617.86" stroke="#5b5b5b" stroke-width="5.98"/>
<path d="M2625.5 617.61Q2649.75 617.43 2674 617.24" stroke="#5b5b5b" stroke-width="5.98"/>
</g>
<g filter="url(#bcp3)" fill="none">
<polygon points="1840,124.22 1846,124.18 1846.5,124.17 1848,124.16 1849.5,124.15 1851,124.15 1852,124.23 1852.5,124.35 1854,124.71 1855.5,124.32 1857,124.1 1858,124.08 1858.5,124.08 1860,124.07 1861.5,124.06 1864,124.04 1870,123.99 1876,123.94 1878.5,123.92 1880,123.91 1881.5,123.9 1882,123.9 1883,123.9 1884.5,124.06 1886,124.37 1887.5,124.04 1888,123.93 1889,123.85 1890.5,123.83 1892,123.82 1893.5,123.81 1894,123.8 1900,123.75 1901.5,123.74 1903,123.73 1904.5,123.72 1906,123.72 1907.5,123.91 1909,124.28 1910.5,123.89 1912,123.67 1913.5,123.64 1915,123.63 1916.5,123.62 1918,123.61 1924,123.56 1930,123.51 1936,123.46 1938.5,123.44 1940,123.42 1941.5,123.41 1942,123.41 1943,123.41 1944.5,123.64 1946,124.07 1947.5,123.62 1948,123.47 1949,123.36 1950.5,123.33 1952,123.32 1953.5,123.31 1954,123.3 1960,123.25 1966,123.2 1972,123.15 1978,123.09 1982,123.08 1982.75,123.2 1983.5,123.44 1984,123.71 1984.25,123.88 1985,125.25 1985,125.25 1984.25,126.63 1984,126.81 1983.5,127.08 1982.75,127.34 1982,127.47 1978,127.53 1972,127.58 1966,127.63 1960,127.69 1954,127.74 1953.5,127.74 1952,127.75 1950.5,127.77 1949,127.77 1948,127.67 1947.5,127.54 1946,127.11 1944.5,127.56 1943,127.82 1942,127.84 1941.5,127.84 1940,127.86 1938.5,127.87 1936,127.89 1930,127.94 1924,127.99 1918,128.04 1916.5,128.05 1915,128.07 1913.5,128.08 1912,128.08 1910.5,127.88 1909,127.51 1907.5,127.91 1906,128.13 1904.5,128.15 1903,128.16 1901.5,128.18 1900,128.19 1894,128.24 1893.5,128.24 1892,128.25 1890.5,128.26 1889,128.27 1888,128.2 1887.5,128.1 1886,127.8 1884.5,128.13 1883,128.31 1882,128.33 1881.5,128.34 1880,128.35 1878.5,128.36 1876,128.38 1870,128.43 1864,128.47 1861.5,128.49 1860,128.5 1858.5,128.51 1858,128.52 1857,128.51 1855.5,128.32 1854,127.95 1852.5,128.34 1852,128.46 1851,128.56 1849.5,128.58 1848,128.59 1846.5,128.61 1846,128.61 1840,128.65" fill="#fff" stroke="none"/>
<polygon points="1985.9,125.24 1986.65,123.86 1987.4,123.41 1988.15,123.15 1988.9,123.02 1991.9,122.97 1997.9,122.92 2003.9,122.86 2005.8,122.87 2006.55,122.99 2007.3,123.23 2008.05,123.67 2008.8,125.04 2008.8,125.04 2008.05,126.41 2007.3,126.87 2006.55,127.13 2005.8,127.26 2003.9,127.3 1997.9,127.35 1991.9,127.41 1988.9,127.41 1988.15,127.29 1987.4,127.05 1986.65,126.61 1985.9,125.24" fill="#fff" stroke="none"/>
<polygon points="2015.6,124.97 2016.35,123.6 2017.1,123.14 2017.85,122.88 2018.6,122.75 2021.6,122.7 2024,122.7 2024.75,122.82 2025.5,123.06 2026.25,123.5 2027,124.87 2027,124.87 2026.25,126.25 2025.5,126.7 2024.75,126.96 2024,127.09 2021.6,127.14 2018.6,127.14 2017.85,127.02 2017.1,126.78 2016.35,126.34 2015.6,124.97" fill="#fff" stroke="none"/>
<polygon points="2027.8,124.86 2028.55,123.48 2029.3,123.03 2030.05,122.77 2030.8,122.64 2033.8,122.59 2039.8,122.53 2042.4,122.53 2043.15,122.65 2043.9,122.89 2044.65,123.33 2045.4,124.7 2045.4,124.7 2044.65,126.07 2043.9,126.53 2043.15,126.79 2042.4,126.92 2039.8,126.97 2033.8,127.02 2030.8,127.03 2030.05,126.91 2029.3,126.67 2028.55,126.23 2027.8,124.86" fill="#fff" stroke="none"/>
<polygon points="2053.8,124.62 2054.55,123.24 2055.3,122.78 2056.05,122.52 2056.8,122.39 2059.8,122.34 2065.8,122.28 2071.8,122.23 2077.8,122.17 2083.8,122.11 2089.8,122.05 2095.8,121.99 2101.8,121.93 2107.8,121.87 2113.8,121.81 2119.8,121.75 2125.8,121.69 2131.8,121.63 2137.8,121.56 2143.8,121.5 2149.8,121.44 2155.8,121.38 2161.8,121.31 2167.8,121.25 2173.8,121.19 2179.8,121.12 2185.8,121.06 2191.8,120.99 2197.8,120.93 2203.8,120.86 2209.8,120.8 2215.8,120.73 2221.8,120.66 2227.8,120.6 2233.8,120.53 2239.8,120.46 2245.8,120.39 2251.8,120.33 2257.8,120.26 2263.8,120.19 2267.5,120.14 2269,120.13 2269.8,120.12 2270.5,120.11 2272,120.11 2273.5,120.44 2275,121.06 2275.8,120.8 2276.5,120.41 2278,120.04 2279.5,120.01 2281,119.99 2281.8,119.98 2282.5,119.97 2287.8,119.91 2293.8,119.84 2299.8,119.77 2305.8,119.69 2311.8,119.62 2317.8,119.55 2323.8,119.48 2329.8,119.41 2335.8,119.33 2341.8,119.26 2347.8,119.19 2353.8,119.11 2359.8,119.04 2365.8,118.96 2371.8,118.89 2377.8,118.81 2383.8,118.74 2389.8,118.66 2395.8,118.58 2399,118.56 2399.75,118.68 2400.5,118.92 2401.25,119.36 2401.8,119.98 2402,120.72 2402,120.72 2401.8,121.46 2401.25,122.1 2400.5,122.56 2399.75,122.82 2399,122.95 2395.8,123.02 2389.8,123.09 2383.8,123.17 2377.8,123.25 2371.8,123.32 2365.8,123.4 2359.8,123.47 2353.8,123.55 2347.8,123.62 2341.8,123.69 2335.8,123.77 2329.8,123.84 2323.8,123.91 2317.8,123.99 2311.8,124.06 2305.8,124.13 2299.8,124.2 2293.8,124.27 2287.8,124.34 2282.5,124.4 2281.8,124.41 2281,124.42 2279.5,124.44 2278,124.44 2276.5,124.11 2275.8,123.73 2275,123.49 2273.5,124.14 2272,124.51 2270.5,124.54 2269.8,124.55 2269,124.56 2267.5,124.58 2263.8,124.62 2257.8,124.69 2251.8,124.76 2245.8,124.83 2239.8,124.9 2233.8,124.96 2227.8,125.03 2221.8,125.1 2215.8,125.16 2209.8,125.23 2203.8,125.3 2197.8,125.36 2191.8,125.43 2185.8,125.49 2179.8,125.56 2173.8,125.62 2167.8,125.68 2161.8,125.75 2155.8,125.81 2149.8,125.87 2143.8,125.94 2137.8,126 2131.8,126.06 2125.8,126.12 2119.8,126.18 2113.8,126.24 2107.8,126.3 2101.8,126.36 2095.8,126.42 2089.8,126.48 2083.8,126.54 2077.8,126.6 2071.8,126.66 2065.8,126.72 2059.8,126.78 2056.8,126.78 2056.05,126.67 2055.3,126.42 2054.55,125.98 2053.8,124.62" fill="#fff" stroke="none"/>
<polygon points="2404.6,120.69 2405.35,119.31 2406.1,118.85 2406.85,118.59 2407.6,118.45 2410.6,118.39 2416.6,118.32 2422.6,118.24 2424.5,118.21 2426,118.19 2427.5,118.17 2428.6,118.16 2429,118.17 2430.5,118.5 2432,119.11 2433.5,118.46 2434.6,118.13 2435,118.09 2436.5,118.06 2438,118.04 2439.5,118.02 2440.6,118 2444.5,117.95 2446,117.93 2446.6,117.92 2447.5,117.91 2449,117.91 2450.5,118.2 2452,118.75 2452.6,118.61 2453.5,118.16 2455,117.83 2456.5,117.79 2458,117.77 2458.6,117.76 2459.5,117.75 2464.6,117.68 2470.6,117.6 2471.5,117.61 2472.25,117.72 2473,117.97 2473.75,118.4 2474.5,119.76 2474.5,119.76 2473.75,121.15 2473,121.6 2472.25,121.87 2471.5,122 2470.6,122.03 2464.6,122.12 2459.5,122.18 2458.6,122.2 2458,122.2 2456.5,122.22 2455,122.23 2453.5,121.93 2452.6,121.51 2452,121.38 2450.5,121.97 2449,122.31 2447.5,122.34 2446.6,122.36 2446,122.36 2444.5,122.38 2440.6,122.44 2439.5,122.45 2438,122.47 2436.5,122.49 2435,122.49 2434.6,122.46 2433.5,122.16 2432,121.55 2430.5,122.2 2429,122.57 2428.6,122.59 2427.5,122.61 2426,122.63 2424.5,122.65 2422.6,122.67 2416.6,122.75 2410.6,122.83 2407.6,122.84 2406.85,122.73 2406.1,122.49 2405.35,122.05 2404.6,120.69" fill="#fff" stroke="none"/>
<polygon points="2486,119.61 2486.75,118.23 2487.5,117.77 2488.25,117.51 2489,117.37 2492,117.31 2498,117.23 2504,117.14 2510,117.06 2516,116.98 2522,116.89 2528,116.81 2534,116.73 2540,116.64 2546,116.56 2552,116.47 2558,116.38 2564,116.3 2570,116.21 2576,116.13 2582,116.04 2588,115.95 2594,115.86 2600,115.78 2606,115.69 2612,115.6 2618,115.51 2624,115.42 2630,115.33 2636,115.24 2642,115.15 2648,115.06 2654,114.97 2660,114.87 2666,114.78 2672,114.69 2675,114.64 2675,119.08 2672,119.12 2666,119.22 2660,119.31 2654,119.4 2648,119.49 2642,119.58 2636,119.67 2630,119.76 2624,119.85 2618,119.94 2612,120.03 2606,120.12 2600,120.21 2594,120.3 2588,120.39 2582,120.47 2576,120.56 2570,120.65 2564,120.73 2558,120.82 2552,120.91 2546,120.99 2540,121.08 2534,121.16 2528,121.24 2522,121.33 2516,121.41 2510,121.5 2504,121.58 2498,121.66 2492,121.74 2489,121.76 2488.25,121.65 2487.5,121.41 2486.75,120.97 2486,119.61" fill="#fff" stroke="none"/>
<ellipse cx="2011.5" cy="125.01" rx="2" ry="0.92" fill="#e4e4e4" stroke="none"/>
<ellipse cx="2048" cy="124.67" rx="2.25" ry="1.2" fill="#f2f2f2" stroke="none"/>
<ellipse cx="2051.8" cy="124.64" rx="1.25" ry="0.75" fill="#c6c6c6" stroke="none"/>
<ellipse cx="2478" cy="119.72" rx="1.25" ry="0.68" fill="#b4b4b4" stroke="none"/>
<ellipse cx="2482" cy="119.66" rx="1.25" ry="0.68" fill="#b4b4b4" stroke="none"/>
<polygon points="1839,161.34 1845,161.27 1851,161.21 1857,161.14 1863,161.07 1869,161.01 1875,160.94 1881,160.87 1887,160.81 1893,160.74 1899,160.67 1905,160.61 1911,160.54 1917,160.47 1923,160.41 1929,160.34 1932.9,160.3 1934.4,160.28 1935,160.28 1935.9,160.27 1937.4,160.35 1938.9,160.8 1940.4,161.22 1941,161.12 1941.9,160.77 1943.4,160.29 1944.9,160.17 1946.4,160.15 1947,160.14 1947.9,160.13 1953,160.08 1959,160.01 1965,159.95 1971,159.88 1977,159.81 1983,159.75 1989,159.68 1995,159.62 2001,159.55 2007,159.49 2013,159.42 2019,159.36 2025,159.29 2031,159.23 2037,159.16 2043,159.1 2049,159.03 2055,158.97 2061,158.9 2067,158.84 2073,158.77 2079,158.71 2085,158.64 2091,158.58 2097,158.51 2103,158.45 2109,158.38 2115,158.32 2121,158.25 2127,158.19 2133,158.12 2139,158.06 2145,158 2151,157.93 2157,157.87 2163,157.8 2169,157.74 2175,157.68 2181,157.61 2187,157.55 2193,157.48 2199,157.42 2205,157.36 2211,157.29 2217,157.23 2223,157.17 2229,157.1 2235,157.04 2241,156.98 2247,156.91 2253,156.85 2259,156.79 2265,156.72 2271,156.66 2277,156.6 2283,156.53 2289,156.47 2295,156.41 2301,156.34 2307,156.28 2313,156.22 2319,156.16 2325,156.09 2331,156.03 2337,155.97 2343,155.91 2349,155.84 2355,155.78 2361,155.72 2367,155.66 2373,155.6 2379,155.53 2385,155.47 2391,155.41 2397,155.35 2403,155.28 2409,155.22 2415,155.16 2421,155.1 2427,155.04 2433,154.98 2439,154.91 2445,154.85 2451,154.79 2457,154.73 2463,154.67 2469,154.61 2475,154.55 2481,154.48 2487,154.42 2493,154.36 2499,154.3 2505,154.24 2511,154.18 2517,154.12 2523,154.06 2529,154 2535,153.94 2541,153.88 2547,153.81 2553,153.75 2559,153.69 2565,153.63 2571,153.57 2577,153.51 2583,153.45 2589,153.39 2595,153.33 2601,153.27 2607,153.21 2613,153.15 2619,153.09 2625,153.03 2631,152.97 2637,152.91 2643,152.85 2649,152.79 2655,152.73 2661,152.67 2667,152.61 2672,152.56 2672,156.31 2667,156.37 2661,156.43 2655,156.5 2649,156.56 2643,156.63 2637,156.7 2631,156.76 2625,156.83 2619,156.9 2613,156.96 2607,157.03 2601,157.1 2595,157.16 2589,157.23 2583,157.3 2577,157.36 2571,157.43 2565,157.5 2559,157.56 2553,157.63 2547,157.7 2541,157.76 2535,157.83 2529,157.9 2523,157.96 2517,158.03 2511,158.1 2505,158.16 2499,158.23 2493,158.3 2487,158.36 2481,158.43 2475,158.5 2469,158.57 2463,158.63 2457,158.7 2451,158.77 2445,158.84 2439,158.9 2433,158.97 2427,159.04 2421,159.1 2415,159.17 2409,159.24 2403,159.31 2397,159.37 2391,159.44 2385,159.51 2379,159.58 2373,159.65 2367,159.71 2361,159.78 2355,159.85 2349,159.92 2343,159.98 2337,160.05 2331,160.12 2325,160.19 2319,160.26 2313,160.32 2307,160.39 2301,160.46 2295,160.53 2289,160.6 2283,160.66 2277,160.73 2271,160.8 2265,160.87 2259,160.94 2253,161.01 2247,161.07 2241,161.14 2235,161.21 2229,161.28 2223,161.35 2217,161.42 2211,161.48 2205,161.55 2199,161.62 2193,161.69 2187,161.76 2181,161.83 2175,161.9 2169,161.97 2163,162.03 2157,162.1 2151,162.17 2145,162.24 2139,162.31 2133,162.38 2127,162.45 2121,162.52 2115,162.59 2109,162.66 2103,162.72 2097,162.79 2091,162.86 2085,162.93 2079,163 2073,163.07 2067,163.14 2061,163.21 2055,163.28 2049,163.35 2043,163.42 2037,163.49 2031,163.56 2025,163.63 2019,163.7 2013,163.77 2007,163.83 2001,163.9 1995,163.97 1989,164.04 1983,164.11 1977,164.18 1971,164.25 1965,164.32 1959,164.39 1953,164.46 1947.9,164.52 1947,164.53 1946.4,164.54 1944.9,164.55 1943.4,164.47 1941.9,164.02 1941,163.69 1940.4,163.61 1938.9,164.06 1937.4,164.54 1935.9,164.66 1935,164.67 1934.4,164.68 1932.9,164.7 1929,164.74 1923,164.81 1917,164.88 1911,164.95 1905,165.02 1899,165.09 1893,165.16 1887,165.23 1881,165.3 1875,165.37 1869,165.45 1863,165.52 1857,165.59 1851,165.66 1845,165.73 1839,165.8" fill="#fff" stroke="none"/>
<polygon points="1839,197.64 1845,197.57 1851,197.51 1857,197.44 1863,197.37 1869,197.31 1875,197.24 1881,197.17 1887,197.11 1893,197.04 1899,196.97 1905,196.91 1911,196.84 1917,196.77 1923,196.71 1929,196.64 1932.9,196.6 1934.4,196.58 1935,196.58 1935.9,196.57 1937.4,196.65 1938.9,197.1 1940.4,197.52 1941,197.42 1941.9,197.07 1943.4,196.59 1944.9,196.47 1946.4,196.45 1947,196.44 1947.9,196.43 1953,196.38 1959,196.31 1965,196.25 1971,196.18 1977,196.11 1983,196.05 1989,195.98 1995,195.92 2001,195.85 2007,195.79 2013,195.72 2019,195.66 2025,195.59 2031,195.53 2037,195.46 2043,195.4 2049,195.33 2055,195.27 2061,195.2 2067,195.14 2073,195.07 2079,195.01 2085,194.94 2091,194.88 2097,194.81 2103,194.75 2109,194.68 2115,194.62 2121,194.55 2127,194.49 2133,194.42 2139,194.36 2145,194.3 2151,194.23 2157,194.17 2163,194.1 2169,194.04 2175,193.98 2181,193.91 2187,193.85 2193,193.78 2199,193.72 2205,193.66 2211,193.59 2217,193.53 2223,193.47 2229,193.4 2235,193.34 2241,193.28 2247,193.21 2253,193.15 2259,193.09 2265,193.02 2271,192.96 2277,192.9 2283,192.83 2289,192.77 2295,192.71 2301,192.64 2307,192.58 2313,192.52 2319,192.46 2325,192.39 2331,192.33 2337,192.27 2343,192.21 2349,192.14 2355,192.08 2361,192.02 2367,191.96 2373,191.9 2379,191.83 2385,191.77 2391,191.71 2397,191.65 2403,191.58 2409,191.52 2415,191.46 2421,191.4 2427,191.34 2433,191.28 2439,191.21 2445,191.15 2451,191.09 2457,191.03 2463,190.97 2469,190.91 2475,190.85 2481,190.78 2487,190.72 2493,190.66 2499,190.6 2505,190.54 2511,190.48 2517,190.42 2523,190.36 2529,190.3 2535,190.24 2541,190.18 2547,190.11 2553,190.05 2559,189.99 2565,189.93 2571,189.87 2577,189.81 2583,189.75 2589,189.69 2595,189.63 2601,189.57 2607,189.51 2613,189.45 2619,189.39 2625,189.33 2631,189.27 2637,189.21 2643,189.15 2649,189.09 2655,189.03 2661,188.97 2667,188.91 2672,188.86 2672,192.61 2667,192.67 2661,192.73 2655,192.8 2649,192.86 2643,192.93 2637,193 2631,193.06 2625,193.13 2619,193.2 2613,193.26 2607,193.33 2601,193.4 2595,193.46 2589,193.53 2583,193.6 2577,193.66 2571,193.73 2565,193.8 2559,193.86 2553,193.93 2547,194 2541,194.06 2535,194.13 2529,194.2 2523,194.26 2517,194.33 2511,194.4 2505,194.46 2499,194.53 2493,194.6 2487,194.66 2481,194.73 2475,194.8 2469,194.87 2463,194.93 2457,195 2451,195.07 2445,195.14 2439,195.2 2433,195.27 2427,195.34 2421,195.4 2415,195.47 2409,195.54 2403,195.61 2397,195.67 2391,195.74 2385,195.81 2379,195.88 2373,195.95 2367,196.01 2361,196.08 2355,196.15 2349,196.22 2343,196.28 2337,196.35 2331,196.42 2325,196.49 2319,196.56 2313,196.62 2307,196.69 2301,196.76 2295,196.83 2289,196.9 2283,196.96 2277,197.03 2271,197.1 2265,197.17 2259,197.24 2253,197.31 2247,197.37 2241,197.44 2235,197.51 2229,197.58 2223,197.65 2217,197.72 2211,197.78 2205,197.85 2199,197.92 2193,197.99 2187,198.06 2181,198.13 2175,198.2 2169,198.27 2163,198.33 2157,198.4 2151,198.47 2145,198.54 2139,198.61 2133,198.68 2127,198.75 2121,198.82 2115,198.89 2109,198.96 2103,199.02 2097,199.09 2091,199.16 2085,199.23 2079,199.3 2073,199.37 2067,199.44 2061,199.51 2055,199.58 2049,199.65 2043,199.72 2037,199.79 2031,199.86 2025,199.93 2019,200 2013,200.07 2007,200.13 2001,200.2 1995,200.27 1989,200.34 1983,200.41 1977,200.48 1971,200.55 1965,200.62 1959,200.69 1953,200.76 1947.9,200.82 1947,200.83 1946.4,200.84 1944.9,200.85 1943.4,200.77 1941.9,200.32 1941,199.99 1940.4,199.91 1938.9,200.36 1937.4,200.84 1935.9,200.96 1935,200.97 1934.4,200.98 1932.9,201 1929,201.04 1923,201.11 1917,201.18 1911,201.25 1905,201.32 1899,201.39 1893,201.46 1887,201.53 1881,201.6 1875,201.67 1869,201.75 1863,201.82 1857,201.89 1851,201.96 1845,202.03 1839,202.1" fill="#fff" stroke="none"/>
<polygon points="1839,244.81 1845,244.74 1851,244.68 1857,244.62 1863,244.55 1868.4,244.49 1869,244.49 1869.9,244.48 1871.4,244.5 1872.9,244.66 1874.4,245 1875,245.13 1875.9,245.21 1877.4,244.97 1878.9,244.59 1880.4,244.41 1881,244.38 1881.9,244.35 1883.4,244.33 1887,244.3 1893,244.23 1899,244.17 1905,244.1 1911,244.04 1913,244.02 1914.5,244.01 1916,244.03 1917,244.11 1917.5,244.18 1919,244.53 1920.5,244.74 1922,244.5 1923,244.23 1923.5,244.12 1925,243.93 1926.5,243.88 1928,243.86 1929,243.85 1935,243.78 1941,243.72 1947,243.66 1953,243.59 1957.69,243.54 1959,243.53 1959.19,243.53 1960.69,243.55 1962.19,243.71 1963.69,244.05 1965,244.26 1965.19,244.26 1966.69,244.02 1968.19,243.64 1969.69,243.46 1971,243.41 1971.19,243.41 1972.69,243.39 1977,243.34 1983,243.28 1989,243.21 1995,243.15 2001,243.09 2002.47,243.07 2003.97,243.06 2005.47,243.08 2006.97,243.24 2007,243.24 2008.47,243.58 2009.97,243.79 2011.47,243.55 2012.97,243.17 2013,243.17 2014.47,242.99 2015.97,242.93 2017.47,242.91 2019,242.9 2025,242.83 2031,242.77 2037,242.71 2043,242.65 2047.34,242.6 2048.84,242.59 2049,242.59 2050.34,242.61 2051.84,242.77 2053.34,243.11 2054.84,243.32 2055,243.32 2056.34,243.08 2057.84,242.7 2059.34,242.51 2060.84,242.46 2061,242.46 2062.34,242.44 2067,242.39 2073,242.33 2079,242.27 2085,242.21 2091,242.14 2092.29,242.13 2093.79,242.12 2095.29,242.14 2096.79,242.29 2097,242.33 2098.29,242.64 2099.79,242.85 2101.29,242.61 2102.79,242.23 2103,242.19 2104.29,242.05 2105.79,241.99 2107.29,241.97 2109,241.96 2115,241.89 2121,241.83 2127,241.77 2133,241.71 2137.34,241.66 2138.84,241.65 2139,241.65 2140.34,241.67 2141.84,241.83 2143.34,242.17 2144.84,242.38 2145,242.38 2146.34,242.14 2147.84,241.76 2149.34,241.58 2150.84,241.53 2151,241.52 2152.34,241.51 2157,241.46 2163,241.4 2169,241.33 2175,241.27 2181,241.21 2182.48,241.2 2183.98,241.18 2185.48,241.2 2186.98,241.36 2187,241.36 2188.48,241.71 2189.98,241.92 2191.48,241.68 2192.98,241.3 2193,241.29 2194.48,241.11 2195.98,241.06 2197.48,241.04 2199,241.02 2205,240.96 2211,240.9 2217,240.84 2223,240.78 2227.71,240.73 2229,240.72 2229.21,240.72 2230.71,240.74 2232.21,240.9 2233.71,241.24 2235,241.45 2235.21,241.45 2236.71,241.21 2238.21,240.83 2239.71,240.65 2241,240.6 2241.21,240.6 2242.71,240.58 2247,240.53 2253,240.47 2259,240.41 2265,240.35 2271,240.29 2273.03,240.27 2274.53,240.25 2276.03,240.28 2277,240.35 2277.53,240.43 2279.03,240.78 2280.53,240.99 2282.03,240.75 2283,240.49 2283.53,240.37 2285.03,240.18 2286.53,240.13 2288.03,240.11 2289,240.1 2295,240.04 2301,239.98 2307,239.92 2313,239.86 2318.44,239.8 2319,239.8 2319.94,239.79 2321.44,239.81 2322.94,239.97 2324.44,240.32 2325,240.44 2325.94,240.53 2327.44,240.28 2328.94,239.91 2330.44,239.72 2331,239.69 2331.94,239.67 2333.44,239.65 2337,239.61 2343,239.55 2349,239.49 2355,239.43 2361,239.37 2363.94,239.34 2365.44,239.33 2366.94,239.35 2367,239.35 2368.44,239.51 2369.94,239.86 2371.44,240.07 2372.94,239.82 2373,239.81 2374.44,239.45 2375.94,239.26 2377.44,239.21 2378.94,239.19 2379,239.19 2385,239.13 2391,239.07 2397,239.01 2403,238.95 2409,238.89 2409.53,238.88 2411.03,238.87 2412.53,238.89 2414.03,239.05 2415,239.26 2415.53,239.4 2417.03,239.61 2418.53,239.37 2420.03,238.99 2421,238.85 2421.53,238.8 2423.03,238.75 2424.53,238.73 2427,238.71 2433,238.65 2439,238.59 2445,238.53 2451,238.47 2455.21,238.43 2456.71,238.41 2457,238.41 2458.21,238.44 2459.71,238.59 2461.21,238.94 2462.71,239.15 2463,239.14 2464.21,238.91 2465.71,238.53 2467.21,238.35 2468.71,238.29 2469,238.29 2470.21,238.28 2475,238.23 2481,238.17 2487,238.11 2493,238.05 2499,237.99 2500.98,237.97 2502.48,237.96 2503.98,237.98 2505,238.06 2505.48,238.14 2506.98,238.48 2508.48,238.69 2509.98,238.45 2511,238.18 2511.48,238.08 2512.98,237.89 2514.48,237.84 2515.98,237.82 2517,237.81 2523,237.75 2529,237.69 2535,237.63 2541,237.57 2546.85,237.51 2547,237.51 2548.35,237.5 2549.85,237.52 2551.35,237.68 2552.85,238.03 2553,238.06 2554.35,238.24 2555.85,238 2557.35,237.62 2558.85,237.44 2559,237.43 2560.35,237.38 2561.85,237.37 2565,237.34 2571,237.28 2577,237.22 2583,237.16 2589,237.1 2592.8,237.06 2594.3,237.05 2595,237.05 2595.8,237.07 2597.3,237.23 2598.8,237.57 2600.3,237.79 2601,237.72 2601.8,237.55 2603.3,237.17 2604.8,236.98 2606.3,236.93 2607,236.92 2607.8,236.91 2613,236.86 2619,236.8 2625,236.75 2631,236.69 2637,236.63 2638.85,236.61 2640.35,236.6 2641.85,236.62 2643,236.72 2643.35,236.78 2644.85,237.12 2646.35,237.34 2647.85,237.1 2649,236.79 2649.35,236.72 2650.85,236.53 2652.35,236.48 2653.85,236.46 2655,236.45 2661,236.39 2667,236.34 2672,236.29 2672,240.2 2667,240.25 2661,240.3 2655,240.36 2653.85,240.37 2652.35,240.38 2650.85,240.36 2649.35,240.21 2649,240.14 2647.85,239.86 2646.35,239.65 2644.85,239.89 2643.35,240.27 2643,240.33 2641.85,240.45 2640.35,240.5 2638.85,240.52 2637,240.54 2631,240.6 2625,240.66 2619,240.71 2613,240.77 2607.8,240.82 2607,240.83 2606.3,240.84 2604.8,240.81 2603.3,240.66 2601.8,240.31 2601,240.15 2600.3,240.1 2598.8,240.34 2597.3,240.72 2595.8,240.9 2595,240.94 2594.3,240.95 2592.8,240.97 2589,241.01 2583,241.07 2577,241.13 2571,241.19 2565,241.25 2561.85,241.28 2560.35,241.29 2559,241.27 2558.85,241.27 2557.35,241.11 2555.85,240.76 2554.35,240.55 2553,240.75 2552.85,240.79 2551.35,241.17 2549.85,241.35 2548.35,241.41 2547,241.42 2546.85,241.42 2541,241.48 2535,241.54 2529,241.6 2523,241.66 2517,241.72 2515.98,241.73 2514.48,241.74 2512.98,241.72 2511.48,241.56 2511,241.47 2509.98,241.22 2508.48,241.01 2506.98,241.25 2505.48,241.62 2505,241.71 2503.98,241.81 2502.48,241.86 2500.98,241.88 2499,241.9 2493,241.96 2487,242.02 2481,242.08 2475,242.14 2470.21,242.19 2469,242.2 2468.71,242.2 2467.21,242.18 2465.71,242.02 2464.21,241.67 2463,241.47 2462.71,241.46 2461.21,241.7 2459.71,242.08 2458.21,242.27 2457,242.31 2456.71,242.32 2455.21,242.34 2451,242.38 2445,242.44 2439,242.5 2433,242.56 2427,242.62 2424.53,242.64 2423.03,242.65 2421.53,242.63 2421,242.6 2420.03,242.48 2418.53,242.13 2417.03,241.92 2415.53,242.16 2415,242.3 2414.03,242.54 2412.53,242.72 2411.03,242.77 2409.53,242.79 2409,242.8 2403,242.86 2397,242.92 2391,242.98 2385,243.04 2379,243.1 2378.94,243.1 2377.44,243.11 2375.94,243.09 2374.44,242.94 2373,242.6 2372.94,242.59 2371.44,242.38 2369.94,242.62 2368.44,243 2367,243.18 2366.94,243.18 2365.44,243.23 2363.94,243.25 2361,243.28 2355,243.34 2349,243.4 2343,243.46 2337,243.53 2333.44,243.56 2331.94,243.57 2331,243.57 2330.44,243.55 2328.94,243.4 2327.44,243.05 2325.94,242.84 2325,242.94 2324.44,243.08 2322.94,243.46 2321.44,243.64 2319.94,243.69 2319,243.71 2318.44,243.71 2313,243.77 2307,243.83 2301,243.89 2295,243.95 2289,244.01 2288.03,244.02 2286.53,244.03 2285.03,244.01 2283.53,243.86 2283,243.75 2282.03,243.51 2280.53,243.3 2279.03,243.54 2277.53,243.92 2277,244.01 2276.03,244.11 2274.53,244.16 2273.03,244.18 2271,244.2 2265,244.26 2259,244.32 2253,244.38 2247,244.44 2242.71,244.49 2241.21,244.5 2241,244.5 2239.71,244.48 2238.21,244.32 2236.71,243.97 2235.21,243.76 2235,243.77 2233.71,244 2232.21,244.38 2230.71,244.57 2229.21,244.62 2229,244.62 2227.71,244.64 2223,244.69 2217,244.75 2211,244.81 2205,244.87 2199,244.94 2197.48,244.95 2195.98,244.96 2194.48,244.94 2193,244.79 2192.98,244.79 2191.48,244.44 2189.98,244.23 2188.48,244.47 2187,244.84 2186.98,244.85 2185.48,245.03 2183.98,245.09 2182.48,245.11 2181,245.12 2175,245.18 2169,245.24 2163,245.31 2157,245.37 2152.34,245.42 2151,245.43 2150.84,245.43 2149.34,245.41 2147.84,245.25 2146.34,244.91 2145,244.7 2144.84,244.7 2143.34,244.94 2141.84,245.31 2140.34,245.5 2139,245.55 2138.84,245.55 2137.34,245.57 2133,245.62 2127,245.68 2121,245.74 2115,245.8 2109,245.87 2107.29,245.88 2105.79,245.9 2104.29,245.88 2103,245.75 2102.79,245.72 2101.29,245.37 2099.79,245.16 2098.29,245.41 2097,245.74 2096.79,245.78 2095.29,245.97 2093.79,246.02 2092.29,246.04 2091,246.05 2085,246.12 2079,246.18 2073,246.24 2067,246.3 2062.34,246.35 2061,246.36 2060.84,246.37 2059.34,246.35 2057.84,246.19 2056.34,245.84 2055,245.63 2054.84,245.63 2053.34,245.87 2051.84,246.25 2050.34,246.44 2049,246.49 2048.84,246.49 2047.34,246.51 2043,246.56 2037,246.62 2031,246.68 2025,246.75 2019,246.81 2017.47,246.82 2015.97,246.84 2014.47,246.82 2013,246.67 2012.97,246.66 2011.47,246.31 2009.97,246.1 2008.47,246.34 2007,246.72 2006.97,246.72 2005.47,246.91 2003.97,246.96 2002.47,246.98 2001,247 1995,247.06 1989,247.12 1983,247.19 1977,247.25 1972.69,247.3 1971.19,247.31 1971,247.31 1969.69,247.29 1968.19,247.13 1966.69,246.79 1965.19,246.58 1965,246.58 1963.69,246.82 1962.19,247.2 1960.69,247.38 1959.19,247.44 1959,247.44 1957.69,247.45 1953,247.5 1947,247.57 1941,247.63 1935,247.7 1929,247.76 1928,247.77 1926.5,247.78 1925,247.76 1923.5,247.61 1923,247.51 1922,247.26 1920.5,247.05 1919,247.29 1917.5,247.67 1917,247.76 1916,247.86 1914.5,247.91 1913,247.93 1911,247.95 1905,248.01 1899,248.08 1893,248.14 1887,248.21 1883.4,248.24 1881.9,248.26 1881,248.25 1880.4,248.24 1878.9,248.08 1877.4,247.74 1875.9,247.53 1875,247.62 1874.4,247.77 1872.9,248.15 1871.4,248.33 1869.9,248.38 1869,248.4 1868.4,248.4 1863,248.46 1857,248.53 1851,248.59 1845,248.66 1839,248.72" fill="#fff" stroke="none"/>
<polygon points="1839,281.35 1845,281.28 1851,281.21 1857,281.13 1863,281.06 1868.4,281 1869,280.99 1869.9,280.98 1871.4,281 1872.9,281.15 1874.4,281.5 1875,281.63 1875.9,281.71 1877.4,281.46 1878.9,281.08 1880.4,280.89 1881,280.86 1881.9,280.84 1883.4,280.82 1887,280.77 1893,280.7 1899,280.63 1905,280.56 1911,280.49 1913,280.46 1914.5,280.45 1916,280.47 1917,280.55 1917.5,280.62 1919,280.97 1920.5,281.18 1922,280.93 1923,280.66 1923.5,280.55 1925,280.36 1926.5,280.31 1928,280.29 1929,280.28 1935,280.21 1941,280.14 1947,280.07 1953,280 1957.69,279.94 1959,279.93 1959.19,279.93 1960.69,279.95 1962.19,280.1 1963.69,280.45 1965,280.66 1965.19,280.66 1966.69,280.41 1968.19,280.03 1969.69,279.85 1971,279.8 1971.19,279.79 1972.69,279.77 1977,279.72 1983,279.65 1989,279.59 1995,279.52 2001,279.45 2002.47,279.44 2003.97,279.42 2005.47,279.44 2006.97,279.6 2007,279.6 2008.47,279.94 2009.97,280.15 2011.47,279.91 2012.97,279.53 2013,279.52 2014.47,279.34 2015.97,279.29 2017.47,279.27 2019,279.25 2025,279.18 2031,279.12 2037,279.05 2043,278.98 2047.34,278.94 2048.84,278.92 2049,278.92 2050.34,278.94 2051.84,279.1 2053.34,279.44 2054.84,279.65 2055,279.65 2056.34,279.41 2057.84,279.03 2059.34,278.84 2060.84,278.79 2061,278.79 2062.34,278.77 2067,278.72 2073,278.66 2079,278.59 2085,278.53 2091,278.46 2092.29,278.45 2093.79,278.44 2095.29,278.46 2096.79,278.61 2097,278.65 2098.29,278.96 2099.79,279.17 2101.29,278.93 2102.79,278.55 2103,278.51 2104.29,278.36 2105.79,278.31 2107.29,278.29 2109,278.27 2115,278.21 2121,278.14 2127,278.08 2133,278.02 2137.34,277.97 2138.84,277.96 2139,277.96 2140.34,277.98 2141.84,278.14 2143.34,278.48 2144.84,278.69 2145,278.69 2146.34,278.45 2147.84,278.07 2149.34,277.89 2150.84,277.84 2151,277.83 2152.34,277.82 2157,277.77 2163,277.71 2169,277.64 2175,277.58 2181,277.52 2182.48,277.51 2183.98,277.5 2185.48,277.52 2186.98,277.67 2187,277.68 2188.48,278.02 2189.98,278.23 2191.48,277.99 2192.98,277.61 2193,277.61 2194.48,277.42 2195.98,277.37 2197.48,277.35 2199,277.34 2205,277.28 2211,277.22 2217,277.16 2223,277.1 2227.71,277.05 2229,277.04 2229.21,277.04 2230.71,277.06 2232.21,277.22 2233.71,277.57 2235,277.78 2235.21,277.78 2236.71,277.54 2238.21,277.16 2239.71,276.97 2241,276.93 2241.21,276.92 2242.71,276.9 2247,276.86 2253,276.8 2259,276.75 2265,276.69 2271,276.63 2273.03,276.61 2274.53,276.6 2276.03,276.62 2277,276.7 2277.53,276.78 2279.03,277.13 2280.53,277.34 2282.03,277.1 2283,276.84 2283.53,276.72 2285.03,276.53 2286.53,276.48 2288.03,276.47 2289,276.46 2295,276.4 2301,276.34 2307,276.29 2313,276.23 2318.44,276.18 2319,276.17 2319.94,276.17 2321.44,276.19 2322.94,276.35 2324.44,276.7 2325,276.82 2325.94,276.91 2327.44,276.67 2328.94,276.29 2330.44,276.11 2331,276.08 2331.94,276.06 2333.44,276.04 2337,276 2343,275.95 2349,275.89 2355,275.84 2361,275.78 2363.94,275.76 2365.44,275.75 2366.94,275.77 2367,275.77 2368.44,275.93 2369.94,276.28 2371.44,276.49 2372.94,276.25 2373,276.23 2374.44,275.87 2375.94,275.69 2377.44,275.64 2378.94,275.62 2379,275.62 2385,275.57 2391,275.51 2397,275.46 2403,275.41 2409,275.35 2409.53,275.35 2411.03,275.34 2412.53,275.36 2414.03,275.52 2415,275.74 2415.53,275.87 2417.03,276.08 2418.53,275.84 2420.03,275.47 2421,275.33 2421.53,275.28 2423.03,275.23 2424.53,275.22 2427,275.2 2433,275.14 2439,275.09 2445,275.04 2451,274.99 2455.21,274.95 2456.71,274.94 2457,274.94 2458.21,274.97 2459.71,275.12 2461.21,275.47 2462.71,275.69 2463,275.68 2464.21,275.45 2465.71,275.07 2467.21,274.89 2468.71,274.84 2469,274.84 2470.21,274.82 2475,274.78 2481,274.73 2487,274.68 2493,274.63 2499,274.58 2500.98,274.57 2502.48,274.56 2503.98,274.58 2505,274.67 2505.48,274.74 2506.98,275.09 2508.48,275.3 2509.98,275.07 2511,274.8 2511.48,274.69 2512.98,274.51 2514.48,274.46 2515.98,274.44 2517,274.43 2523,274.39 2529,274.34 2535,274.29 2541,274.24 2546.85,274.19 2547,274.19 2548.35,274.18 2549.85,274.21 2551.35,274.37 2552.85,274.72 2553,274.75 2554.35,274.93 2555.85,274.69 2557.35,274.32 2558.85,274.14 2559,274.13 2560.35,274.09 2561.85,274.07 2565,274.05 2571,274 2577,273.95 2583,273.91 2589,273.86 2592.8,273.83 2594.3,273.82 2595,273.83 2595.8,273.85 2597.3,274.01 2598.8,274.36 2600.3,274.57 2601,274.51 2601.8,274.34 2603.3,273.96 2604.8,273.78 2606.3,273.73 2607,273.72 2607.8,273.71 2613,273.67 2619,273.63 2625,273.58 2631,273.54 2637,273.49 2638.85,273.48 2640.35,273.47 2641.85,273.5 2643,273.6 2643.35,273.66 2644.85,274.01 2646.35,274.22 2647.85,273.99 2649,273.69 2649.35,273.61 2650.85,273.43 2652.35,273.38 2653.85,273.37 2655,273.36 2661,273.32 2667,273.27 2672,273.24 2672,277.48 2667,277.51 2661,277.56 2655,277.6 2653.85,277.61 2652.35,277.62 2650.85,277.59 2649.35,277.43 2649,277.36 2647.85,277.08 2646.35,276.87 2644.85,277.1 2643.35,277.48 2643,277.54 2641.85,277.66 2640.35,277.71 2638.85,277.72 2637,277.74 2631,277.78 2625,277.83 2619,277.87 2613,277.92 2607.8,277.96 2607,277.96 2606.3,277.96 2604.8,277.94 2603.3,277.78 2601.8,277.43 2601,277.26 2600.3,277.21 2598.8,277.45 2597.3,277.83 2595.8,278.01 2595,278.04 2594.3,278.06 2592.8,278.07 2589,278.1 2583,278.15 2577,278.19 2571,278.24 2565,278.29 2561.85,278.31 2560.35,278.32 2559,278.3 2558.85,278.3 2557.35,278.14 2555.85,277.79 2554.35,277.57 2553,277.77 2552.85,277.81 2551.35,278.19 2549.85,278.37 2548.35,278.42 2547,278.43 2546.85,278.43 2541,278.48 2535,278.53 2529,278.58 2523,278.63 2517,278.68 2515.98,278.68 2514.48,278.69 2512.98,278.67 2511.48,278.51 2511,278.41 2509.98,278.16 2508.48,277.95 2506.98,278.19 2505.48,278.56 2505,278.64 2503.98,278.74 2502.48,278.79 2500.98,278.81 2499,278.82 2493,278.87 2487,278.92 2481,278.97 2475,279.02 2470.21,279.07 2469,279.07 2468.71,279.07 2467.21,279.05 2465.71,278.89 2464.21,278.54 2463,278.34 2462.71,278.33 2461.21,278.57 2459.71,278.94 2458.21,279.13 2457,279.17 2456.71,279.18 2455.21,279.19 2451,279.23 2445,279.28 2439,279.33 2433,279.38 2427,279.44 2424.53,279.46 2423.03,279.47 2421.53,279.44 2421,279.41 2420.03,279.29 2418.53,278.94 2417.03,278.72 2415.53,278.96 2415,279.11 2414.03,279.34 2412.53,279.52 2411.03,279.57 2409.53,279.59 2409,279.59 2403,279.65 2397,279.7 2391,279.75 2385,279.81 2379,279.86 2378.94,279.86 2377.44,279.87 2375.94,279.85 2374.44,279.69 2373,279.36 2372.94,279.34 2371.44,279.13 2369.94,279.37 2368.44,279.75 2367,279.93 2366.94,279.93 2365.44,279.98 2363.94,280 2361,280.03 2355,280.08 2349,280.14 2343,280.19 2337,280.25 2333.44,280.28 2331.94,280.29 2331,280.28 2330.44,280.27 2328.94,280.11 2327.44,279.76 2325.94,279.55 2325,279.66 2324.44,279.79 2322.94,280.16 2321.44,280.35 2319.94,280.4 2319,280.41 2318.44,280.42 2313,280.47 2307,280.53 2301,280.58 2295,280.64 2289,280.7 2288.03,280.71 2286.53,280.72 2285.03,280.7 2283.53,280.54 2283,280.43 2282.03,280.19 2280.53,279.98 2279.03,280.22 2277.53,280.6 2277,280.69 2276.03,280.78 2274.53,280.83 2273.03,280.85 2271,280.87 2265,280.93 2259,280.99 2253,281.05 2247,281.1 2242.71,281.15 2241.21,281.16 2241,281.16 2239.71,281.14 2238.21,280.98 2236.71,280.63 2235.21,280.42 2235,280.43 2233.71,280.66 2232.21,281.04 2230.71,281.22 2229.21,281.28 2229,281.28 2227.71,281.29 2223,281.34 2217,281.4 2211,281.46 2205,281.52 2199,281.58 2197.48,281.6 2195.98,281.61 2194.48,281.59 2193,281.43 2192.98,281.43 2191.48,281.08 2189.98,280.87 2188.48,281.11 2187,281.49 2186.98,281.49 2185.48,281.68 2183.98,281.73 2182.48,281.75 2181,281.76 2175,281.82 2169,281.89 2163,281.95 2157,282.01 2152.34,282.06 2151,282.07 2150.84,282.07 2149.34,282.05 2147.84,281.89 2146.34,281.55 2145,281.34 2144.84,281.34 2143.34,281.58 2141.84,281.96 2140.34,282.14 2139,282.19 2138.84,282.19 2137.34,282.21 2133,282.26 2127,282.32 2121,282.38 2115,282.45 2109,282.51 2107.29,282.53 2105.79,282.54 2104.29,282.52 2103,282.4 2102.79,282.37 2101.29,282.02 2099.79,281.81 2098.29,282.05 2097,282.39 2096.79,282.43 2095.29,282.62 2093.79,282.67 2092.29,282.69 2091,282.7 2085,282.77 2079,282.83 2073,282.9 2067,282.96 2062.34,283.01 2061,283.03 2060.84,283.03 2059.34,283.01 2057.84,282.85 2056.34,282.51 2055,282.3 2054.84,282.3 2053.34,282.54 2051.84,282.92 2050.34,283.1 2049,283.15 2048.84,283.16 2047.34,283.18 2043,283.23 2037,283.29 2031,283.36 2025,283.42 2019,283.49 2017.47,283.51 2015.97,283.52 2014.47,283.5 2013,283.35 2012.97,283.35 2011.47,283 2009.97,282.79 2008.47,283.03 2007,283.41 2006.97,283.41 2005.47,283.6 2003.97,283.66 2002.47,283.68 2001,283.69 1995,283.76 1989,283.83 1983,283.9 1977,283.96 1972.69,284.01 1971.19,284.03 1971,284.03 1969.69,284.01 1968.19,283.85 1966.69,283.51 1965.19,283.3 1965,283.31 1963.69,283.54 1962.19,283.92 1960.69,284.11 1959.19,284.16 1959,284.17 1957.69,284.19 1953,284.24 1947,284.31 1941,284.38 1935,284.45 1929,284.52 1928,284.53 1926.5,284.54 1925,284.53 1923.5,284.37 1923,284.27 1922,284.03 1920.5,283.82 1919,284.06 1917.5,284.44 1917,284.53 1916,284.63 1914.5,284.68 1913,284.71 1911,284.73 1905,284.8 1899,284.87 1893,284.94 1887,285.01 1883.4,285.06 1881.9,285.07 1881,285.07 1880.4,285.05 1878.9,284.9 1877.4,284.56 1875.9,284.35 1875,284.45 1874.4,284.59 1872.9,284.97 1871.4,285.16 1869.9,285.22 1869,285.23 1868.4,285.24 1863,285.3 1857,285.37 1851,285.45 1845,285.52 1839,285.59" fill="#fff" stroke="none"/>
<polygon points="1830,453.42 1833,453.38 1836,453.35 1839,453.31 1842,453.27 1845,453.24 1848,453.2 1851,453.17 1854,453.17 1857,453.2 1860,453.28 1863,453.4 1866,453.55 1869,453.73 1870,453.79 1870,455.42 1869,455.5 1866,455.75 1863,455.98 1860,456.16 1857,456.31 1854,456.42 1851,456.49 1848,456.53 1845,456.56 1842,456.6 1839,456.63 1836,456.67 1833,456.71 1830,456.74" fill="#fff" stroke="none"/>
<polygon points="1870,453.79 1873,453.61 1876,453.43 1879,453.27 1882,453.12 1885,452.99 1888,452.87 1891,452.78 1894,452.7 1897,452.64 1900,452.6 1903,452.57 1906,452.57 1909,452.58 1912,452.61 1915,452.66 1918,452.72 1921,452.8 1924,452.9 1927,453.01 1929.6,453.11 1929.6,454.73 1927,454.89 1924,455.07 1921,455.24 1918,455.39 1915,455.52 1912,455.64 1909,455.73 1906,455.81 1903,455.88 1900,455.92 1897,455.95 1894,455.95 1891,455.95 1888,455.92 1885,455.87 1882,455.81 1879,455.73 1876,455.64 1873,455.53 1870,455.42" fill="#fff" stroke="none"/>
<polygon points="1929.6,453.11 1932.6,452.93 1935.6,452.76 1938.6,452.6 1941.6,452.45 1944.6,452.32 1947.6,452.21 1950.6,452.11 1953.6,452.03 1956.6,451.98 1959.6,451.93 1962.6,451.91 1965.6,451.9 1968.6,451.91 1971.6,451.94 1974.6,451.99 1977.6,452.05 1980.6,452.13 1983.6,452.22 1986.6,452.33 1989.6,452.45 1989.9,452.46 1989.9,454.08 1989.6,454.1 1986.6,454.28 1983.6,454.45 1980.6,454.61 1977.6,454.75 1974.6,454.88 1971.6,454.99 1968.6,455.08 1965.6,455.16 1962.6,455.22 1959.6,455.26 1956.6,455.28 1953.6,455.28 1950.6,455.27 1947.6,455.24 1944.6,455.2 1941.6,455.13 1938.6,455.05 1935.6,454.96 1932.6,454.85 1929.6,454.73" fill="#fff" stroke="none"/>
<polygon points="1989.9,452.46 1992.9,452.17 1995.9,451.92 1998.9,451.71 2001.9,451.56 2004.9,451.46 2007.9,451.42 2010.9,451.43 2013.9,451.5 2016.9,451.62 2019.9,451.8 2022.9,452.01 2024.1,452.1 2024.1,453.73 2022.9,453.84 2019.9,454.12 2016.9,454.35 2013.9,454.54 2010.9,454.67 2007.9,454.74 2004.9,454.76 2001.9,454.73 1998.9,454.64 1995.9,454.5 1992.9,454.3 1989.9,454.08" fill="#fff" stroke="none"/>
<polygon points="2024.1,452.1 2027.1,451.74 2030.1,451.45 2033.1,451.25 2036.1,451.14 2039.1,451.12 2042.1,451.2 2045.1,451.37 2048.1,451.63 2050.2,451.84 2050.2,453.46 2048.1,453.72 2045.1,454.04 2042.1,454.27 2039.1,454.4 2036.1,454.45 2033.1,454.4 2030.1,454.26 2027.1,454.02 2024.1,453.73" fill="#fff" stroke="none"/>
<polygon points="2050.2,451.84 2053.2,451.7 2056.2,451.57 2059.2,451.44 2062.2,451.33 2065.2,451.22 2068.2,451.13 2071.2,451.04 2074.2,450.96 2077.2,450.89 2080.2,450.83 2083.2,450.77 2086.2,450.72 2089.2,450.67 2092.2,450.62 2095.2,450.58 2098.2,450.54 2101.2,450.51 2104.2,450.47 2107.2,450.44 2110.2,450.41 2113.2,450.38 2116.2,450.35 2119.2,450.32 2122.2,450.29 2125.2,450.27 2128.2,450.24 2131.2,450.21 2134.2,450.18 2137.2,450.16 2140.2,450.13 2143.2,450.1 2146.2,450.08 2149.2,450.05 2152.2,450.02 2155.2,450 2158.2,449.98 2161.2,449.96 2164.2,449.94 2167.2,449.93 2170.2,449.91 2173.2,449.91 2176.2,449.9 2179.2,449.91 2182.2,449.91 2185.2,449.93 2188.2,449.95 2191.2,449.98 2194.2,450.01 2197.2,450.06 2200.2,450.12 2203.2,450.18 2206.2,450.26 2209.2,450.34 2210,450.36 2210,451.99 2209.2,452.02 2206.2,452.16 2203.2,452.28 2200.2,452.4 2197.2,452.51 2194.2,452.61 2191.2,452.7 2188.2,452.78 2185.2,452.85 2182.2,452.92 2179.2,452.98 2176.2,453.03 2173.2,453.08 2170.2,453.13 2167.2,453.17 2164.2,453.21 2161.2,453.24 2158.2,453.28 2155.2,453.31 2152.2,453.34 2149.2,453.37 2146.2,453.4 2143.2,453.42 2140.2,453.45 2137.2,453.48 2134.2,453.51 2131.2,453.53 2128.2,453.56 2125.2,453.59 2122.2,453.62 2119.2,453.65 2116.2,453.67 2113.2,453.7 2110.2,453.73 2107.2,453.75 2104.2,453.78 2101.2,453.8 2098.2,453.82 2095.2,453.84 2092.2,453.86 2089.2,453.87 2086.2,453.88 2083.2,453.88 2080.2,453.88 2077.2,453.88 2074.2,453.86 2071.2,453.84 2068.2,453.82 2065.2,453.78 2062.2,453.73 2059.2,453.68 2056.2,453.61 2053.2,453.54 2050.2,453.46" fill="#fff" stroke="none"/>
<polygon points="2210,450.36 2213,450.25 2216,450.14 2219,450.03 2222,449.93 2225,449.84 2228,449.75 2231,449.67 2234,449.6 2237,449.53 2240,449.46 2243,449.41 2246,449.35 2249,449.3 2252,449.26 2255,449.22 2258,449.18 2261,449.14 2264,449.1 2267,449.07 2270,449.04 2273,449.01 2276,448.98 2279,448.96 2282,448.93 2285,448.91 2288,448.88 2291,448.86 2294,448.84 2297,448.81 2300,448.79 2303,448.77 2306,448.74 2309,448.72 2312,448.7 2315,448.68 2318,448.65 2321,448.63 2324,448.61 2327,448.59 2330,448.57 2333,448.55 2336,448.53 2339,448.51 2342,448.49 2345,448.48 2348,448.46 2351,448.45 2354,448.44 2357,448.43 2360,448.43 2363,448.43 2366,448.43 2369,448.44 2372,448.45 2375,448.46 2378,448.48 2381,448.51 2384,448.54 2387,448.57 2390,448.62 2393,448.67 2396,448.73 2399,448.79 2402,448.86 2403.8,448.9 2403.8,450.52 2402,450.59 2399,450.7 2396,450.8 2393,450.9 2390,450.99 2387,451.08 2384,451.15 2381,451.23 2378,451.29 2375,451.35 2372,451.41 2369,451.46 2366,451.51 2363,451.55 2360,451.59 2357,451.63 2354,451.67 2351,451.7 2348,451.73 2345,451.76 2342,451.79 2339,451.81 2336,451.84 2333,451.86 2330,451.89 2327,451.91 2324,451.93 2321,451.95 2318,451.98 2315,452 2312,452.02 2309,452.05 2306,452.07 2303,452.09 2300,452.11 2297,452.14 2294,452.16 2291,452.18 2288,452.2 2285,452.23 2282,452.25 2279,452.27 2276,452.29 2273,452.31 2270,452.33 2267,452.34 2264,452.36 2261,452.37 2258,452.38 2255,452.39 2252,452.4 2249,452.4 2246,452.4 2243,452.4 2240,452.39 2237,452.37 2234,452.35 2231,452.33 2228,452.3 2225,452.26 2222,452.22 2219,452.17 2216,452.11 2213,452.05 2210,451.99" fill="#fff" stroke="none"/>
<polygon points="2403.8,448.9 2406.8,448.79 2409.8,448.69 2412.8,448.59 2415.8,448.49 2418.8,448.4 2421.8,448.32 2424.8,448.25 2427.8,448.18 2430.8,448.12 2433.8,448.06 2436.8,448.01 2439.8,447.96 2442.8,447.92 2445.8,447.87 2448.8,447.84 2451.8,447.8 2454.8,447.77 2457.8,447.74 2460.8,447.72 2463.8,447.69 2466.8,447.67 2469.8,447.64 2472.8,447.62 2475.8,447.6 2478.8,447.58 2481.8,447.56 2484.8,447.55 2487.8,447.53 2490.8,447.51 2493.8,447.49 2496.8,447.48 2499.8,447.46 2502.8,447.44 2505.8,447.42 2508.8,447.41 2511.8,447.39 2514.8,447.37 2517.8,447.36 2520.8,447.34 2523.8,447.33 2526.8,447.31 2529.8,447.3 2532.8,447.28 2535.8,447.27 2538.8,447.26 2541.8,447.25 2544.8,447.24 2547.8,447.24 2550.8,447.23 2553.8,447.23 2556.8,447.23 2559.8,447.24 2562.8,447.25 2565.8,447.26 2568.8,447.28 2571.8,447.3 2574.8,447.33 2577.8,447.36 2580.8,447.4 2583.8,447.44 2586.8,447.49 2589.8,447.55 2592.8,447.62 2595.8,447.69 2598.8,447.76 2599.8,447.78 2599.8,449.41 2598.8,449.44 2595.8,449.54 2592.8,449.64 2589.8,449.74 2586.8,449.82 2583.8,449.9 2580.8,449.98 2577.8,450.05 2574.8,450.11 2571.8,450.16 2568.8,450.22 2565.8,450.26 2562.8,450.31 2559.8,450.35 2556.8,450.38 2553.8,450.42 2550.8,450.45 2547.8,450.47 2544.8,450.5 2541.8,450.52 2538.8,450.55 2535.8,450.57 2532.8,450.59 2529.8,450.61 2526.8,450.63 2523.8,450.64 2520.8,450.66 2517.8,450.68 2514.8,450.7 2511.8,450.71 2508.8,450.73 2505.8,450.75 2502.8,450.76 2499.8,450.78 2496.8,450.8 2493.8,450.82 2490.8,450.83 2487.8,450.85 2484.8,450.87 2481.8,450.88 2478.8,450.9 2475.8,450.92 2472.8,450.93 2469.8,450.95 2466.8,450.96 2463.8,450.97 2460.8,450.98 2457.8,450.99 2454.8,451 2451.8,451.01 2448.8,451.01 2445.8,451.01 2442.8,451.01 2439.8,451 2436.8,450.99 2433.8,450.97 2430.8,450.96 2427.8,450.93 2424.8,450.9 2421.8,450.87 2418.8,450.82 2415.8,450.77 2412.8,450.72 2409.8,450.66 2406.8,450.59 2403.8,450.52" fill="#fff" stroke="none"/>
<polygon points="2599.8,447.78 2602.8,447.65 2605.8,447.52 2608.8,447.4 2611.8,447.29 2614.8,447.2 2617.8,447.12 2620.8,447.05 2623.8,446.99 2626.8,446.93 2629.8,446.89 2632.8,446.85 2635.8,446.82 2638.8,446.79 2641.8,446.76 2644.8,446.74 2647.8,446.72 2650.8,446.71 2653.8,446.69 2656.8,446.68 2659.8,446.66 2662.8,446.65 2665.8,446.64 2668.8,446.63 2671.8,446.61 2674.8,446.6 2677.8,446.59 2680.8,446.58 2683.8,446.57 2686.8,446.55 2689.8,446.54 2692.8,446.53 2695.8,446.52 2698.8,446.51 2701.8,446.5 2704.8,446.48 2707.8,446.47 2710.8,446.46 2713.8,446.45 2716.8,446.44 2719.8,446.43 2722.8,446.42 2725.8,446.41 2728.8,446.4 2731.8,446.39 2734.8,446.38 2737.8,446.37 2740,446.36 2740,449.68 2737.8,449.69 2734.8,449.7 2731.8,449.71 2728.8,449.72 2725.8,449.73 2722.8,449.74 2719.8,449.75 2716.8,449.76 2713.8,449.77 2710.8,449.79 2707.8,449.8 2704.8,449.81 2701.8,449.82 2698.8,449.83 2695.8,449.84 2692.8,449.85 2689.8,449.87 2686.8,449.88 2683.8,449.89 2680.8,449.9 2677.8,449.91 2674.8,449.93 2671.8,449.94 2668.8,449.95 2665.8,449.96 2662.8,449.97 2659.8,449.99 2656.8,450 2653.8,450.01 2650.8,450.02 2647.8,450.03 2644.8,450.04 2641.8,450.04 2638.8,450.04 2635.8,450.04 2632.8,450.04 2629.8,450.02 2626.8,450.01 2623.8,449.98 2620.8,449.95 2617.8,449.9 2614.8,449.85 2611.8,449.78 2608.8,449.71 2605.8,449.62 2602.8,449.51 2599.8,449.41" fill="#fff" stroke="none"/>
<polygon points="1832,489.15 1835,489.13 1838,489.11 1841,489.09 1844,489.07 1847,489.05 1850,489.02 1853,489.01 1856,489.04 1859,489.12 1862,489.24 1865,489.42 1868,489.65 1871,489.91 1871,491.72 1868,492.03 1865,492.3 1862,492.52 1859,492.69 1856,492.81 1853,492.88 1850,492.91 1847,492.93 1844,492.95 1841,492.97 1838,492.99 1835,493.01 1832,493.03" fill="#fff" stroke="none"/>
<polygon points="1871,489.91 1874,489.7 1877,489.5 1880,489.32 1883,489.17 1886,489.03 1889,488.91 1892,488.82 1895,488.75 1898,488.69 1901,488.66 1904,488.65 1907,488.67 1910,488.7 1913,488.75 1916,488.83 1919,488.93 1922,489.05 1925,489.19 1928,489.34 1930.6,489.49 1930.6,491.3 1928,491.48 1925,491.68 1922,491.87 1919,492.03 1916,492.17 1913,492.28 1910,492.38 1907,492.46 1904,492.51 1901,492.54 1898,492.56 1895,492.55 1892,492.52 1889,492.47 1886,492.39 1883,492.3 1880,492.18 1877,492.05 1874,491.89 1871,491.72" fill="#fff" stroke="none"/>
<polygon points="1930.6,489.49 1933.6,489.28 1936.6,489.09 1939.6,488.91 1942.6,488.75 1945.6,488.61 1948.6,488.5 1951.6,488.4 1954.6,488.33 1957.6,488.28 1960.6,488.24 1963.6,488.23 1966.6,488.24 1969.6,488.27 1972.6,488.32 1975.6,488.39 1978.6,488.48 1981.6,488.6 1984.6,488.73 1987.6,488.88 1990.6,489.05 1990.9,489.07 1990.9,490.87 1990.6,490.89 1987.6,491.1 1984.6,491.3 1981.6,491.47 1978.6,491.63 1975.6,491.76 1972.6,491.88 1969.6,491.97 1966.6,492.04 1963.6,492.09 1960.6,492.12 1957.6,492.13 1954.6,492.12 1951.6,492.09 1948.6,492.04 1945.6,491.96 1942.6,491.87 1939.6,491.76 1936.6,491.62 1933.6,491.47 1930.6,491.3" fill="#fff" stroke="none"/>
<polygon points="1990.9,489.07 1993.9,488.72 1996.9,488.43 1999.9,488.2 2002.9,488.04 2005.9,487.94 2008.9,487.9 2011.9,487.93 2014.9,488.03 2017.9,488.19 2020.9,488.41 2023.9,488.7 2025.1,488.83 2025.1,490.63 2023.9,490.77 2020.9,491.1 2017.9,491.37 2014.9,491.57 2011.9,491.71 2008.9,491.78 2005.9,491.79 2002.9,491.73 1999.9,491.61 1996.9,491.43 1993.9,491.18 1990.9,490.87" fill="#fff" stroke="none"/>
<polygon points="2025.1,488.83 2028.1,488.39 2031.1,488.05 2034.1,487.82 2037.1,487.71 2040.1,487.7 2043.1,487.81 2046.1,488.03 2049.1,488.36 2051.2,488.64 2051.2,490.44 2049.1,490.76 2046.1,491.13 2043.1,491.39 2040.1,491.54 2037.1,491.58 2034.1,491.5 2031.1,491.32 2028.1,491.02 2025.1,490.63" fill="#fff" stroke="none"/>
<polygon points="2051.2,488.64 2054.2,488.48 2057.2,488.33 2060.2,488.19 2063.2,488.07 2066.2,487.95 2069.2,487.85 2072.2,487.76 2075.2,487.68 2078.2,487.61 2081.2,487.55 2084.2,487.49 2087.2,487.44 2090.2,487.4 2093.2,487.36 2096.2,487.32 2099.2,487.29 2102.2,487.26 2105.2,487.23 2108.2,487.21 2111.2,487.18 2114.2,487.16 2117.2,487.14 2120.2,487.12 2123.2,487.09 2126.2,487.07 2129.2,487.05 2132.2,487.03 2135.2,487.01 2138.2,486.99 2141.2,486.97 2144.2,486.95 2147.2,486.93 2150.2,486.91 2153.2,486.89 2156.2,486.87 2159.2,486.86 2162.2,486.84 2165.2,486.83 2168.2,486.82 2171.2,486.82 2174.2,486.82 2177.2,486.83 2180.2,486.84 2183.2,486.86 2186.2,486.89 2189.2,486.92 2192.2,486.97 2195.2,487.02 2198.2,487.09 2201.2,487.16 2204.2,487.26 2207.2,487.36 2210.2,487.48 2211,487.51 2211,489.32 2210.2,489.36 2207.2,489.52 2204.2,489.67 2201.2,489.8 2198.2,489.92 2195.2,490.03 2192.2,490.13 2189.2,490.22 2186.2,490.29 2183.2,490.36 2180.2,490.42 2177.2,490.48 2174.2,490.53 2171.2,490.57 2168.2,490.61 2165.2,490.64 2162.2,490.68 2159.2,490.7 2156.2,490.73 2153.2,490.76 2150.2,490.78 2147.2,490.8 2144.2,490.83 2141.2,490.85 2138.2,490.87 2135.2,490.89 2132.2,490.91 2129.2,490.93 2126.2,490.95 2123.2,490.98 2120.2,491 2117.2,491.02 2114.2,491.04 2111.2,491.06 2108.2,491.07 2105.2,491.09 2102.2,491.11 2099.2,491.12 2096.2,491.13 2093.2,491.13 2090.2,491.14 2087.2,491.13 2084.2,491.13 2081.2,491.11 2078.2,491.09 2075.2,491.06 2072.2,491.03 2069.2,490.98 2066.2,490.92 2063.2,490.85 2060.2,490.77 2057.2,490.67 2054.2,490.57 2051.2,490.44" fill="#fff" stroke="none"/>
<polygon points="2211,487.51 2214,487.37 2217,487.24 2220,487.12 2223,487.01 2226,486.9 2229,486.81 2232,486.72 2235,486.64 2238,486.57 2241,486.5 2244,486.44 2247,486.38 2250,486.33 2253,486.29 2256,486.24 2259,486.2 2262,486.17 2265,486.13 2268,486.1 2271,486.07 2274,486.04 2277,486.02 2280,485.99 2283,485.97 2286,485.95 2289,485.92 2292,485.9 2295,485.88 2298,485.86 2301,485.84 2304,485.82 2307,485.8 2310,485.77 2313,485.75 2316,485.73 2319,485.71 2322,485.69 2325,485.67 2328,485.65 2331,485.63 2334,485.61 2337,485.59 2340,485.58 2343,485.56 2346,485.55 2349,485.53 2352,485.52 2355,485.52 2358,485.51 2361,485.51 2364,485.51 2367,485.52 2370,485.53 2373,485.54 2376,485.56 2379,485.59 2382,485.62 2385,485.67 2388,485.71 2391,485.77 2394,485.84 2397,485.91 2400,485.99 2403,486.09 2404.8,486.14 2404.8,487.95 2403,488.03 2400,488.17 2397,488.29 2394,488.41 2391,488.52 2388,488.61 2385,488.7 2382,488.79 2379,488.86 2376,488.93 2373,489 2370,489.05 2367,489.11 2364,489.16 2361,489.2 2358,489.24 2355,489.28 2352,489.31 2349,489.35 2346,489.38 2343,489.4 2340,489.43 2337,489.46 2334,489.48 2331,489.5 2328,489.53 2325,489.55 2322,489.57 2319,489.59 2316,489.61 2313,489.63 2310,489.66 2307,489.68 2304,489.7 2301,489.72 2298,489.74 2295,489.76 2292,489.78 2289,489.8 2286,489.82 2283,489.84 2280,489.86 2277,489.88 2274,489.89 2271,489.91 2268,489.92 2265,489.93 2262,489.94 2259,489.95 2256,489.95 2253,489.95 2250,489.95 2247,489.94 2244,489.92 2241,489.9 2238,489.88 2235,489.85 2232,489.81 2229,489.77 2226,489.71 2223,489.65 2220,489.58 2217,489.5 2214,489.41 2211,489.32" fill="#fff" stroke="none"/>
<polygon points="2404.8,486.14 2407.8,486.01 2410.8,485.88 2413.8,485.75 2416.8,485.64 2419.8,485.54 2422.8,485.44 2425.8,485.36 2428.8,485.28 2431.8,485.2 2434.8,485.14 2437.8,485.07 2440.8,485.02 2443.8,484.97 2446.8,484.92 2449.8,484.88 2452.8,484.84 2455.8,484.8 2458.8,484.77 2461.8,484.73 2464.8,484.7 2467.8,484.68 2470.8,484.65 2473.8,484.63 2476.8,484.6 2479.8,484.58 2482.8,484.56 2485.8,484.53 2488.8,484.51 2491.8,484.49 2494.8,484.47 2497.8,484.45 2500.8,484.43 2503.8,484.41 2506.8,484.38 2509.8,484.36 2512.8,484.34 2515.8,484.32 2518.8,484.3 2521.8,484.28 2524.8,484.26 2527.8,484.24 2530.8,484.22 2533.8,484.2 2536.8,484.19 2539.8,484.17 2542.8,484.16 2545.8,484.15 2548.8,484.14 2551.8,484.13 2554.8,484.13 2557.8,484.13 2560.8,484.13 2563.8,484.14 2566.8,484.15 2569.8,484.17 2572.8,484.19 2575.8,484.22 2578.8,484.26 2581.8,484.3 2584.8,484.35 2587.8,484.41 2590.8,484.47 2593.8,484.55 2596.8,484.63 2599.8,484.73 2600.8,484.76 2600.8,486.56 2599.8,486.61 2596.8,486.74 2593.8,486.87 2590.8,486.99 2587.8,487.1 2584.8,487.2 2581.8,487.29 2578.8,487.38 2575.8,487.45 2572.8,487.53 2569.8,487.59 2566.8,487.65 2563.8,487.7 2560.8,487.75 2557.8,487.8 2554.8,487.84 2551.8,487.88 2548.8,487.92 2545.8,487.95 2542.8,487.98 2539.8,488.01 2536.8,488.04 2533.8,488.06 2530.8,488.09 2527.8,488.11 2524.8,488.14 2521.8,488.16 2518.8,488.18 2515.8,488.2 2512.8,488.22 2509.8,488.24 2506.8,488.27 2503.8,488.29 2500.8,488.31 2497.8,488.33 2494.8,488.35 2491.8,488.37 2488.8,488.39 2485.8,488.41 2482.8,488.43 2479.8,488.45 2476.8,488.47 2473.8,488.49 2470.8,488.51 2467.8,488.52 2464.8,488.54 2461.8,488.55 2458.8,488.56 2455.8,488.57 2452.8,488.58 2449.8,488.58 2446.8,488.58 2443.8,488.57 2440.8,488.56 2437.8,488.55 2434.8,488.53 2431.8,488.51 2428.8,488.47 2425.8,488.44 2422.8,488.39 2419.8,488.34 2416.8,488.28 2413.8,488.21 2410.8,488.13 2407.8,488.04 2404.8,487.95" fill="#fff" stroke="none"/>
<polygon points="2600.8,484.76 2603.8,484.58 2606.8,484.41 2609.8,484.26 2612.8,484.13 2615.8,484.01 2618.8,483.91 2621.8,483.82 2624.8,483.74 2627.8,483.68 2630.8,483.62 2633.8,483.57 2636.8,483.52 2639.8,483.48 2642.8,483.45 2645.8,483.42 2648.8,483.39 2651.8,483.37 2654.8,483.34 2657.8,483.32 2660.8,483.3 2663.8,483.28 2666.8,483.25 2669.8,483.23 2672.8,483.21 2675.8,483.19 2678.8,483.17 2681.8,483.15 2684.8,483.13 2687.8,483.11 2690.8,483.08 2693.8,483.06 2696.8,483.04 2699.8,483.02 2702.8,483 2705.8,482.98 2708.8,482.96 2711.8,482.94 2714.8,482.91 2717.8,482.89 2720.8,482.87 2723.8,482.85 2726.8,482.83 2729.8,482.81 2732.8,482.79 2735.8,482.77 2738.8,482.75 2740,482.74 2740,486.62 2738.8,486.63 2735.8,486.65 2732.8,486.67 2729.8,486.69 2726.8,486.71 2723.8,486.73 2720.8,486.75 2717.8,486.77 2714.8,486.8 2711.8,486.82 2708.8,486.84 2705.8,486.86 2702.8,486.88 2699.8,486.9 2696.8,486.92 2693.8,486.94 2690.8,486.97 2687.8,486.99 2684.8,487.01 2681.8,487.03 2678.8,487.05 2675.8,487.07 2672.8,487.09 2669.8,487.11 2666.8,487.13 2663.8,487.16 2660.8,487.18 2657.8,487.2 2654.8,487.22 2651.8,487.24 2648.8,487.25 2645.8,487.27 2642.8,487.28 2639.8,487.29 2636.8,487.29 2633.8,487.29 2630.8,487.28 2627.8,487.26 2624.8,487.24 2621.8,487.2 2618.8,487.16 2615.8,487.1 2612.8,487.02 2609.8,486.93 2606.8,486.83 2603.8,486.7 2600.8,486.56" fill="#fff" stroke="none"/>
<polygon points="1840,585.41 1846,585.36 1852,585.32 1858,585.27 1864,585.22 1870,585.18 1876,585.13 1882,585.08 1888,585.04 1894,584.99 1900,584.95 1906,584.9 1912,584.86 1918,584.81 1924,584.77 1930,584.72 1936,584.68 1942,584.63 1948,584.59 1954,584.54 1960,584.5 1966,584.45 1969.5,584.43 1970.25,584.47 1971,584.53 1971.75,584.64 1972,584.69 1972.5,584.81 1973.25,585.07 1974,585.81 1974,585.81 1973.25,586.57 1972.5,586.84 1972,586.97 1971.75,587.02 1971,587.14 1970.25,587.22 1969.5,587.26 1966,587.3 1960,587.34 1954,587.39 1948,587.43 1942,587.48 1936,587.53 1930,587.57 1924,587.62 1918,587.66 1912,587.71 1906,587.76 1900,587.8 1894,587.85 1888,587.9 1882,587.94 1876,587.99 1870,588.04 1864,588.08 1858,588.13 1852,588.18 1846,588.22 1840,588.27" fill="#fff" stroke="none"/>
<polygon points="1991.5,585.68 1992.25,584.93 1993,584.66 1993.75,584.48 1994.5,584.36 1995.25,584.28 1996,584.24 1997.5,584.22 2003.5,584.18 2009.5,584.14 2015.5,584.09 2021.5,584.05 2027.5,584.01 2033.5,583.96 2039.5,583.92 2045.5,583.88 2051.5,583.84 2057.5,583.79 2063.5,583.75 2069.5,583.71 2075.5,583.67 2081.5,583.63 2087.5,583.58 2093.5,583.54 2099.5,583.5 2105.5,583.46 2111.5,583.42 2117.5,583.38 2123.5,583.34 2129.5,583.3 2135.5,583.26 2141.5,583.22 2147.5,583.17 2153.5,583.13 2159.5,583.09 2165.5,583.05 2171.5,583.01 2177.5,582.97 2183.5,582.94 2189.5,582.9 2195.5,582.86 2201.5,582.82 2207.5,582.78 2213.5,582.74 2219.5,582.7 2225.5,582.66 2231.5,582.62 2237.5,582.58 2243.5,582.55 2249.5,582.51 2255.5,582.47 2261.5,582.43 2267.5,582.39 2273.5,582.36 2279.5,582.32 2285.5,582.28 2291.5,582.24 2297.5,582.21 2301.5,582.19 2302.25,582.22 2303,582.28 2303.5,582.34 2303.75,582.38 2304.5,582.54 2305.25,582.78 2306,583.46 2306,583.46 2305.25,584.15 2304.5,584.4 2303.75,584.56 2303.5,584.61 2303,584.68 2302.25,584.75 2301.5,584.79 2297.5,584.82 2291.5,584.87 2285.5,584.91 2279.5,584.96 2273.5,585 2267.5,585.04 2261.5,585.09 2255.5,585.13 2249.5,585.17 2243.5,585.22 2237.5,585.26 2231.5,585.31 2225.5,585.35 2219.5,585.39 2213.5,585.44 2207.5,585.48 2201.5,585.53 2195.5,585.57 2189.5,585.62 2183.5,585.66 2177.5,585.7 2171.5,585.75 2165.5,585.79 2159.5,585.84 2153.5,585.88 2147.5,585.93 2141.5,585.97 2135.5,586.02 2129.5,586.06 2123.5,586.11 2117.5,586.15 2111.5,586.19 2105.5,586.24 2099.5,586.28 2093.5,586.33 2087.5,586.37 2081.5,586.42 2075.5,586.46 2069.5,586.51 2063.5,586.55 2057.5,586.6 2051.5,586.65 2045.5,586.69 2039.5,586.74 2033.5,586.78 2027.5,586.83 2021.5,586.87 2015.5,586.92 2009.5,586.96 2003.5,587.01 1997.5,587.05 1996,587.06 1995.25,587.03 1994.5,586.96 1993.75,586.85 1993,586.68 1992.25,586.42 1991.5,585.68" fill="#fff" stroke="none"/>
<polygon points="2322,583.35 2322.75,582.66 2323.5,582.42 2324.25,582.26 2325,582.15 2325.75,582.07 2326.5,582.04 2328,582.02 2334,581.98 2334.5,581.99 2335.25,582.02 2336,582.08 2336.75,582.18 2337.5,582.33 2338.25,582.57 2339,583.24 2339,583.24 2338.25,583.92 2337.5,584.17 2336.75,584.33 2336,584.44 2335.25,584.51 2334.5,584.55 2334,584.56 2328,584.6 2326.5,584.61 2325.75,584.58 2325,584.52 2324.25,584.42 2323.5,584.27 2322.75,584.03 2322,583.35" fill="#fff" stroke="none"/>
<polygon points="2422,582.7 2422.75,582.04 2423.5,581.81 2424.25,581.65 2425,581.55 2425.75,581.48 2426.5,581.44 2428,581.43 2434,581.39 2440,581.36 2446,581.33 2452,581.29 2458,581.26 2464,581.22 2470,581.19 2476,581.16 2482,581.12 2488,581.09 2494,581.06 2500,581.03 2506,580.99 2512,580.96 2518,580.93 2524,580.89 2530,580.86 2536,580.83 2542,580.8 2548,580.77 2554,580.73 2560,580.7 2566,580.67 2572,580.64 2578,580.61 2583.5,580.58 2584,580.6 2584.25,580.61 2585,580.66 2585.75,580.75 2586.5,580.88 2587.25,581.08 2588,581.66 2588,581.66 2587.25,582.25 2586.5,582.46 2585.75,582.6 2585,582.7 2584.25,582.76 2584,582.78 2583.5,582.8 2578,582.84 2572,582.88 2566,582.92 2560,582.96 2554,583.01 2548,583.05 2542,583.09 2536,583.13 2530,583.17 2524,583.21 2518,583.26 2512,583.3 2506,583.34 2500,583.38 2494,583.42 2488,583.47 2482,583.51 2476,583.55 2470,583.59 2464,583.63 2458,583.68 2452,583.72 2446,583.76 2440,583.8 2434,583.85 2428,583.89 2426.5,583.89 2425.75,583.87 2425,583.81 2424.25,583.71 2423.5,583.57 2422.75,583.34 2422,582.7" fill="#fff" stroke="none"/>
<polygon points="2624.5,581.44 2625.25,580.87 2626,580.67 2626.75,580.53 2627.5,580.44 2628.25,580.38 2629,580.35 2630.5,580.34 2636.5,580.31 2642.5,580.28 2648.5,580.25 2654.5,580.22 2660.5,580.19 2666.5,580.16 2672.5,580.13 2675,580.12 2675,582.18 2672.5,582.19 2666.5,582.24 2660.5,582.28 2654.5,582.32 2648.5,582.36 2642.5,582.4 2636.5,582.44 2630.5,582.48 2629,582.48 2628.25,582.46 2627.5,582.41 2626.75,582.33 2626,582.2 2625.25,582.01 2624.5,581.44" fill="#fff" stroke="none"/>
<polygon points="1840,621.33 1846,621.3 1852,621.27 1858,621.24 1864,621.2 1870,621.17 1876,621.14 1882,621.11 1888,621.07 1894,621.04 1900,621.01 1906,620.97 1912,620.94 1918,620.91 1924,620.88 1930,620.84 1936,620.81 1942,620.78 1948,620.74 1954,620.71 1960,620.68 1966,620.64 1972,620.62 1972.75,620.66 1973.5,620.75 1974.25,620.9 1975,621.11 1975.75,621.44 1976.5,622.39 1976.5,622.39 1975.75,623.34 1975,623.68 1974.25,623.9 1973.5,624.05 1972.75,624.15 1972,624.2 1966,624.24 1960,624.28 1954,624.31 1948,624.35 1942,624.38 1936,624.41 1930,624.45 1924,624.48 1918,624.51 1912,624.54 1906,624.58 1900,624.61 1894,624.64 1888,624.67 1882,624.7 1876,624.73 1870,624.77 1864,624.8 1858,624.83 1852,624.86 1846,624.89 1840,624.92" fill="#fff" stroke="none"/>
<polygon points="1991.5,622.3 1992.25,621.35 1993,621.01 1993.75,620.79 1994.5,620.64 1995.25,620.54 1996,620.49 1997.5,620.47 2003.5,620.44 2009.5,620.4 2015.5,620.37 2021.5,620.34 2027.5,620.3 2033.5,620.27 2039.5,620.24 2045.5,620.2 2051.5,620.17 2057.5,620.14 2063.5,620.1 2069.5,620.07 2075.5,620.03 2081.5,620 2087.5,619.97 2093.5,619.93 2099.5,619.9 2105.5,619.86 2111.5,619.83 2117.5,619.8 2123.5,619.76 2129.5,619.73 2135.5,619.69 2141.5,619.66 2147.5,619.63 2153.5,619.59 2159.5,619.56 2165.5,619.52 2171.5,619.49 2177.5,619.46 2183.5,619.42 2189.5,619.39 2195.5,619.35 2201.5,619.32 2207.5,619.28 2213.5,619.25 2219.5,619.21 2225.5,619.18 2231.5,619.15 2237.5,619.11 2243.5,619.08 2249.5,619.04 2255.5,619.01 2261.5,618.97 2267.5,618.94 2273.5,618.9 2279.5,618.87 2285.5,618.83 2291.5,618.8 2297.5,618.76 2303.5,618.73 2306.5,618.72 2307.25,618.76 2308,618.84 2308.75,618.97 2309.5,619.17 2310.25,619.47 2311,620.34 2311,620.34 2310.25,621.21 2309.5,621.53 2308.75,621.73 2308,621.87 2307.25,621.97 2306.5,622.01 2303.5,622.05 2297.5,622.09 2291.5,622.13 2285.5,622.18 2279.5,622.22 2273.5,622.26 2267.5,622.31 2261.5,622.35 2255.5,622.39 2249.5,622.44 2243.5,622.48 2237.5,622.52 2231.5,622.56 2225.5,622.6 2219.5,622.65 2213.5,622.69 2207.5,622.73 2201.5,622.77 2195.5,622.81 2189.5,622.85 2183.5,622.89 2177.5,622.93 2171.5,622.97 2165.5,623.01 2159.5,623.05 2153.5,623.09 2147.5,623.13 2141.5,623.17 2135.5,623.21 2129.5,623.25 2123.5,623.29 2117.5,623.33 2111.5,623.37 2105.5,623.41 2099.5,623.44 2093.5,623.48 2087.5,623.52 2081.5,623.56 2075.5,623.59 2069.5,623.63 2063.5,623.67 2057.5,623.71 2051.5,623.74 2045.5,623.78 2039.5,623.81 2033.5,623.85 2027.5,623.89 2021.5,623.92 2015.5,623.96 2009.5,623.99 2003.5,624.03 1997.5,624.06 1996,624.06 1995.25,624.02 1994.5,623.93 1993.75,623.79 1993,623.58 1992.25,623.24 1991.5,622.3" fill="#fff" stroke="none"/>
<polygon points="2323,620.26 2323.75,619.39 2324.5,619.07 2325.25,618.87 2326,618.73 2326.75,618.64 2327.5,618.6 2329,618.58 2335,618.54 2337.5,618.54 2338.25,618.58 2339,618.66 2339.75,618.78 2340.5,618.98 2341,619.16 2341.25,619.28 2342,620.13 2342,620.13 2341.25,620.99 2341,621.11 2340.5,621.3 2339.75,621.51 2339,621.64 2338.25,621.73 2337.5,621.78 2335,621.81 2329,621.86 2327.5,621.86 2326.75,621.82 2326,621.74 2325.25,621.61 2324.5,621.42 2323.75,621.12 2323,620.26" fill="#fff" stroke="none"/>
<polygon points="2422,619.58 2422.75,618.76 2423.5,618.47 2424.25,618.27 2425,618.14 2425.75,618.06 2426.5,618.01 2428,618 2434,617.96 2440,617.92 2446,617.89 2452,617.85 2458,617.82 2464,617.78 2470,617.75 2476,617.71 2482,617.67 2488,617.64 2494,617.6 2500,617.57 2506,617.53 2512,617.49 2518,617.46 2524,617.42 2530,617.39 2536,617.35 2542,617.31 2548,617.28 2554,617.24 2560,617.2 2566,617.17 2572,617.13 2578,617.09 2584,617.06 2588,617.04 2588.75,617.07 2589.5,617.14 2590,617.2 2590.25,617.24 2591,617.4 2591.75,617.65 2592.5,618.36 2592.5,618.36 2591.75,619.07 2591,619.33 2590.25,619.5 2590,619.55 2589.5,619.62 2588.75,619.7 2588,619.74 2584,619.78 2578,619.83 2572,619.89 2566,619.94 2560,619.99 2554,620.04 2548,620.09 2542,620.14 2536,620.2 2530,620.25 2524,620.3 2518,620.35 2512,620.4 2506,620.45 2500,620.5 2494,620.55 2488,620.6 2482,620.65 2476,620.7 2470,620.75 2464,620.8 2458,620.85 2452,620.9 2446,620.94 2440,620.99 2434,621.04 2428,621.09 2426.5,621.09 2425.75,621.06 2425,620.98 2424.25,620.86 2423.5,620.68 2422.75,620.4 2422,619.58" fill="#fff" stroke="none"/>
<polygon points="2624.5,618.12 2625.25,617.42 2626,617.17 2626.75,617.01 2627.5,616.9 2628.25,616.83 2629,616.79 2630.5,616.77 2636.5,616.74 2642.5,616.7 2648.5,616.66 2654.5,616.63 2660.5,616.59 2666.5,616.55 2672.5,616.52 2675,616.5 2675,618.96 2672.5,618.98 2666.5,619.04 2660.5,619.09 2654.5,619.15 2648.5,619.2 2642.5,619.26 2636.5,619.31 2630.5,619.37 2629,619.37 2628.25,619.35 2627.5,619.29 2626.75,619.19 2626,619.04 2625.25,618.8 2624.5,618.12" fill="#fff" stroke="none"/>
</g>
<g filter="url(#bfp3)" fill="none">
<path d="M1845 744.4Q1847.5 744.39 1850 744.38" stroke="#b4b4b4" stroke-width="1.2" stroke-linecap="butt"/>
<path d="M1854 744.36Q1877 744.27 1900 744.18" stroke="#a7a7a7" stroke-width="1.2" stroke-linecap="butt"/>
<path d="M1900 744.18Q1927.5 744.07 1955 743.95" stroke="#8b8b8b" stroke-width="1.2" stroke-linecap="butt"/>
<path d="M2000 743.77Q2030 743.65 2060 743.52" stroke="#838383" stroke-width="1.2" stroke-linecap="butt"/>
<path d="M2075 743.46Q2167.5 743.08 2260 742.68" stroke="#717171" stroke-width="1.2" stroke-linecap="butt"/>
<path d="M1847.6 780.69Q1904.2 780.46 1960.8 780.23" stroke="#eaeaea" stroke-width="1.2" stroke-linecap="butt"/>
<path d="M2000.6 780.07Q2033.1 779.93 2065.6 779.8" stroke="#cbcbcb" stroke-width="1.2" stroke-linecap="butt"/>
<path d="M2072 779.77Q2163.5 779.39 2255 779" stroke="#cbcbcb" stroke-width="1.2" stroke-linecap="butt"/>
<path d="M2255 779Q2271.5 778.93 2288 778.86" stroke="#9a9a9a" stroke-width="1.2" stroke-linecap="butt"/>
<path d="M2515 777.87Q2530 777.81 2545 777.74" stroke="#838383" stroke-width="1.2" stroke-linecap="butt"/>
<path d="M2645 777.29Q2655 777.25 2665 777.2" stroke="#838383" stroke-width="1.2" stroke-linecap="butt"/>
</g>
</g>
<path d="M1845.2 155.02Q2255.5 150.64 2665.8 145.97M1845.2 170.68Q2255.5 166.3 2665.8 161.63M1845.2 191.42Q2255.5 186.72 2665.8 182.22M1845.2 207.08Q2255.5 202.38 2665.8 197.88M1845.2 238.62Q2255.5 234.42 2665.8 229.82M1845.2 254.28Q2255.5 250.08 2665.8 245.48M1845.2 274.72Q2255.5 270.69 2665.8 266.37M1845.2 290.38Q2255.5 286.35 2665.8 282.03M1845.2 340.02Q2255.5 338.67 2665.8 327.93M1845.2 355.68Q2255.5 354.33 2665.8 343.59M1845.2 371.42Q2255.5 370.07 2665.8 359.53M1845.2 387.08Q2255.5 385.73 2665.8 375.19M1845.2 445.72Q2255.5 442.32 2665.8 439.12M1845.2 461.38Q2255.5 457.98 2665.8 454.78M1845.2 482.72Q2255.5 478.87 2665.8 476.02M1845.2 498.38Q2255.5 494.53 2665.8 491.68M1845.2 577.42Q2255.5 575.12 2665.8 572.02M1845.2 593.08Q2255.5 590.78 2665.8 587.68M1845.2 614.32Q2255.5 611.74 2665.8 608.67M1845.2 629.98Q2255.5 627.4 2665.8 624.33M1845.2 735.22Q2255.5 733.17 2665.8 730.92M1845.2 750.88Q2255.5 748.83 2665.8 746.58M1845.2 771.92Q2255.5 769.92 2665.8 767.52M1845.2 787.58Q2255.5 785.58 2665.8 783.18" fill="none" stroke="#000" stroke-width="2.5"/>
<path d="M1845.2 155.02Q2255.5 150.64 2665.8 145.97M1845.2 170.68Q2255.5 166.3 2665.8 161.63M1845.2 191.42Q2255.5 186.72 2665.8 182.22M1845.2 207.08Q2255.5 202.38 2665.8 197.88M1845.2 238.62Q2255.5 234.42 2665.8 229.82M1845.2 254.28Q2255.5 250.08 2665.8 245.48M1845.2 274.72Q2255.5 270.69 2665.8 266.37M1845.2 290.38Q2255.5 286.35 2665.8 282.03M1845.2 340.02Q2255.5 338.67 2665.8 327.93M1845.2 355.68Q2255.5 354.33 2665.8 343.59M1845.2 371.42Q2255.5 370.07 2665.8 359.53M1845.2 387.08Q2255.5 385.73 2665.8 375.19M1845.2 445.72Q2255.5 442.32 2665.8 439.12M1845.2 461.38Q2255.5 457.98 2665.8 454.78M1845.2 482.72Q2255.5 478.87 2665.8 476.02M1845.2 498.38Q2255.5 494.53 2665.8 491.68M1845.2 577.42Q2255.5 575.12 2665.8 572.02M1845.2 593.08Q2255.5 590.78 2665.8 587.68M1845.2 614.32Q2255.5 611.74 2665.8 608.67M1845.2 629.98Q2255.5 627.4 2665.8 624.33M1845.2 735.22Q2255.5 733.17 2665.8 730.92M1845.2 750.88Q2255.5 748.83 2665.8 746.58M1845.2 771.92Q2255.5 769.92 2665.8 767.52M1845.2 787.58Q2255.5 785.58 2665.8 783.18" fill="none" stroke="#fff" stroke-width="2.5" stroke-dasharray="10 10"/>
</g>
<rect x="1845" y="100" width="820" height="713" fill="none" stroke="#000" stroke-width="2"/>
<path d="M1845 813v7.3M1945 813v7.3M2046 813v7.3M2146 813v7.3M2246 813v7.3M2346 813v7.3M2447 813v7.3M2547 813v7.3M2647 813v7.3M1845 813h-7.3M1845 725.5h-7.3M1845 638h-7.3M1845 551h-7.3M1845 464h-7.3M1845 377h-7.3M1845 290h-7.3M1845 203h-7.3M1845 116h-7.3" stroke="#000" stroke-width="2" fill="none"/>
</g>
<g id="labels" opacity="0.999">
<g id="sup" font-size="22.5"><text x="1039.06" y="34.6" textLength="60.75" lengthAdjust="spacingAndGlyphs">bet01</text><text x="1099.81" y="34.6" textLength="48" lengthAdjust="spacingAndGlyphs">_Sco</text><text x="1147.81" y="34.6" textLength="81.38" lengthAdjust="spacingAndGlyphs">_M4211</text><text x="1229.18" y="34.6" textLength="63.5" lengthAdjust="spacingAndGlyphs">_2022</text><text x="1292.68" y="34.6" textLength="33.88" lengthAdjust="spacingAndGlyphs">-08</text><text x="1326.56" y="34.6" textLength="34.12" lengthAdjust="spacingAndGlyphs">-09</text><text x="1360.68" y="34.6" textLength="76.75" lengthAdjust="spacingAndGlyphs">_01304</text><text x="1450.68" y="34.6" textLength="82.12" lengthAdjust="spacingAndGlyphs">(extract</text><text x="1532.81" y="34.6" textLength="76.88" lengthAdjust="spacingAndGlyphs">_height</text><text x="1609.68" y="34.6" textLength="52.25" lengthAdjust="spacingAndGlyphs">=45)</text></g>
<text id="title1" transform="translate(528.45 87.26) scale(0.9676 0.9970)" text-anchor="middle" font-size="25.5">CHIP1</text>
<text id="xlabel1" transform="translate(530.27 870.75) scale(1.0364 0.9600)" text-anchor="middle" font-size="22.5">pixel</text>
<text id="xt1_0" transform="translate(119.54 842.99) scale(0.9845 1.0113)" text-anchor="middle" font-size="22.5">0</text>
<text id="xt1_250" transform="translate(219.34 843.35) scale(1.0153 1.0036)" text-anchor="middle" font-size="22.5">250</text>
<text id="xt1_500" transform="translate(319.29 843.03) scale(1.0148 1.0135)" text-anchor="middle" font-size="22.5">500</text>
<text id="xt1_750" transform="translate(420.38 843.38) scale(1.0018 1.0095)" text-anchor="middle" font-size="22.5">750</text>
<text id="xt1_1000" transform="translate(520.04 843.24) scale(1.0219 1.0095)" text-anchor="middle" font-size="22.5">1000</text>
<text id="xt1_1250" transform="translate(620.01 843.35) scale(1.0221 1.0174)" text-anchor="middle" font-size="22.5">1250</text>
<text id="xt1_1500" transform="translate(720.14 843.22) scale(1.0192 1.0070)" text-anchor="middle" font-size="22.5">1500</text>
<text id="xt1_1750" transform="translate(821.12 843.34) scale(1.0195 1.0078)" text-anchor="middle" font-size="22.5">1750</text>
<text id="xt1_2000" transform="translate(920.92 843.27) scale(1.0232 1.0124)" text-anchor="middle" font-size="22.5">2000</text>
<text id="title2" transform="translate(1391.39 87.28) scale(0.9681 0.9972)" text-anchor="middle" font-size="25.5">CHIP2</text>
<text id="xlabel2" transform="translate(1393.31 871.29) scale(1.0355 0.9533)" text-anchor="middle" font-size="22.5">pixel</text>
<text id="xt2_0" transform="translate(982.54 842.99) scale(0.9845 1.0113)" text-anchor="middle" font-size="22.5">0</text>
<text id="xt2_250" transform="translate(1082.34 843.35) scale(1.0153 1.0036)" text-anchor="middle" font-size="22.5">250</text>
<text id="xt2_500" transform="translate(1182.29 843.03) scale(1.0148 1.0135)" text-anchor="middle" font-size="22.5">500</text>
<text id="xt2_750" transform="translate(1283.38 843.38) scale(1.0018 1.0095)" text-anchor="middle" font-size="22.5">750</text>
<text id="xt2_1000" transform="translate(1383.04 843.24) scale(1.0219 1.0095)" text-anchor="middle" font-size="22.5">1000</text>
<text id="xt2_1250" transform="translate(1483.01 843.35) scale(1.0221 1.0174)" text-anchor="middle" font-size="22.5">1250</text>
<text id="xt2_1500" transform="translate(1583.14 843.22) scale(1.0192 1.0070)" text-anchor="middle" font-size="22.5">1500</text>
<text id="xt2_1750" transform="translate(1684.12 843.34) scale(1.0195 1.0078)" text-anchor="middle" font-size="22.5">1750</text>
<text id="xt2_2000" transform="translate(1783.92 843.27) scale(1.0232 1.0124)" text-anchor="middle" font-size="22.5">2000</text>
<text id="title3" transform="translate(2255.57 87.1) scale(0.9700 1.0024)" text-anchor="middle" font-size="25.5">CHIP3</text>
<text id="xlabel3" transform="translate(2256.31 871.29) scale(1.0355 0.9533)" text-anchor="middle" font-size="22.5">pixel</text>
<text id="xt3_0" transform="translate(1845.54 842.99) scale(0.9845 1.0113)" text-anchor="middle" font-size="22.5">0</text>
<text id="xt3_250" transform="translate(1945.38 843.41) scale(1.0112 1.0042)" text-anchor="middle" font-size="22.5">250</text>
<text id="xt3_500" transform="translate(2045.23 843.04) scale(1.0096 1.0125)" text-anchor="middle" font-size="22.5">500</text>
<text id="xt3_750" transform="translate(2146.52 843.33) scale(1.0033 1.0166)" text-anchor="middle" font-size="22.5">750</text>
<text id="xt3_1000" transform="translate(2246.06 843.25) scale(1.0226 1.0107)" text-anchor="middle" font-size="22.5">1000</text>
<text id="xt3_1250" transform="translate(2346.01 843.34) scale(1.0170 1.0150)" text-anchor="middle" font-size="22.5">1250</text>
<text id="xt3_1500" transform="translate(2446.04 843.2) scale(1.0159 1.0069)" text-anchor="middle" font-size="22.5">1500</text>
<text id="xt3_1750" transform="translate(2547.03 843.32) scale(1.0200 1.0100)" text-anchor="middle" font-size="22.5">1750</text>
<text id="xt3_2000" transform="translate(2646.91 843.27) scale(1.0256 1.0144)" text-anchor="middle" font-size="22.5">2000</text>
<text id="yt0" transform="translate(104.84 820.39) scale(0.9840 1.0128)" text-anchor="end" font-size="22.5">0</text>
<text id="yt250" transform="translate(103.19 733.32) scale(1.0060 1.0048)" text-anchor="end" font-size="22.5">250</text>
<text id="yt500" transform="translate(103.36 646.42) scale(1.0112 1.0153)" text-anchor="end" font-size="22.5">500</text>
<text id="yt750" transform="translate(103.27 558.71) scale(1.0008 1.0126)" text-anchor="end" font-size="22.5">750</text>
<text id="yt1000" transform="translate(103.46 471.62) scale(1.0146 1.0102)" text-anchor="end" font-size="22.5">1000</text>
<text id="yt1250" transform="translate(103.57 384.71) scale(1.0186 1.0156)" text-anchor="end" font-size="22.5">1250</text>
<text id="yt1500" transform="translate(103.47 297.61) scale(1.0148 1.0056)" text-anchor="end" font-size="22.5">1500</text>
<text id="yt1750" transform="translate(103.55 210.75) scale(1.0175 1.0103)" text-anchor="end" font-size="22.5">1750</text>
<text id="yt2000" transform="translate(103.62 123.66) scale(1.0242 1.0112)" text-anchor="end" font-size="22.5">2000</text>
<text id="ylabel" transform="translate(39.41 458.1) rotate(-90) scale(1.0346 0.9606)" text-anchor="middle" font-size="22.5">pixel</text>
</g>
</svg></body></html>
